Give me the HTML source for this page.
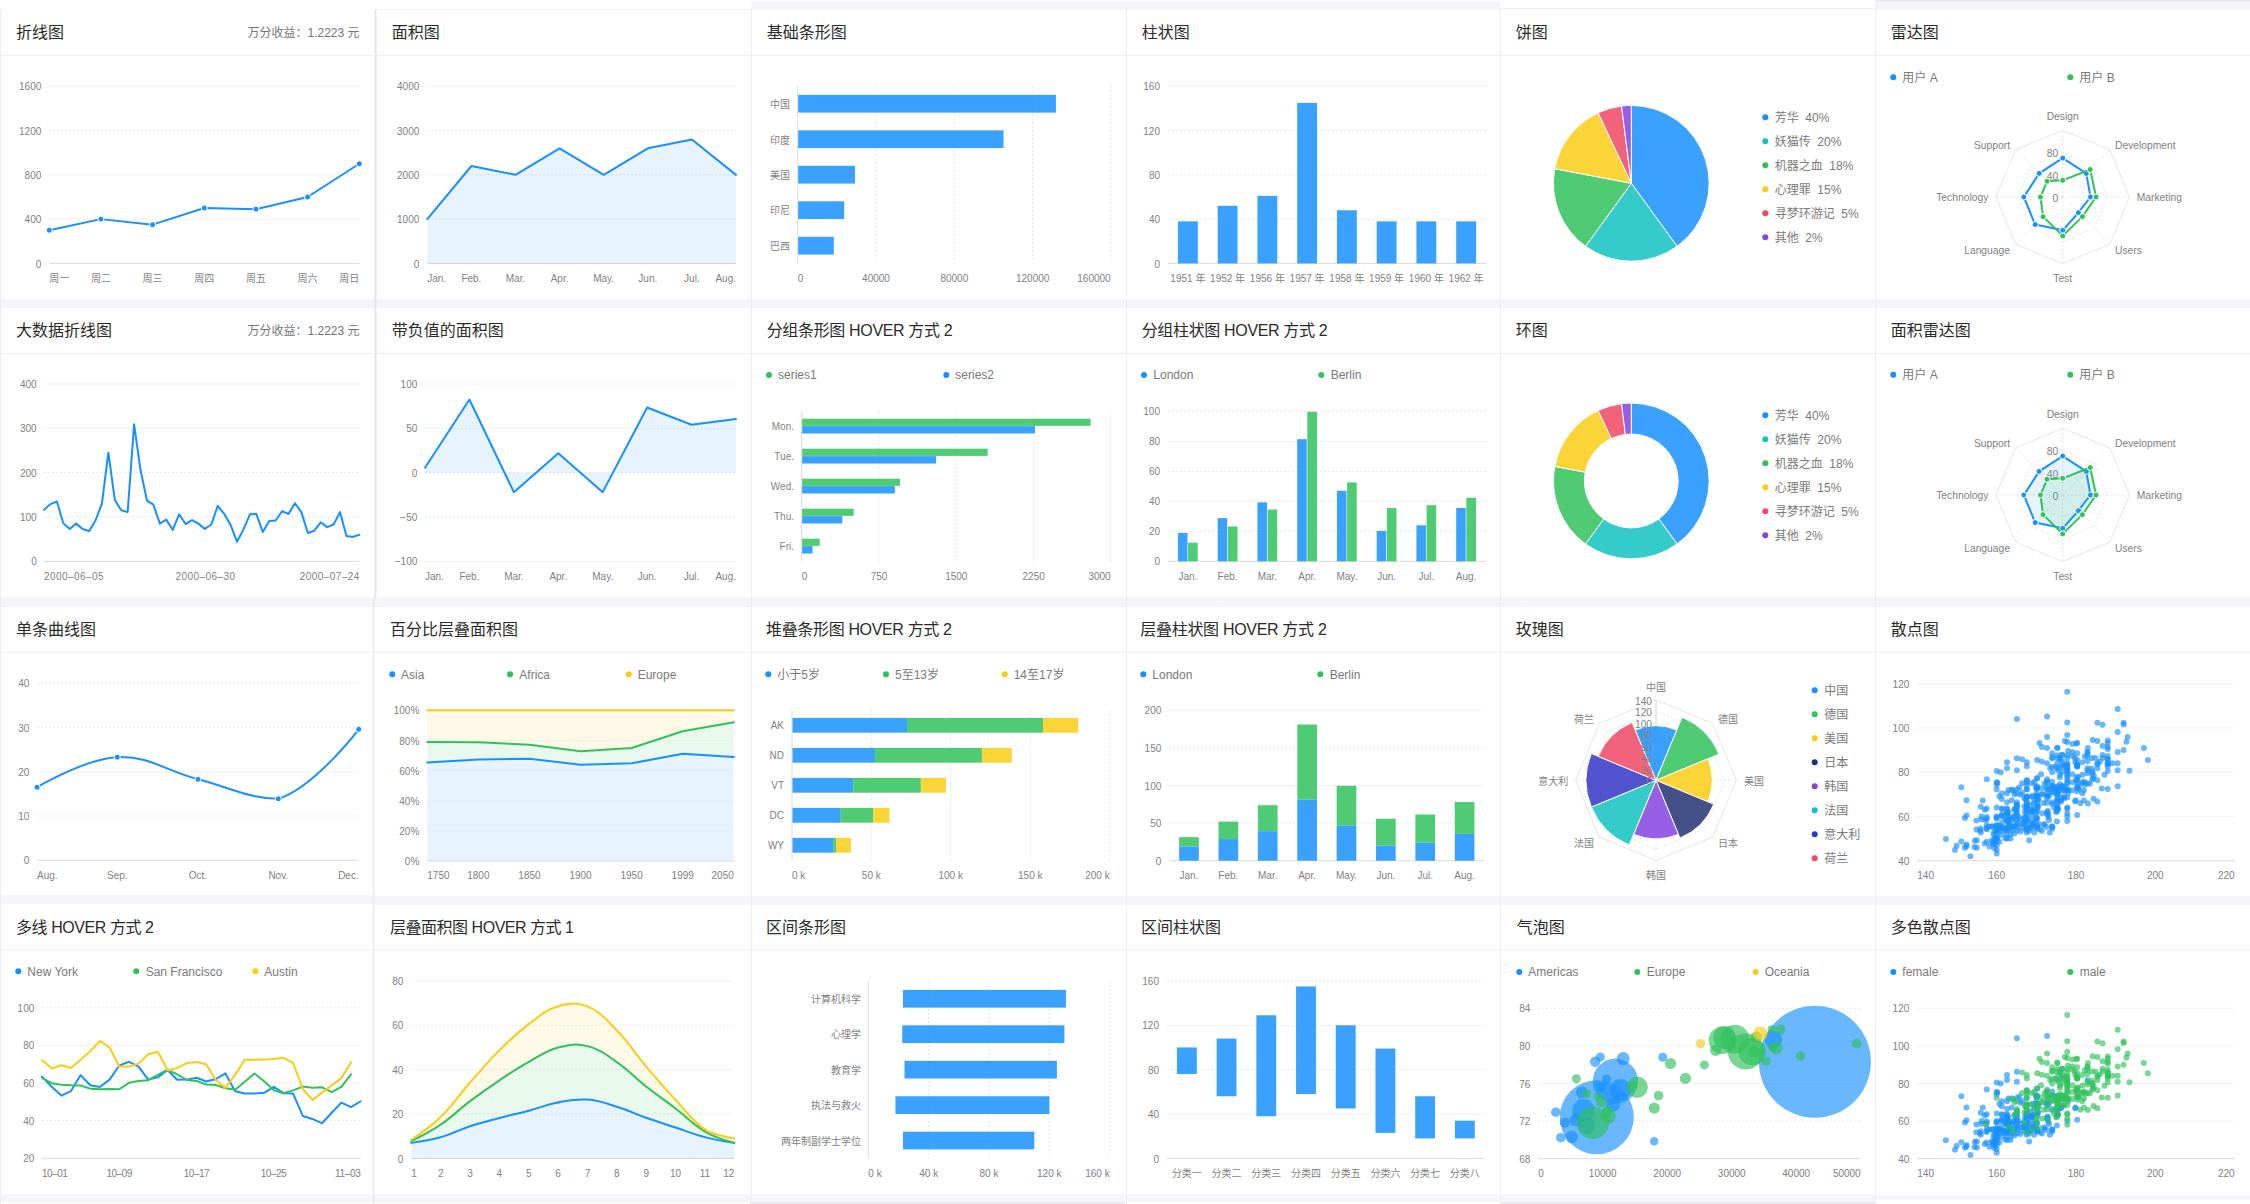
<!DOCTYPE html>
<html lang="zh"><head><meta charset="utf-8"><title>Charts</title>
<style>
html,body{margin:0;padding:0;background:#fff;}
body{width:2250px;height:1204px;overflow:hidden;}
svg{display:block;font-family:'Liberation Sans','Noto Sans CJK SC',sans-serif;}
</style></head><body>
<svg width="2250" height="1204" viewBox="0 0 2250 1204">
<rect x="0" y="0" width="2250" height="1204" fill="#fff"/>
<rect x="751" y="1" width="749" height="9" fill="#f4f4f9"/>
<rect x="1875" y="0" width="375" height="10" fill="#f4f4f9"/>
<rect x="1875" y="0" width="375" height="1.6" fill="#ebebee"/>
<rect x="0" y="299" width="2250" height="9" fill="#f4f4f9"/>
<rect x="0" y="597" width="2250" height="10" fill="#f4f4f9"/>
<rect x="0" y="895" width="374" height="9" fill="#f4f4f9"/>
<rect x="374" y="896" width="1876" height="9" fill="#f4f4f9"/>
<rect x="0" y="1194" width="750" height="8.5" fill="#f4f4f9"/>
<rect x="750" y="1194" width="750" height="8" fill="#f4f4f9"/>
<rect x="750" y="1202" width="375" height="2" fill="#e9e9ee"/>
<rect x="1500" y="1194" width="375" height="8" fill="#f4f4f9"/>
<rect x="1500" y="1202" width="375" height="2" fill="#e9e9ee"/>
<rect x="1875" y="1195.5" width="375" height="4" fill="#f4f4f9"/>
<line x1="376" y1="9.6" x2="751" y2="9.6" stroke="#f0f0f0" stroke-width="1"/>
<line x1="1500" y1="8.5" x2="1875" y2="8.5" stroke="#ededf0" stroke-width="1"/>
<rect x="374.5" y="10" width="2" height="587" fill="#e6e6e9"/>
<rect x="372.8" y="597" width="1.6" height="607" fill="#e9e9ec"/>
<line x1="751.5" y1="10" x2="751.5" y2="1204" stroke="#efeff1" stroke-width="1"/>
<line x1="1126.5" y1="10" x2="1126.5" y2="1204" stroke="#efeff1" stroke-width="1"/>
<line x1="1500.5" y1="10" x2="1500.5" y2="1204" stroke="#efeff1" stroke-width="1"/>
<line x1="1875.5" y1="10" x2="1875.5" y2="1204" stroke="#efeff1" stroke-width="1"/>
<line x1="0.5" y1="10" x2="0.5" y2="1204" stroke="#efeff1" stroke-width="1"/>
<line x1="0" y1="55.3" x2="2250" y2="55.3" stroke="#eeeef0" stroke-width="1"/>
<line x1="0" y1="353.3" x2="2250" y2="353.3" stroke="#eeeef0" stroke-width="1"/>
<line x1="0" y1="652.3" x2="2250" y2="652.3" stroke="#eeeef0" stroke-width="1"/>
<line x1="0" y1="949.8" x2="2250" y2="949.8" stroke="#eeeef0" stroke-width="1"/>
<text x="16" y="38.46" font-size="16" fill="#2b2b2b">折线图</text>
<text x="359.5" y="37.02" font-size="12" fill="#757575" text-anchor="end">万分收益：1.2223 元</text>
<line x1="49.3" y1="86.3" x2="359.3" y2="86.3" stroke="#e7e7e7" stroke-width="1" stroke-dasharray="2 2"/>
<text x="41.3" y="90.4" font-size="10" fill="#7f7f7f" text-anchor="end">1600</text>
<line x1="49.3" y1="130.57" x2="359.3" y2="130.57" stroke="#e7e7e7" stroke-width="1" stroke-dasharray="2 2"/>
<text x="41.3" y="134.67" font-size="10" fill="#7f7f7f" text-anchor="end">1200</text>
<line x1="49.3" y1="174.85" x2="359.3" y2="174.85" stroke="#e7e7e7" stroke-width="1" stroke-dasharray="2 2"/>
<text x="41.3" y="178.95" font-size="10" fill="#7f7f7f" text-anchor="end">800</text>
<line x1="49.3" y1="219.12" x2="359.3" y2="219.12" stroke="#e7e7e7" stroke-width="1" stroke-dasharray="2 2"/>
<text x="41.3" y="223.22" font-size="10" fill="#7f7f7f" text-anchor="end">400</text>
<line x1="49.3" y1="263.4" x2="359.3" y2="263.4" stroke="#dadada" stroke-width="1"/>
<text x="41.3" y="267.5" font-size="10" fill="#7f7f7f" text-anchor="end">0</text>
<text x="49.3" y="282.2" font-size="10" fill="#7f7f7f">周一</text>
<text x="100.9" y="282.2" font-size="10" fill="#7f7f7f" text-anchor="middle">周二</text>
<text x="152.6" y="282.2" font-size="10" fill="#7f7f7f" text-anchor="middle">周三</text>
<text x="204.3" y="282.2" font-size="10" fill="#7f7f7f" text-anchor="middle">周四</text>
<text x="256" y="282.2" font-size="10" fill="#7f7f7f" text-anchor="middle">周五</text>
<text x="307.6" y="282.2" font-size="10" fill="#7f7f7f" text-anchor="middle">周六</text>
<text x="359.3" y="282.2" font-size="10" fill="#7f7f7f" text-anchor="end">周日</text>
<polyline points="49.3,230.19 100.9,219.12 152.6,224.66 204.3,208.06 256,209.16 307.6,196.99 359.3,163.78" fill="none" stroke="#1890FF" stroke-width="2" stroke-linejoin="round" stroke-linecap="round"/>
<circle cx="49.3" cy="230.19" r="3" fill="#1890FF" stroke="#fff" stroke-width="1"/>
<circle cx="100.9" cy="219.12" r="3" fill="#1890FF" stroke="#fff" stroke-width="1"/>
<circle cx="152.6" cy="224.66" r="3" fill="#1890FF" stroke="#fff" stroke-width="1"/>
<circle cx="204.3" cy="208.06" r="3" fill="#1890FF" stroke="#fff" stroke-width="1"/>
<circle cx="256" cy="209.16" r="3" fill="#1890FF" stroke="#fff" stroke-width="1"/>
<circle cx="307.6" cy="196.99" r="3" fill="#1890FF" stroke="#fff" stroke-width="1"/>
<circle cx="359.3" cy="163.78" r="3" fill="#1890FF" stroke="#fff" stroke-width="1"/>
<text x="391.7" y="38.46" font-size="16" fill="#2b2b2b">面积图</text>
<line x1="427.3" y1="86.3" x2="736" y2="86.3" stroke="#e7e7e7" stroke-width="1" stroke-dasharray="2 2"/>
<text x="419.3" y="90.4" font-size="10" fill="#7f7f7f" text-anchor="end">4000</text>
<line x1="427.3" y1="130.57" x2="736" y2="130.57" stroke="#e7e7e7" stroke-width="1" stroke-dasharray="2 2"/>
<text x="419.3" y="134.67" font-size="10" fill="#7f7f7f" text-anchor="end">3000</text>
<line x1="427.3" y1="174.85" x2="736" y2="174.85" stroke="#e7e7e7" stroke-width="1" stroke-dasharray="2 2"/>
<text x="419.3" y="178.95" font-size="10" fill="#7f7f7f" text-anchor="end">2000</text>
<line x1="427.3" y1="219.12" x2="736" y2="219.12" stroke="#e7e7e7" stroke-width="1" stroke-dasharray="2 2"/>
<text x="419.3" y="223.22" font-size="10" fill="#7f7f7f" text-anchor="end">1000</text>
<line x1="427.3" y1="263.4" x2="736" y2="263.4" stroke="#dadada" stroke-width="1"/>
<text x="419.3" y="267.5" font-size="10" fill="#7f7f7f" text-anchor="end">0</text>
<text x="427.3" y="281.9" font-size="10" fill="#7f7f7f">Jan.</text>
<text x="471.4" y="281.9" font-size="10" fill="#7f7f7f" text-anchor="middle">Feb.</text>
<text x="515.5" y="281.9" font-size="10" fill="#7f7f7f" text-anchor="middle">Mar.</text>
<text x="559.6" y="281.9" font-size="10" fill="#7f7f7f" text-anchor="middle">Apr.</text>
<text x="603.7" y="281.9" font-size="10" fill="#7f7f7f" text-anchor="middle">May.</text>
<text x="647.8" y="281.9" font-size="10" fill="#7f7f7f" text-anchor="middle">Jun.</text>
<text x="691.9" y="281.9" font-size="10" fill="#7f7f7f" text-anchor="middle">Jul.</text>
<text x="736" y="281.9" font-size="10" fill="#7f7f7f" text-anchor="end">Aug.</text>
<polygon points="427.3,219.12 471.4,166 515.5,174.85 559.6,148.29 603.7,174.85 647.8,148.29 691.9,139.43 736,174.85 736,263.4 427.3,263.4" fill="#1890FF" fill-opacity="0.1"/>
<polyline points="427.3,219.12 471.4,166 515.5,174.85 559.6,148.29 603.7,174.85 647.8,148.29 691.9,139.43 736,174.85" fill="none" stroke="#1890FF" stroke-width="2" stroke-linejoin="round" stroke-linecap="round"/>
<text x="766.7" y="38.46" font-size="16" fill="#2b2b2b">基础条形图</text>
<line x1="876" y1="86" x2="876" y2="263.4" stroke="#e7e7e7" stroke-width="1" stroke-dasharray="2 2"/>
<line x1="954.3" y1="86" x2="954.3" y2="263.4" stroke="#e7e7e7" stroke-width="1" stroke-dasharray="2 2"/>
<line x1="1032.7" y1="86" x2="1032.7" y2="263.4" stroke="#e7e7e7" stroke-width="1" stroke-dasharray="2 2"/>
<line x1="1110.7" y1="86" x2="1110.7" y2="263.4" stroke="#e7e7e7" stroke-width="1" stroke-dasharray="2 2"/>
<line x1="797.7" y1="86" x2="797.7" y2="263.4" stroke="#dadada" stroke-width="1"/>
<rect x="798.2" y="94.87" width="257.72" height="17.74" fill="#1890FF" fill-opacity="0.85"/>
<text x="790" y="108.04" font-size="10" fill="#7f7f7f" text-anchor="end">中国</text>
<rect x="798.2" y="130.35" width="205.35" height="17.74" fill="#1890FF" fill-opacity="0.85"/>
<text x="790" y="143.52" font-size="10" fill="#7f7f7f" text-anchor="end">印度</text>
<rect x="798.2" y="165.83" width="56.8" height="17.74" fill="#1890FF" fill-opacity="0.85"/>
<text x="790" y="179" font-size="10" fill="#7f7f7f" text-anchor="end">美国</text>
<rect x="798.2" y="201.31" width="45.95" height="17.74" fill="#1890FF" fill-opacity="0.85"/>
<text x="790" y="214.48" font-size="10" fill="#7f7f7f" text-anchor="end">印尼</text>
<rect x="798.2" y="236.79" width="35.61" height="17.74" fill="#1890FF" fill-opacity="0.85"/>
<text x="790" y="249.96" font-size="10" fill="#7f7f7f" text-anchor="end">巴西</text>
<text x="797.7" y="281.9" font-size="10" fill="#7f7f7f">0</text>
<text x="876" y="281.9" font-size="10" fill="#7f7f7f" text-anchor="middle">40000</text>
<text x="954.3" y="281.9" font-size="10" fill="#7f7f7f" text-anchor="middle">80000</text>
<text x="1032.7" y="281.9" font-size="10" fill="#7f7f7f" text-anchor="middle">120000</text>
<text x="1110.7" y="281.9" font-size="10" fill="#7f7f7f" text-anchor="end">160000</text>
<text x="1141.7" y="38.46" font-size="16" fill="#2b2b2b">柱状图</text>
<line x1="1168" y1="86.3" x2="1486" y2="86.3" stroke="#e7e7e7" stroke-width="1" stroke-dasharray="2 2"/>
<text x="1160" y="90.4" font-size="10" fill="#7f7f7f" text-anchor="end">160</text>
<line x1="1168" y1="130.57" x2="1486" y2="130.57" stroke="#e7e7e7" stroke-width="1" stroke-dasharray="2 2"/>
<text x="1160" y="134.67" font-size="10" fill="#7f7f7f" text-anchor="end">120</text>
<line x1="1168" y1="174.85" x2="1486" y2="174.85" stroke="#e7e7e7" stroke-width="1" stroke-dasharray="2 2"/>
<text x="1160" y="178.95" font-size="10" fill="#7f7f7f" text-anchor="end">80</text>
<line x1="1168" y1="219.12" x2="1486" y2="219.12" stroke="#e7e7e7" stroke-width="1" stroke-dasharray="2 2"/>
<text x="1160" y="223.22" font-size="10" fill="#7f7f7f" text-anchor="end">40</text>
<line x1="1168" y1="263.4" x2="1486" y2="263.4" stroke="#dadada" stroke-width="1"/>
<text x="1160" y="267.5" font-size="10" fill="#7f7f7f" text-anchor="end">0</text>
<rect x="1177.94" y="221.34" width="19.88" height="42.06" fill="#1890FF" fill-opacity="0.85"/>
<text x="1187.88" y="281.9" font-size="10" fill="#7f7f7f" text-anchor="middle">1951 年</text>
<rect x="1217.69" y="205.84" width="19.88" height="57.56" fill="#1890FF" fill-opacity="0.85"/>
<text x="1227.62" y="281.9" font-size="10" fill="#7f7f7f" text-anchor="middle">1952 年</text>
<rect x="1257.44" y="195.88" width="19.88" height="67.52" fill="#1890FF" fill-opacity="0.85"/>
<text x="1267.38" y="281.9" font-size="10" fill="#7f7f7f" text-anchor="middle">1956 年</text>
<rect x="1297.19" y="102.9" width="19.88" height="160.5" fill="#1890FF" fill-opacity="0.85"/>
<text x="1307.12" y="281.9" font-size="10" fill="#7f7f7f" text-anchor="middle">1957 年</text>
<rect x="1336.94" y="210.27" width="19.88" height="53.13" fill="#1890FF" fill-opacity="0.85"/>
<text x="1346.88" y="281.9" font-size="10" fill="#7f7f7f" text-anchor="middle">1958 年</text>
<rect x="1376.69" y="221.34" width="19.88" height="42.06" fill="#1890FF" fill-opacity="0.85"/>
<text x="1386.62" y="281.9" font-size="10" fill="#7f7f7f" text-anchor="middle">1959 年</text>
<rect x="1416.44" y="221.34" width="19.88" height="42.06" fill="#1890FF" fill-opacity="0.85"/>
<text x="1426.38" y="281.9" font-size="10" fill="#7f7f7f" text-anchor="middle">1960 年</text>
<rect x="1456.19" y="221.34" width="19.88" height="42.06" fill="#1890FF" fill-opacity="0.85"/>
<text x="1466.12" y="281.9" font-size="10" fill="#7f7f7f" text-anchor="middle">1962 年</text>
<text x="1515.7" y="38.46" font-size="16" fill="#2b2b2b">饼图</text>
<path d="M1631.3,183.3 L1631.3,105.4 A77.9,77.9 0 0 1 1677.09,246.32 Z" fill="#1890FF" fill-opacity="0.85" stroke="#fff" stroke-width="1"/>
<path d="M1631.3,183.3 L1677.09,246.32 A77.9,77.9 0 0 1 1585.51,246.32 Z" fill="#13C2C2" fill-opacity="0.85" stroke="#fff" stroke-width="1"/>
<path d="M1631.3,183.3 L1585.51,246.32 A77.9,77.9 0 0 1 1554.78,168.7 Z" fill="#2FC25B" fill-opacity="0.85" stroke="#fff" stroke-width="1"/>
<path d="M1631.3,183.3 L1554.78,168.7 A77.9,77.9 0 0 1 1598.13,112.81 Z" fill="#FACC14" fill-opacity="0.85" stroke="#fff" stroke-width="1"/>
<path d="M1631.3,183.3 L1598.13,112.81 A77.9,77.9 0 0 1 1621.54,106.01 Z" fill="#F04864" fill-opacity="0.85" stroke="#fff" stroke-width="1"/>
<path d="M1631.3,183.3 L1621.54,106.01 A77.9,77.9 0 0 1 1631.3,105.4 Z" fill="#8543E0" fill-opacity="0.85" stroke="#fff" stroke-width="1"/>
<circle cx="1765.3" cy="117.3" r="3" fill="#1890FF"/>
<text x="1774.7" y="121.62" font-size="12" fill="#7a7a7a" style="white-space:pre">芳华  40%</text>
<circle cx="1765.3" cy="141.3" r="3" fill="#13C2C2"/>
<text x="1774.7" y="145.62" font-size="12" fill="#7a7a7a" style="white-space:pre">妖猫传  20%</text>
<circle cx="1765.3" cy="165.3" r="3" fill="#2FC25B"/>
<text x="1774.7" y="169.62" font-size="12" fill="#7a7a7a" style="white-space:pre">机器之血  18%</text>
<circle cx="1765.3" cy="189.3" r="3" fill="#FACC14"/>
<text x="1774.7" y="193.62" font-size="12" fill="#7a7a7a" style="white-space:pre">心理罪  15%</text>
<circle cx="1765.3" cy="213.3" r="3" fill="#F04864"/>
<text x="1774.7" y="217.62" font-size="12" fill="#7a7a7a" style="white-space:pre">寻梦环游记  5%</text>
<circle cx="1765.3" cy="237.3" r="3" fill="#8543E0"/>
<text x="1774.7" y="241.62" font-size="12" fill="#7a7a7a" style="white-space:pre">其他  2%</text>
<text x="1890.7" y="38.46" font-size="16" fill="#2b2b2b">雷达图</text>
<circle cx="1893.3" cy="77.3" r="3" fill="#1890FF"/>
<text x="1902.3" y="81.62" font-size="12" fill="#7a7a7a">用户 A</text>
<circle cx="2070.3" cy="77.3" r="3" fill="#2FC25B"/>
<text x="2079.3" y="81.62" font-size="12" fill="#7a7a7a">用户 B</text>
<polygon points="2062.7,174.77 2078.42,181.28 2084.93,197 2078.42,212.72 2062.7,219.23 2046.98,212.72 2040.47,197 2046.98,181.28" fill="none" stroke="#e7e7e7" stroke-dasharray="2 2"/>
<polygon points="2062.7,152.53 2094.14,165.56 2107.17,197 2094.14,228.44 2062.7,241.47 2031.26,228.44 2018.23,197 2031.26,165.56" fill="none" stroke="#e7e7e7" stroke-dasharray="2 2"/>
<polygon points="2062.7,130.3 2109.86,149.84 2129.4,197 2109.86,244.16 2062.7,263.7 2015.54,244.16 1996,197 2015.54,149.84" fill="none" stroke="#e6e6e6"/>
<line x1="2062.7" y1="197" x2="2062.7" y2="130.3" stroke="#e7e7e7" stroke-dasharray="2 2"/>
<line x1="2062.7" y1="197" x2="2109.86" y2="149.84" stroke="#e7e7e7" stroke-dasharray="2 2"/>
<line x1="2062.7" y1="197" x2="2129.4" y2="197" stroke="#e7e7e7" stroke-dasharray="2 2"/>
<line x1="2062.7" y1="197" x2="2109.86" y2="244.16" stroke="#e7e7e7" stroke-dasharray="2 2"/>
<line x1="2062.7" y1="197" x2="2062.7" y2="263.7" stroke="#e7e7e7" stroke-dasharray="2 2"/>
<line x1="2062.7" y1="197" x2="2015.54" y2="244.16" stroke="#e7e7e7" stroke-dasharray="2 2"/>
<line x1="2062.7" y1="197" x2="1996" y2="197" stroke="#e7e7e7" stroke-dasharray="2 2"/>
<line x1="2062.7" y1="197" x2="2015.54" y2="149.84" stroke="#e7e7e7" stroke-dasharray="2 2"/>
<text x="2062.7" y="120.41" font-size="10.3" fill="#7f7f7f" text-anchor="middle">Design</text>
<text x="2115" y="148.71" font-size="10.3" fill="#7f7f7f">Development</text>
<text x="2136.7" y="201.01" font-size="10.3" fill="#7f7f7f">Marketing</text>
<text x="2115" y="253.71" font-size="10.3" fill="#7f7f7f">Users</text>
<text x="2062.7" y="282.01" font-size="10.3" fill="#7f7f7f" text-anchor="middle">Test</text>
<text x="2010" y="253.71" font-size="10.3" fill="#7f7f7f" text-anchor="end">Language</text>
<text x="1988.3" y="201.01" font-size="10.3" fill="#7f7f7f" text-anchor="end">Technology</text>
<text x="2010" y="148.71" font-size="10.3" fill="#7f7f7f" text-anchor="end">Support</text>
<text x="2058.2" y="201.51" font-size="10.3" fill="#7f7f7f" text-anchor="end">0</text>
<text x="2058.2" y="179.67" font-size="10.3" fill="#7f7f7f" text-anchor="end">40</text>
<text x="2058.2" y="157.44" font-size="10.3" fill="#7f7f7f" text-anchor="end">80</text>
<polygon points="2062.7,158.09 2086.28,173.42 2090.49,197 2078.42,212.72 2062.7,230.35 2035.19,224.51 2023.79,197 2039.12,173.42" fill="none" stroke="#1890FF" stroke-width="2" stroke-linejoin="round"/>
<circle cx="2062.7" cy="158.09" r="3" fill="#1890FF" stroke="#fff" stroke-width="1"/>
<circle cx="2086.28" cy="173.42" r="3" fill="#1890FF" stroke="#fff" stroke-width="1"/>
<circle cx="2090.49" cy="197" r="3" fill="#1890FF" stroke="#fff" stroke-width="1"/>
<circle cx="2078.42" cy="212.72" r="3" fill="#1890FF" stroke="#fff" stroke-width="1"/>
<circle cx="2062.7" cy="230.35" r="3" fill="#1890FF" stroke="#fff" stroke-width="1"/>
<circle cx="2035.19" cy="224.51" r="3" fill="#1890FF" stroke="#fff" stroke-width="1"/>
<circle cx="2023.79" cy="197" r="3" fill="#1890FF" stroke="#fff" stroke-width="1"/>
<circle cx="2039.12" cy="173.42" r="3" fill="#1890FF" stroke="#fff" stroke-width="1"/>
<polygon points="2062.7,180.32 2090.21,169.49 2096.05,197 2082.35,216.65 2062.7,235.91 2043.05,216.65 2040.47,197 2046.98,181.28" fill="none" stroke="#2FC25B" stroke-width="2" stroke-linejoin="round"/>
<circle cx="2062.7" cy="180.32" r="3" fill="#2FC25B" stroke="#fff" stroke-width="1"/>
<circle cx="2090.21" cy="169.49" r="3" fill="#2FC25B" stroke="#fff" stroke-width="1"/>
<circle cx="2096.05" cy="197" r="3" fill="#2FC25B" stroke="#fff" stroke-width="1"/>
<circle cx="2082.35" cy="216.65" r="3" fill="#2FC25B" stroke="#fff" stroke-width="1"/>
<circle cx="2062.7" cy="235.91" r="3" fill="#2FC25B" stroke="#fff" stroke-width="1"/>
<circle cx="2043.05" cy="216.65" r="3" fill="#2FC25B" stroke="#fff" stroke-width="1"/>
<circle cx="2040.47" cy="197" r="3" fill="#2FC25B" stroke="#fff" stroke-width="1"/>
<circle cx="2046.98" cy="181.28" r="3" fill="#2FC25B" stroke="#fff" stroke-width="1"/>
<text x="16" y="336.46" font-size="16" fill="#2b2b2b">大数据折线图</text>
<text x="359.5" y="335.02" font-size="12" fill="#757575" text-anchor="end">万分收益：1.2223 元</text>
<line x1="44" y1="384" x2="359.3" y2="384" stroke="#e7e7e7" stroke-width="1" stroke-dasharray="2 2"/>
<text x="36.7" y="388.1" font-size="10" fill="#7f7f7f" text-anchor="end">400</text>
<line x1="44" y1="428.32" x2="359.3" y2="428.32" stroke="#e7e7e7" stroke-width="1" stroke-dasharray="2 2"/>
<text x="36.7" y="432.43" font-size="10" fill="#7f7f7f" text-anchor="end">300</text>
<line x1="44" y1="472.65" x2="359.3" y2="472.65" stroke="#e7e7e7" stroke-width="1" stroke-dasharray="2 2"/>
<text x="36.7" y="476.75" font-size="10" fill="#7f7f7f" text-anchor="end">200</text>
<line x1="44" y1="516.97" x2="359.3" y2="516.97" stroke="#e7e7e7" stroke-width="1" stroke-dasharray="2 2"/>
<text x="36.7" y="521.07" font-size="10" fill="#7f7f7f" text-anchor="end">100</text>
<line x1="44" y1="561.3" x2="359.3" y2="561.3" stroke="#dadada" stroke-width="1"/>
<text x="36.7" y="565.4" font-size="10" fill="#7f7f7f" text-anchor="end">0</text>
<text x="44" y="579.9" font-size="10" fill="#7f7f7f" textLength="59.5" lengthAdjust="spacing">2000–06–05</text>
<text x="205.3" y="579.9" font-size="10" fill="#7f7f7f" text-anchor="middle" textLength="59.5" lengthAdjust="spacing">2000–06–30</text>
<text x="359.3" y="579.9" font-size="10" fill="#7f7f7f" text-anchor="end" textLength="59.5" lengthAdjust="spacing">2000–07–24</text>
<polyline points="44,509.88 50.43,504.12 56.87,501.46 63.3,523.18 69.74,528.94 76.17,523.62 82.61,528.94 89.04,531.16 95.48,520.52 101.91,503.68 108.35,452.7 114.78,499.69 121.22,510.33 127.65,512.1 134.09,424.34 140.52,469.99 146.96,500.57 153.39,504.56 159.82,523.62 166.26,519.63 172.69,529.83 179.13,514.32 185.56,524.07 192,520.08 198.43,523.62 204.87,528.94 211.3,524.51 217.74,505.89 224.17,513.87 230.61,524.95 237.04,541.8 243.48,529.39 249.91,514.32 256.34,513.87 262.78,532.05 269.21,520.96 275.65,520.52 282.08,511.21 288.52,513.87 294.95,503.23 301.39,512.1 307.82,532.93 314.26,530.72 320.69,522.29 327.13,527.17 333.56,524.51 340,512.1 346.43,536.03 352.87,536.92 359.3,534.7" fill="none" stroke="#1890FF" stroke-width="2" stroke-linejoin="round" stroke-linecap="round"/>
<text x="391.7" y="336.46" font-size="16" fill="#2b2b2b">带负值的面积图</text>
<line x1="425" y1="384" x2="736" y2="384" stroke="#e7e7e7" stroke-width="1" stroke-dasharray="2 2"/>
<text x="417.3" y="388.1" font-size="10" fill="#7f7f7f" text-anchor="end">100</text>
<line x1="425" y1="428.32" x2="736" y2="428.32" stroke="#e7e7e7" stroke-width="1" stroke-dasharray="2 2"/>
<text x="417.3" y="432.43" font-size="10" fill="#7f7f7f" text-anchor="end">50</text>
<line x1="425" y1="472.65" x2="736" y2="472.65" stroke="#e7e7e7" stroke-width="1" stroke-dasharray="2 2"/>
<text x="417.3" y="476.75" font-size="10" fill="#7f7f7f" text-anchor="end">0</text>
<line x1="425" y1="516.97" x2="736" y2="516.97" stroke="#e7e7e7" stroke-width="1" stroke-dasharray="2 2"/>
<text x="417.3" y="521.07" font-size="10" fill="#7f7f7f" text-anchor="end">−50</text>
<line x1="425" y1="561.3" x2="736" y2="561.3" stroke="#e7e7e7" stroke-width="1" stroke-dasharray="2 2"/>
<text x="417.3" y="565.4" font-size="10" fill="#7f7f7f" text-anchor="end">−100</text>
<text x="425" y="579.9" font-size="10" fill="#7f7f7f">Jan.</text>
<text x="469.43" y="579.9" font-size="10" fill="#7f7f7f" text-anchor="middle">Feb.</text>
<text x="513.86" y="579.9" font-size="10" fill="#7f7f7f" text-anchor="middle">Mar.</text>
<text x="558.29" y="579.9" font-size="10" fill="#7f7f7f" text-anchor="middle">Apr.</text>
<text x="602.71" y="579.9" font-size="10" fill="#7f7f7f" text-anchor="middle">May.</text>
<text x="647.14" y="579.9" font-size="10" fill="#7f7f7f" text-anchor="middle">Jun.</text>
<text x="691.57" y="579.9" font-size="10" fill="#7f7f7f" text-anchor="middle">Jul.</text>
<text x="736" y="579.9" font-size="10" fill="#7f7f7f" text-anchor="end">Aug.</text>
<polygon points="425,467.77 469.43,399.51 513.86,492.15 558.29,453.15 602.71,492.15 647.14,407.49 691.57,424.78 736,419.02 736,472.65 425,472.65" fill="#1890FF" fill-opacity="0.1"/>
<polyline points="425,467.77 469.43,399.51 513.86,492.15 558.29,453.15 602.71,492.15 647.14,407.49 691.57,424.78 736,419.02" fill="none" stroke="#1890FF" stroke-width="2" stroke-linejoin="round" stroke-linecap="round"/>
<text x="766.7" y="336.46" font-size="16" fill="#2b2b2b" textLength="186" lengthAdjust="spacing">分组条形图 HOVER 方式 2</text>
<circle cx="769" cy="375" r="3" fill="#2FC25B"/>
<text x="778" y="379.32" font-size="12" fill="#7a7a7a">series1</text>
<circle cx="946.3" cy="375" r="3" fill="#1890FF"/>
<text x="955.3" y="379.32" font-size="12" fill="#7a7a7a">series2</text>
<line x1="879" y1="411.3" x2="879" y2="561.3" stroke="#e7e7e7" stroke-width="1" stroke-dasharray="2 2"/>
<line x1="956.3" y1="411.3" x2="956.3" y2="561.3" stroke="#e7e7e7" stroke-width="1" stroke-dasharray="2 2"/>
<line x1="1033.7" y1="411.3" x2="1033.7" y2="561.3" stroke="#e7e7e7" stroke-width="1" stroke-dasharray="2 2"/>
<line x1="1110.7" y1="411.3" x2="1110.7" y2="561.3" stroke="#e7e7e7" stroke-width="1" stroke-dasharray="2 2"/>
<line x1="801.7" y1="411.3" x2="801.7" y2="561.3" stroke="#dadada" stroke-width="1"/>
<rect x="802.2" y="418.7" width="288.4" height="7.2" fill="#2FC25B" fill-opacity="0.85"/>
<rect x="802.2" y="426.1" width="232.78" height="7.4" fill="#1890FF" fill-opacity="0.85"/>
<text x="794" y="429.9" font-size="10" fill="#7f7f7f" text-anchor="end">Mon.</text>
<rect x="802.2" y="448.7" width="185.4" height="7.2" fill="#2FC25B" fill-opacity="0.85"/>
<rect x="802.2" y="456.1" width="133.9" height="7.4" fill="#1890FF" fill-opacity="0.85"/>
<text x="794" y="459.9" font-size="10" fill="#7f7f7f" text-anchor="end">Tue.</text>
<rect x="802.2" y="478.7" width="97.85" height="7.2" fill="#2FC25B" fill-opacity="0.85"/>
<rect x="802.2" y="486.1" width="92.7" height="7.4" fill="#1890FF" fill-opacity="0.85"/>
<text x="794" y="489.9" font-size="10" fill="#7f7f7f" text-anchor="end">Wed.</text>
<rect x="802.2" y="508.7" width="51.5" height="7.2" fill="#2FC25B" fill-opacity="0.85"/>
<rect x="802.2" y="516.1" width="40.17" height="7.4" fill="#1890FF" fill-opacity="0.85"/>
<text x="794" y="519.9" font-size="10" fill="#7f7f7f" text-anchor="end">Thu.</text>
<rect x="802.2" y="538.7" width="17.51" height="7.2" fill="#2FC25B" fill-opacity="0.85"/>
<rect x="802.2" y="546.1" width="10.3" height="7.4" fill="#1890FF" fill-opacity="0.85"/>
<text x="794" y="549.9" font-size="10" fill="#7f7f7f" text-anchor="end">Fri.</text>
<text x="801.7" y="579.9" font-size="10" fill="#7f7f7f">0</text>
<text x="879" y="579.9" font-size="10" fill="#7f7f7f" text-anchor="middle">750</text>
<text x="956.3" y="579.9" font-size="10" fill="#7f7f7f" text-anchor="middle">1500</text>
<text x="1033.7" y="579.9" font-size="10" fill="#7f7f7f" text-anchor="middle">2250</text>
<text x="1110.7" y="579.9" font-size="10" fill="#7f7f7f" text-anchor="end">3000</text>
<text x="1141.7" y="336.46" font-size="16" fill="#2b2b2b" textLength="186" lengthAdjust="spacing">分组柱状图 HOVER 方式 2</text>
<circle cx="1144" cy="375" r="3" fill="#1890FF"/>
<text x="1153.3" y="379.32" font-size="12" fill="#7a7a7a">London</text>
<circle cx="1321.3" cy="375" r="3" fill="#2FC25B"/>
<text x="1330.7" y="379.32" font-size="12" fill="#7a7a7a">Berlin</text>
<line x1="1168" y1="411.3" x2="1486" y2="411.3" stroke="#e7e7e7" stroke-width="1" stroke-dasharray="2 2"/>
<text x="1160" y="415.4" font-size="10" fill="#7f7f7f" text-anchor="end">100</text>
<line x1="1168" y1="441.3" x2="1486" y2="441.3" stroke="#e7e7e7" stroke-width="1" stroke-dasharray="2 2"/>
<text x="1160" y="445.4" font-size="10" fill="#7f7f7f" text-anchor="end">80</text>
<line x1="1168" y1="471.3" x2="1486" y2="471.3" stroke="#e7e7e7" stroke-width="1" stroke-dasharray="2 2"/>
<text x="1160" y="475.4" font-size="10" fill="#7f7f7f" text-anchor="end">60</text>
<line x1="1168" y1="501.3" x2="1486" y2="501.3" stroke="#e7e7e7" stroke-width="1" stroke-dasharray="2 2"/>
<text x="1160" y="505.4" font-size="10" fill="#7f7f7f" text-anchor="end">40</text>
<line x1="1168" y1="531.3" x2="1486" y2="531.3" stroke="#e7e7e7" stroke-width="1" stroke-dasharray="2 2"/>
<text x="1160" y="535.4" font-size="10" fill="#7f7f7f" text-anchor="end">20</text>
<line x1="1168" y1="561.3" x2="1486" y2="561.3" stroke="#dadada" stroke-width="1"/>
<text x="1160" y="565.4" font-size="10" fill="#7f7f7f" text-anchor="end">0</text>
<rect x="1177.94" y="532.95" width="9.54" height="28.35" fill="#1890FF" fill-opacity="0.85"/>
<rect x="1188.08" y="542.7" width="9.64" height="18.6" fill="#2FC25B" fill-opacity="0.85"/>
<text x="1187.88" y="579.9" font-size="10" fill="#7f7f7f" text-anchor="middle">Jan.</text>
<rect x="1217.69" y="518.1" width="9.54" height="43.2" fill="#1890FF" fill-opacity="0.85"/>
<rect x="1227.83" y="526.5" width="9.64" height="34.8" fill="#2FC25B" fill-opacity="0.85"/>
<text x="1227.62" y="579.9" font-size="10" fill="#7f7f7f" text-anchor="middle">Feb.</text>
<rect x="1257.44" y="502.35" width="9.54" height="58.95" fill="#1890FF" fill-opacity="0.85"/>
<rect x="1267.58" y="509.55" width="9.64" height="51.75" fill="#2FC25B" fill-opacity="0.85"/>
<text x="1267.38" y="579.9" font-size="10" fill="#7f7f7f" text-anchor="middle">Mar.</text>
<rect x="1297.19" y="439.2" width="9.54" height="122.1" fill="#1890FF" fill-opacity="0.85"/>
<rect x="1307.33" y="411.75" width="9.64" height="149.55" fill="#2FC25B" fill-opacity="0.85"/>
<text x="1307.12" y="579.9" font-size="10" fill="#7f7f7f" text-anchor="middle">Apr.</text>
<rect x="1336.94" y="490.8" width="9.54" height="70.5" fill="#1890FF" fill-opacity="0.85"/>
<rect x="1347.08" y="482.4" width="9.64" height="78.9" fill="#2FC25B" fill-opacity="0.85"/>
<text x="1346.88" y="579.9" font-size="10" fill="#7f7f7f" text-anchor="middle">May.</text>
<rect x="1376.69" y="530.85" width="9.54" height="30.45" fill="#1890FF" fill-opacity="0.85"/>
<rect x="1386.83" y="508.05" width="9.64" height="53.25" fill="#2FC25B" fill-opacity="0.85"/>
<text x="1386.62" y="579.9" font-size="10" fill="#7f7f7f" text-anchor="middle">Jun.</text>
<rect x="1416.44" y="525.3" width="9.54" height="36" fill="#1890FF" fill-opacity="0.85"/>
<rect x="1426.58" y="505.2" width="9.64" height="56.1" fill="#2FC25B" fill-opacity="0.85"/>
<text x="1426.38" y="579.9" font-size="10" fill="#7f7f7f" text-anchor="middle">Jul.</text>
<rect x="1456.19" y="507.9" width="9.54" height="53.4" fill="#1890FF" fill-opacity="0.85"/>
<rect x="1466.33" y="497.7" width="9.64" height="63.6" fill="#2FC25B" fill-opacity="0.85"/>
<text x="1466.12" y="579.9" font-size="10" fill="#7f7f7f" text-anchor="middle">Aug.</text>
<text x="1515.7" y="336.46" font-size="16" fill="#2b2b2b">环图</text>
<path d="M1631.3,434.1 L1631.3,403.1 A77.9,77.9 0 0 1 1677.09,544.02 L1658.87,518.94 A46.9,46.9 0 0 0 1631.3,434.1 Z" fill="#1890FF" fill-opacity="0.85" stroke="#fff" stroke-width="1"/>
<path d="M1658.87,518.94 L1677.09,544.02 A77.9,77.9 0 0 1 1585.51,544.02 L1603.73,518.94 A46.9,46.9 0 0 0 1658.87,518.94 Z" fill="#13C2C2" fill-opacity="0.85" stroke="#fff" stroke-width="1"/>
<path d="M1603.73,518.94 L1585.51,544.02 A77.9,77.9 0 0 1 1554.78,466.4 L1585.23,472.21 A46.9,46.9 0 0 0 1603.73,518.94 Z" fill="#2FC25B" fill-opacity="0.85" stroke="#fff" stroke-width="1"/>
<path d="M1585.23,472.21 L1554.78,466.4 A77.9,77.9 0 0 1 1598.13,410.51 L1611.33,438.56 A46.9,46.9 0 0 0 1585.23,472.21 Z" fill="#FACC14" fill-opacity="0.85" stroke="#fff" stroke-width="1"/>
<path d="M1611.33,438.56 L1598.13,410.51 A77.9,77.9 0 0 1 1621.54,403.71 L1625.42,434.47 A46.9,46.9 0 0 0 1611.33,438.56 Z" fill="#F04864" fill-opacity="0.85" stroke="#fff" stroke-width="1"/>
<path d="M1625.42,434.47 L1621.54,403.71 A77.9,77.9 0 0 1 1631.3,403.1 L1631.3,434.1 A46.9,46.9 0 0 0 1625.42,434.47 Z" fill="#8543E0" fill-opacity="0.85" stroke="#fff" stroke-width="1"/>
<circle cx="1765.3" cy="415.3" r="3" fill="#1890FF"/>
<text x="1774.7" y="419.62" font-size="12" fill="#7a7a7a" style="white-space:pre">芳华  40%</text>
<circle cx="1765.3" cy="439.3" r="3" fill="#13C2C2"/>
<text x="1774.7" y="443.62" font-size="12" fill="#7a7a7a" style="white-space:pre">妖猫传  20%</text>
<circle cx="1765.3" cy="463.3" r="3" fill="#2FC25B"/>
<text x="1774.7" y="467.62" font-size="12" fill="#7a7a7a" style="white-space:pre">机器之血  18%</text>
<circle cx="1765.3" cy="487.3" r="3" fill="#FACC14"/>
<text x="1774.7" y="491.62" font-size="12" fill="#7a7a7a" style="white-space:pre">心理罪  15%</text>
<circle cx="1765.3" cy="511.3" r="3" fill="#F04864"/>
<text x="1774.7" y="515.62" font-size="12" fill="#7a7a7a" style="white-space:pre">寻梦环游记  5%</text>
<circle cx="1765.3" cy="535.3" r="3" fill="#8543E0"/>
<text x="1774.7" y="539.62" font-size="12" fill="#7a7a7a" style="white-space:pre">其他  2%</text>
<text x="1890.7" y="336.46" font-size="16" fill="#2b2b2b">面积雷达图</text>
<circle cx="1893.3" cy="374.8" r="3" fill="#1890FF"/>
<text x="1902.3" y="379.12" font-size="12" fill="#7a7a7a">用户 A</text>
<circle cx="2070.3" cy="374.8" r="3" fill="#2FC25B"/>
<text x="2079.3" y="379.12" font-size="12" fill="#7a7a7a">用户 B</text>
<polygon points="2062.7,472.77 2078.42,479.28 2084.93,495 2078.42,510.72 2062.7,517.23 2046.98,510.72 2040.47,495 2046.98,479.28" fill="none" stroke="#e7e7e7" stroke-dasharray="2 2"/>
<polygon points="2062.7,450.53 2094.14,463.56 2107.17,495 2094.14,526.44 2062.7,539.47 2031.26,526.44 2018.23,495 2031.26,463.56" fill="none" stroke="#e7e7e7" stroke-dasharray="2 2"/>
<polygon points="2062.7,428.3 2109.86,447.84 2129.4,495 2109.86,542.16 2062.7,561.7 2015.54,542.16 1996,495 2015.54,447.84" fill="none" stroke="#e6e6e6"/>
<line x1="2062.7" y1="495" x2="2062.7" y2="428.3" stroke="#e7e7e7" stroke-dasharray="2 2"/>
<line x1="2062.7" y1="495" x2="2109.86" y2="447.84" stroke="#e7e7e7" stroke-dasharray="2 2"/>
<line x1="2062.7" y1="495" x2="2129.4" y2="495" stroke="#e7e7e7" stroke-dasharray="2 2"/>
<line x1="2062.7" y1="495" x2="2109.86" y2="542.16" stroke="#e7e7e7" stroke-dasharray="2 2"/>
<line x1="2062.7" y1="495" x2="2062.7" y2="561.7" stroke="#e7e7e7" stroke-dasharray="2 2"/>
<line x1="2062.7" y1="495" x2="2015.54" y2="542.16" stroke="#e7e7e7" stroke-dasharray="2 2"/>
<line x1="2062.7" y1="495" x2="1996" y2="495" stroke="#e7e7e7" stroke-dasharray="2 2"/>
<line x1="2062.7" y1="495" x2="2015.54" y2="447.84" stroke="#e7e7e7" stroke-dasharray="2 2"/>
<text x="2062.7" y="418.41" font-size="10.3" fill="#7f7f7f" text-anchor="middle">Design</text>
<text x="2115" y="446.71" font-size="10.3" fill="#7f7f7f">Development</text>
<text x="2136.7" y="499.01" font-size="10.3" fill="#7f7f7f">Marketing</text>
<text x="2115" y="551.71" font-size="10.3" fill="#7f7f7f">Users</text>
<text x="2062.7" y="580.01" font-size="10.3" fill="#7f7f7f" text-anchor="middle">Test</text>
<text x="2010" y="551.71" font-size="10.3" fill="#7f7f7f" text-anchor="end">Language</text>
<text x="1988.3" y="499.01" font-size="10.3" fill="#7f7f7f" text-anchor="end">Technology</text>
<text x="2010" y="446.71" font-size="10.3" fill="#7f7f7f" text-anchor="end">Support</text>
<text x="2058.2" y="499.51" font-size="10.3" fill="#7f7f7f" text-anchor="end">0</text>
<text x="2058.2" y="477.67" font-size="10.3" fill="#7f7f7f" text-anchor="end">40</text>
<text x="2058.2" y="455.44" font-size="10.3" fill="#7f7f7f" text-anchor="end">80</text>
<polygon points="2062.7,456.09 2086.28,471.42 2090.49,495 2078.42,510.72 2062.7,528.35 2035.19,522.51 2023.79,495 2039.12,471.42" fill="#1890FF" fill-opacity="0.1"/>
<polygon points="2062.7,456.09 2086.28,471.42 2090.49,495 2078.42,510.72 2062.7,528.35 2035.19,522.51 2023.79,495 2039.12,471.42" fill="none" stroke="#1890FF" stroke-width="2" stroke-linejoin="round"/>
<circle cx="2062.7" cy="456.09" r="3" fill="#1890FF" stroke="#fff" stroke-width="1"/>
<circle cx="2086.28" cy="471.42" r="3" fill="#1890FF" stroke="#fff" stroke-width="1"/>
<circle cx="2090.49" cy="495" r="3" fill="#1890FF" stroke="#fff" stroke-width="1"/>
<circle cx="2078.42" cy="510.72" r="3" fill="#1890FF" stroke="#fff" stroke-width="1"/>
<circle cx="2062.7" cy="528.35" r="3" fill="#1890FF" stroke="#fff" stroke-width="1"/>
<circle cx="2035.19" cy="522.51" r="3" fill="#1890FF" stroke="#fff" stroke-width="1"/>
<circle cx="2023.79" cy="495" r="3" fill="#1890FF" stroke="#fff" stroke-width="1"/>
<circle cx="2039.12" cy="471.42" r="3" fill="#1890FF" stroke="#fff" stroke-width="1"/>
<polygon points="2062.7,478.32 2090.21,467.49 2096.05,495 2082.35,514.65 2062.7,533.91 2043.05,514.65 2040.47,495 2046.98,479.28" fill="#2FC25B" fill-opacity="0.12"/>
<polygon points="2062.7,478.32 2090.21,467.49 2096.05,495 2082.35,514.65 2062.7,533.91 2043.05,514.65 2040.47,495 2046.98,479.28" fill="none" stroke="#2FC25B" stroke-width="2" stroke-linejoin="round"/>
<circle cx="2062.7" cy="478.32" r="3" fill="#2FC25B" stroke="#fff" stroke-width="1"/>
<circle cx="2090.21" cy="467.49" r="3" fill="#2FC25B" stroke="#fff" stroke-width="1"/>
<circle cx="2096.05" cy="495" r="3" fill="#2FC25B" stroke="#fff" stroke-width="1"/>
<circle cx="2082.35" cy="514.65" r="3" fill="#2FC25B" stroke="#fff" stroke-width="1"/>
<circle cx="2062.7" cy="533.91" r="3" fill="#2FC25B" stroke="#fff" stroke-width="1"/>
<circle cx="2043.05" cy="514.65" r="3" fill="#2FC25B" stroke="#fff" stroke-width="1"/>
<circle cx="2040.47" cy="495" r="3" fill="#2FC25B" stroke="#fff" stroke-width="1"/>
<circle cx="2046.98" cy="479.28" r="3" fill="#2FC25B" stroke="#fff" stroke-width="1"/>
<text x="16" y="635.46" font-size="16" fill="#2b2b2b">单条曲线图</text>
<line x1="37" y1="683.3" x2="358.7" y2="683.3" stroke="#e7e7e7" stroke-width="1" stroke-dasharray="2 2"/>
<text x="29.3" y="687.4" font-size="10" fill="#7f7f7f" text-anchor="end">40</text>
<line x1="37" y1="727.55" x2="358.7" y2="727.55" stroke="#e7e7e7" stroke-width="1" stroke-dasharray="2 2"/>
<text x="29.3" y="731.65" font-size="10" fill="#7f7f7f" text-anchor="end">30</text>
<line x1="37" y1="771.8" x2="358.7" y2="771.8" stroke="#e7e7e7" stroke-width="1" stroke-dasharray="2 2"/>
<text x="29.3" y="775.9" font-size="10" fill="#7f7f7f" text-anchor="end">20</text>
<line x1="37" y1="816.05" x2="358.7" y2="816.05" stroke="#e7e7e7" stroke-width="1" stroke-dasharray="2 2"/>
<text x="29.3" y="820.15" font-size="10" fill="#7f7f7f" text-anchor="end">10</text>
<line x1="37" y1="860.3" x2="358.7" y2="860.3" stroke="#dadada" stroke-width="1"/>
<text x="29.3" y="864.4" font-size="10" fill="#7f7f7f" text-anchor="end">0</text>
<text x="37" y="878.6" font-size="10" fill="#7f7f7f">Aug.</text>
<text x="117.3" y="878.6" font-size="10" fill="#7f7f7f" text-anchor="middle">Sep.</text>
<text x="198" y="878.6" font-size="10" fill="#7f7f7f" text-anchor="middle">Oct.</text>
<text x="278.3" y="878.6" font-size="10" fill="#7f7f7f" text-anchor="middle">Nov.</text>
<text x="358.7" y="878.6" font-size="10" fill="#7f7f7f" text-anchor="end">Dec.</text>
<path d="M37,787.29C37,787.29 84.71,758.81 117.3,757.2C149.11,755.62 165.6,770.95 198,779.32C230,787.59 250.18,798.79 278.3,798.79C314.46,787.54 358.7,729.32 358.7,729.32" fill="none" stroke="#1890FF" stroke-width="2" stroke-linecap="round"/>
<circle cx="37" cy="787.29" r="3" fill="#1890FF" stroke="#fff" stroke-width="1"/>
<circle cx="117.3" cy="757.2" r="3" fill="#1890FF" stroke="#fff" stroke-width="1"/>
<circle cx="198" cy="779.32" r="3" fill="#1890FF" stroke="#fff" stroke-width="1"/>
<circle cx="278.3" cy="798.79" r="3" fill="#1890FF" stroke="#fff" stroke-width="1"/>
<circle cx="358.7" cy="729.32" r="3" fill="#1890FF" stroke="#fff" stroke-width="1"/>
<text x="390" y="635.46" font-size="16" fill="#2b2b2b">百分比层叠面积图</text>
<circle cx="392.3" cy="674.3" r="3" fill="#1890FF"/>
<text x="401" y="678.62" font-size="12" fill="#7a7a7a">Asia</text>
<circle cx="510" cy="674.3" r="3" fill="#2FC25B"/>
<text x="519.3" y="678.62" font-size="12" fill="#7a7a7a">Africa</text>
<circle cx="628.7" cy="674.3" r="3" fill="#FACC14"/>
<text x="637.7" y="678.62" font-size="12" fill="#7a7a7a">Europe</text>
<polygon points="427.3,762.59 478.38,759.58 529.47,758.67 580.55,764.7 631.63,763.35 682.72,753.7 733.8,757.02 733.8,861 427.3,861" fill="#1890FF" fill-opacity="0.1"/>
<polygon points="427.3,741.95 478.38,742.25 529.47,744.66 580.55,751.29 631.63,747.97 682.72,731.25 733.8,722.36 733.8,757.02 682.72,753.7 631.63,763.35 580.55,764.7 529.47,758.67 478.38,759.58 427.3,762.59" fill="#2FC25B" fill-opacity="0.1"/>
<polygon points="427.3,710.3 478.38,710.3 529.47,710.3 580.55,710.3 631.63,710.3 682.72,710.3 733.8,710.3 733.8,722.36 682.72,731.25 631.63,747.97 580.55,751.29 529.47,744.66 478.38,742.25 427.3,741.95" fill="#FACC14" fill-opacity="0.1"/>
<line x1="427.3" y1="710.3" x2="733.8" y2="710.3" stroke="#e7e7e7" stroke-width="1" stroke-dasharray="2 2"/>
<text x="419.3" y="714.4" font-size="10" fill="#7f7f7f" text-anchor="end">100%</text>
<line x1="427.3" y1="740.44" x2="733.8" y2="740.44" stroke="#e7e7e7" stroke-width="1" stroke-dasharray="2 2"/>
<text x="419.3" y="744.54" font-size="10" fill="#7f7f7f" text-anchor="end">80%</text>
<line x1="427.3" y1="770.58" x2="733.8" y2="770.58" stroke="#e7e7e7" stroke-width="1" stroke-dasharray="2 2"/>
<text x="419.3" y="774.68" font-size="10" fill="#7f7f7f" text-anchor="end">60%</text>
<line x1="427.3" y1="800.72" x2="733.8" y2="800.72" stroke="#e7e7e7" stroke-width="1" stroke-dasharray="2 2"/>
<text x="419.3" y="804.82" font-size="10" fill="#7f7f7f" text-anchor="end">40%</text>
<line x1="427.3" y1="830.86" x2="733.8" y2="830.86" stroke="#e7e7e7" stroke-width="1" stroke-dasharray="2 2"/>
<text x="419.3" y="834.96" font-size="10" fill="#7f7f7f" text-anchor="end">20%</text>
<line x1="427.3" y1="861" x2="733.8" y2="861" stroke="#dadada" stroke-width="1"/>
<text x="419.3" y="865.1" font-size="10" fill="#7f7f7f" text-anchor="end">0%</text>
<polyline points="427.3,762.59 478.38,759.58 529.47,758.67 580.55,764.7 631.63,763.35 682.72,753.7 733.8,757.02" fill="none" stroke="#1890FF" stroke-width="2" stroke-linejoin="round" stroke-linecap="round"/>
<polyline points="427.3,741.95 478.38,742.25 529.47,744.66 580.55,751.29 631.63,747.97 682.72,731.25 733.8,722.36" fill="none" stroke="#2FC25B" stroke-width="2" stroke-linejoin="round" stroke-linecap="round"/>
<polyline points="427.3,710.3 478.38,710.3 529.47,710.3 580.55,710.3 631.63,710.3 682.72,710.3 733.8,710.3" fill="none" stroke="#FACC14" stroke-width="2" stroke-linejoin="round" stroke-linecap="round"/>
<text x="427.3" y="878.9" font-size="10" fill="#7f7f7f">1750</text>
<text x="478.38" y="878.9" font-size="10" fill="#7f7f7f" text-anchor="middle">1800</text>
<text x="529.47" y="878.9" font-size="10" fill="#7f7f7f" text-anchor="middle">1850</text>
<text x="580.55" y="878.9" font-size="10" fill="#7f7f7f" text-anchor="middle">1900</text>
<text x="631.63" y="878.9" font-size="10" fill="#7f7f7f" text-anchor="middle">1950</text>
<text x="682.72" y="878.9" font-size="10" fill="#7f7f7f" text-anchor="middle">1999</text>
<text x="733.8" y="878.9" font-size="10" fill="#7f7f7f" text-anchor="end">2050</text>
<text x="766" y="635.46" font-size="16" fill="#2b2b2b" textLength="186" lengthAdjust="spacing">堆叠条形图 HOVER 方式 2</text>
<circle cx="768.3" cy="674.3" r="3" fill="#1890FF"/>
<text x="777.3" y="678.62" font-size="12" fill="#7a7a7a">小于5岁</text>
<circle cx="886" cy="674.3" r="3" fill="#2FC25B"/>
<text x="895" y="678.62" font-size="12" fill="#7a7a7a">5至13岁</text>
<circle cx="1004.7" cy="674.3" r="3" fill="#FACC14"/>
<text x="1013.7" y="678.62" font-size="12" fill="#7a7a7a">14至17岁</text>
<line x1="871.3" y1="710.3" x2="871.3" y2="860.3" stroke="#e7e7e7" stroke-width="1" stroke-dasharray="2 2"/>
<line x1="950.7" y1="710.3" x2="950.7" y2="860.3" stroke="#e7e7e7" stroke-width="1" stroke-dasharray="2 2"/>
<line x1="1030.3" y1="710.3" x2="1030.3" y2="860.3" stroke="#e7e7e7" stroke-width="1" stroke-dasharray="2 2"/>
<line x1="1109.7" y1="710.3" x2="1109.7" y2="860.3" stroke="#e7e7e7" stroke-width="1" stroke-dasharray="2 2"/>
<line x1="792" y1="710.3" x2="792" y2="860.3" stroke="#dadada" stroke-width="1"/>
<rect x="792.5" y="717.9" width="114.5" height="14.8" fill="#1890FF" fill-opacity="0.85"/>
<rect x="907" y="717.9" width="136.04" height="14.8" fill="#2FC25B" fill-opacity="0.85"/>
<rect x="1043.04" y="717.9" width="35.19" height="14.8" fill="#FACC14" fill-opacity="0.85"/>
<text x="784" y="728.9" font-size="10" fill="#7f7f7f" text-anchor="end">AK</text>
<rect x="792.5" y="747.9" width="82.44" height="14.8" fill="#1890FF" fill-opacity="0.85"/>
<rect x="874.94" y="747.9" width="107" height="14.8" fill="#2FC25B" fill-opacity="0.85"/>
<rect x="981.93" y="747.9" width="29.85" height="14.8" fill="#FACC14" fill-opacity="0.85"/>
<text x="784" y="758.9" font-size="10" fill="#7f7f7f" text-anchor="end">ND</text>
<rect x="792.5" y="777.9" width="60.76" height="14.8" fill="#1890FF" fill-opacity="0.85"/>
<rect x="853.26" y="777.9" width="67.57" height="14.8" fill="#2FC25B" fill-opacity="0.85"/>
<rect x="920.84" y="777.9" width="25.03" height="14.8" fill="#FACC14" fill-opacity="0.85"/>
<text x="784" y="788.9" font-size="10" fill="#7f7f7f" text-anchor="end">VT</text>
<rect x="792.5" y="807.9" width="48.21" height="14.8" fill="#1890FF" fill-opacity="0.85"/>
<rect x="840.71" y="807.9" width="32.47" height="14.8" fill="#2FC25B" fill-opacity="0.85"/>
<rect x="873.18" y="807.9" width="16.24" height="14.8" fill="#FACC14" fill-opacity="0.85"/>
<text x="784" y="818.9" font-size="10" fill="#7f7f7f" text-anchor="end">DC</text>
<rect x="792.5" y="837.9" width="40.72" height="14.8" fill="#1890FF" fill-opacity="0.85"/>
<rect x="833.22" y="837.9" width="3" height="14.8" fill="#2FC25B" fill-opacity="0.85"/>
<rect x="836.22" y="837.9" width="14.8" height="14.8" fill="#FACC14" fill-opacity="0.85"/>
<text x="784" y="848.9" font-size="10" fill="#7f7f7f" text-anchor="end">WY</text>
<text x="792" y="878.6" font-size="10" fill="#7f7f7f">0 k</text>
<text x="871.3" y="878.6" font-size="10" fill="#7f7f7f" text-anchor="middle">50 k</text>
<text x="950.7" y="878.6" font-size="10" fill="#7f7f7f" text-anchor="middle">100 k</text>
<text x="1030.3" y="878.6" font-size="10" fill="#7f7f7f" text-anchor="middle">150 k</text>
<text x="1109.7" y="878.6" font-size="10" fill="#7f7f7f" text-anchor="end">200 k</text>
<text x="1140.3" y="635.46" font-size="16" fill="#2b2b2b" textLength="186.5" lengthAdjust="spacing">层叠柱状图 HOVER 方式 2</text>
<circle cx="1143.3" cy="674.3" r="3" fill="#1890FF"/>
<text x="1152.3" y="678.62" font-size="12" fill="#7a7a7a">London</text>
<circle cx="1320.3" cy="674.3" r="3" fill="#2FC25B"/>
<text x="1329.7" y="678.62" font-size="12" fill="#7a7a7a">Berlin</text>
<line x1="1169.3" y1="710.3" x2="1484.3" y2="710.3" stroke="#e7e7e7" stroke-width="1" stroke-dasharray="2 2"/>
<text x="1161.3" y="714.4" font-size="10" fill="#7f7f7f" text-anchor="end">200</text>
<line x1="1169.3" y1="747.9" x2="1484.3" y2="747.9" stroke="#e7e7e7" stroke-width="1" stroke-dasharray="2 2"/>
<text x="1161.3" y="752" font-size="10" fill="#7f7f7f" text-anchor="end">150</text>
<line x1="1169.3" y1="785.5" x2="1484.3" y2="785.5" stroke="#e7e7e7" stroke-width="1" stroke-dasharray="2 2"/>
<text x="1161.3" y="789.6" font-size="10" fill="#7f7f7f" text-anchor="end">100</text>
<line x1="1169.3" y1="823.1" x2="1484.3" y2="823.1" stroke="#e7e7e7" stroke-width="1" stroke-dasharray="2 2"/>
<text x="1161.3" y="827.2" font-size="10" fill="#7f7f7f" text-anchor="end">50</text>
<line x1="1169.3" y1="860.7" x2="1484.3" y2="860.7" stroke="#dadada" stroke-width="1"/>
<text x="1161.3" y="864.8" font-size="10" fill="#7f7f7f" text-anchor="end">0</text>
<rect x="1179.14" y="846.49" width="19.69" height="14.21" fill="#1890FF" fill-opacity="0.85"/>
<rect x="1179.14" y="837.16" width="19.69" height="9.32" fill="#2FC25B" fill-opacity="0.85"/>
<text x="1188.99" y="878.9" font-size="10" fill="#7f7f7f" text-anchor="middle">Jan.</text>
<rect x="1218.52" y="839.04" width="19.69" height="21.66" fill="#1890FF" fill-opacity="0.85"/>
<rect x="1218.52" y="821.6" width="19.69" height="17.45" fill="#2FC25B" fill-opacity="0.85"/>
<text x="1228.36" y="878.9" font-size="10" fill="#7f7f7f" text-anchor="middle">Feb.</text>
<rect x="1257.89" y="831.15" width="19.69" height="29.55" fill="#1890FF" fill-opacity="0.85"/>
<rect x="1257.89" y="805.2" width="19.69" height="25.94" fill="#2FC25B" fill-opacity="0.85"/>
<text x="1267.74" y="878.9" font-size="10" fill="#7f7f7f" text-anchor="middle">Mar.</text>
<rect x="1297.27" y="799.49" width="19.69" height="61.21" fill="#1890FF" fill-opacity="0.85"/>
<rect x="1297.27" y="724.51" width="19.69" height="74.97" fill="#2FC25B" fill-opacity="0.85"/>
<text x="1307.11" y="878.9" font-size="10" fill="#7f7f7f" text-anchor="middle">Apr.</text>
<rect x="1336.64" y="825.36" width="19.69" height="35.34" fill="#1890FF" fill-opacity="0.85"/>
<rect x="1336.64" y="785.8" width="19.69" height="39.56" fill="#2FC25B" fill-opacity="0.85"/>
<text x="1346.49" y="878.9" font-size="10" fill="#7f7f7f" text-anchor="middle">May.</text>
<rect x="1376.02" y="845.43" width="19.69" height="15.27" fill="#1890FF" fill-opacity="0.85"/>
<rect x="1376.02" y="818.74" width="19.69" height="26.7" fill="#2FC25B" fill-opacity="0.85"/>
<text x="1385.86" y="878.9" font-size="10" fill="#7f7f7f" text-anchor="middle">Jun.</text>
<rect x="1415.39" y="842.65" width="19.69" height="18.05" fill="#1890FF" fill-opacity="0.85"/>
<rect x="1415.39" y="814.53" width="19.69" height="28.12" fill="#2FC25B" fill-opacity="0.85"/>
<text x="1425.24" y="878.9" font-size="10" fill="#7f7f7f" text-anchor="middle">Jul.</text>
<rect x="1454.77" y="833.93" width="19.69" height="26.77" fill="#1890FF" fill-opacity="0.85"/>
<rect x="1454.77" y="802.04" width="19.69" height="31.88" fill="#2FC25B" fill-opacity="0.85"/>
<text x="1464.61" y="878.9" font-size="10" fill="#7f7f7f" text-anchor="middle">Aug.</text>
<text x="1515.7" y="635.46" font-size="16" fill="#2b2b2b">玫瑰图</text>
<polygon points="1656,768.83 1664.11,772.19 1667.47,780.3 1664.11,788.41 1656,791.77 1647.89,788.41 1644.53,780.3 1647.89,772.19" fill="none" stroke="#e7e7e7" stroke-dasharray="2 2"/>
<polygon points="1656,757.36 1672.22,764.08 1678.94,780.3 1672.22,796.52 1656,803.24 1639.78,796.52 1633.06,780.3 1639.78,764.08" fill="none" stroke="#e7e7e7" stroke-dasharray="2 2"/>
<polygon points="1656,745.89 1680.33,755.97 1690.41,780.3 1680.33,804.63 1656,814.71 1631.67,804.63 1621.59,780.3 1631.67,755.97" fill="none" stroke="#e7e7e7" stroke-dasharray="2 2"/>
<polygon points="1656,734.41 1688.45,747.85 1701.89,780.3 1688.45,812.75 1656,826.19 1623.55,812.75 1610.11,780.3 1623.55,747.85" fill="none" stroke="#e7e7e7" stroke-dasharray="2 2"/>
<polygon points="1656,722.94 1696.56,739.74 1713.36,780.3 1696.56,820.86 1656,837.66 1615.44,820.86 1598.64,780.3 1615.44,739.74" fill="none" stroke="#e7e7e7" stroke-dasharray="2 2"/>
<polygon points="1656,711.47 1704.67,731.63 1724.83,780.3 1704.67,828.97 1656,849.13 1607.33,828.97 1587.17,780.3 1607.33,731.63" fill="none" stroke="#e7e7e7" stroke-dasharray="2 2"/>
<polygon points="1656,700 1712.78,723.52 1736.3,780.3 1712.78,837.08 1656,860.6 1599.22,837.08 1575.7,780.3 1599.22,723.52" fill="none" stroke="#e6e6e6"/>
<line x1="1656" y1="780.3" x2="1656" y2="700" stroke="#e7e7e7" stroke-dasharray="2 2"/>
<line x1="1656" y1="780.3" x2="1712.78" y2="723.52" stroke="#e7e7e7" stroke-dasharray="2 2"/>
<line x1="1656" y1="780.3" x2="1736.3" y2="780.3" stroke="#e7e7e7" stroke-dasharray="2 2"/>
<line x1="1656" y1="780.3" x2="1712.78" y2="837.08" stroke="#e7e7e7" stroke-dasharray="2 2"/>
<line x1="1656" y1="780.3" x2="1656" y2="860.6" stroke="#e7e7e7" stroke-dasharray="2 2"/>
<line x1="1656" y1="780.3" x2="1599.22" y2="837.08" stroke="#e7e7e7" stroke-dasharray="2 2"/>
<line x1="1656" y1="780.3" x2="1575.7" y2="780.3" stroke="#e7e7e7" stroke-dasharray="2 2"/>
<line x1="1656" y1="780.3" x2="1599.22" y2="723.52" stroke="#e7e7e7" stroke-dasharray="2 2"/>
<line x1="1656" y1="700" x2="1656" y2="780.3" stroke="#d9d9d9" stroke-width="1"/>
<path d="M1656,780.3 L1635.15,729.96 A54.49,54.49 0 0 1 1676.85,729.96 Z" fill="#1890FF" fill-opacity="0.85" stroke="#fff" stroke-width="1"/>
<path d="M1656,780.3 L1682.12,717.24 A68.25,68.25 0 0 1 1719.06,754.18 Z" fill="#2FC25B" fill-opacity="0.85" stroke="#fff" stroke-width="1"/>
<path d="M1656,780.3 L1707.93,758.79 A56.21,56.21 0 0 1 1707.93,801.81 Z" fill="#FACC14" fill-opacity="0.85" stroke="#fff" stroke-width="1"/>
<path d="M1656,780.3 L1713.76,804.23 A62.52,62.52 0 0 1 1679.93,838.06 Z" fill="#223273" fill-opacity="0.85" stroke="#fff" stroke-width="1"/>
<path d="M1656,780.3 L1678.39,834.35 A58.5,58.5 0 0 1 1633.61,834.35 Z" fill="#8543E0" fill-opacity="0.85" stroke="#fff" stroke-width="1"/>
<path d="M1656,780.3 L1629.22,844.95 A69.98,69.98 0 0 1 1591.35,807.08 Z" fill="#13C2C2" fill-opacity="0.85" stroke="#fff" stroke-width="1"/>
<path d="M1656,780.3 L1591.35,807.08 A69.98,69.98 0 0 1 1591.35,753.52 Z" fill="#3436C7" fill-opacity="0.85" stroke="#fff" stroke-width="1"/>
<path d="M1656,780.3 L1598.24,756.37 A62.52,62.52 0 0 1 1632.07,722.54 Z" fill="#F04864" fill-opacity="0.85" stroke="#fff" stroke-width="1"/>
<text x="1652" y="704.77" font-size="10.2" fill="#7f7f7f" text-anchor="end">140</text>
<text x="1652" y="716.24" font-size="10.2" fill="#7f7f7f" text-anchor="end">120</text>
<text x="1652" y="727.71" font-size="10.2" fill="#7f7f7f" text-anchor="end">100</text>
<text x="1652" y="739.19" font-size="10.2" fill="#7f7f7f" text-anchor="end">80</text>
<text x="1652" y="750.66" font-size="10.2" fill="#7f7f7f" text-anchor="end">60</text>
<text x="1652" y="762.13" font-size="10.2" fill="#7f7f7f" text-anchor="end">40</text>
<text x="1652" y="773.6" font-size="10.2" fill="#7f7f7f" text-anchor="end">20</text>
<text x="1652" y="785.07" font-size="10.2" fill="#7f7f7f" text-anchor="end">0</text>
<text x="1656" y="690.7" font-size="10" fill="#7f7f7f" text-anchor="middle">中国</text>
<text x="1718" y="722.9" font-size="10" fill="#7f7f7f">德国</text>
<text x="1744" y="785" font-size="10" fill="#7f7f7f">美国</text>
<text x="1718" y="846.6" font-size="10" fill="#7f7f7f">日本</text>
<text x="1656" y="879.2" font-size="10" fill="#7f7f7f" text-anchor="middle">韩国</text>
<text x="1594" y="846.6" font-size="10" fill="#7f7f7f" text-anchor="end">法国</text>
<text x="1568.3" y="785" font-size="10" fill="#7f7f7f" text-anchor="end">意大利</text>
<text x="1594" y="722.9" font-size="10" fill="#7f7f7f" text-anchor="end">荷兰</text>
<circle cx="1814.7" cy="690.3" r="3" fill="#1890FF"/>
<text x="1824.3" y="694.62" font-size="12" fill="#7a7a7a">中国</text>
<circle cx="1814.7" cy="714.3" r="3" fill="#2FC25B"/>
<text x="1824.3" y="718.62" font-size="12" fill="#7a7a7a">德国</text>
<circle cx="1814.7" cy="738.3" r="3" fill="#FACC14"/>
<text x="1824.3" y="742.62" font-size="12" fill="#7a7a7a">美国</text>
<circle cx="1814.7" cy="762.3" r="3" fill="#223273"/>
<text x="1824.3" y="766.62" font-size="12" fill="#7a7a7a">日本</text>
<circle cx="1814.7" cy="786.3" r="3" fill="#8543E0"/>
<text x="1824.3" y="790.62" font-size="12" fill="#7a7a7a">韩国</text>
<circle cx="1814.7" cy="810.3" r="3" fill="#13C2C2"/>
<text x="1824.3" y="814.62" font-size="12" fill="#7a7a7a">法国</text>
<circle cx="1814.7" cy="834.3" r="3" fill="#3436C7"/>
<text x="1824.3" y="838.62" font-size="12" fill="#7a7a7a">意大利</text>
<circle cx="1814.7" cy="858.3" r="3" fill="#F04864"/>
<text x="1824.3" y="862.62" font-size="12" fill="#7a7a7a">荷兰</text>
<text x="1890.7" y="635.46" font-size="16" fill="#2b2b2b">散点图</text>
<line x1="1917.3" y1="683.7" x2="2234.7" y2="683.7" stroke="#e7e7e7" stroke-width="1" stroke-dasharray="2 2"/>
<text x="1909.3" y="687.8" font-size="10" fill="#7f7f7f" text-anchor="end">120</text>
<line x1="1917.3" y1="727.95" x2="2234.7" y2="727.95" stroke="#e7e7e7" stroke-width="1" stroke-dasharray="2 2"/>
<text x="1909.3" y="732.05" font-size="10" fill="#7f7f7f" text-anchor="end">100</text>
<line x1="1917.3" y1="772.2" x2="2234.7" y2="772.2" stroke="#e7e7e7" stroke-width="1" stroke-dasharray="2 2"/>
<text x="1909.3" y="776.3" font-size="10" fill="#7f7f7f" text-anchor="end">80</text>
<line x1="1917.3" y1="816.45" x2="2234.7" y2="816.45" stroke="#e7e7e7" stroke-width="1" stroke-dasharray="2 2"/>
<text x="1909.3" y="820.55" font-size="10" fill="#7f7f7f" text-anchor="end">60</text>
<line x1="1917.3" y1="860.7" x2="2234.7" y2="860.7" stroke="#dadada" stroke-width="1"/>
<text x="1909.3" y="864.8" font-size="10" fill="#7f7f7f" text-anchor="end">40</text>
<text x="1917.3" y="878.9" font-size="10" fill="#7f7f7f">140</text>
<text x="1996.65" y="878.9" font-size="10" fill="#7f7f7f" text-anchor="middle">160</text>
<text x="2076" y="878.9" font-size="10" fill="#7f7f7f" text-anchor="middle">180</text>
<text x="2155.35" y="878.9" font-size="10" fill="#7f7f7f" text-anchor="middle">200</text>
<text x="2234.7" y="878.9" font-size="10" fill="#7f7f7f" text-anchor="end">220</text>
<circle cx="2001.41" cy="835.04" r="3" fill="#1890FF" fill-opacity="0.65"/>
<circle cx="2026.41" cy="818.66" r="3" fill="#1890FF" fill-opacity="0.65"/>
<circle cx="1994.67" cy="840.35" r="3" fill="#1890FF" fill-opacity="0.65"/>
<circle cx="1984.75" cy="809.81" r="3" fill="#1890FF" fill-opacity="0.65"/>
<circle cx="1979.99" cy="830.61" r="3" fill="#1890FF" fill-opacity="0.65"/>
<circle cx="2036.32" cy="818.66" r="3" fill="#1890FF" fill-opacity="0.65"/>
<circle cx="1993.08" cy="843.88" r="3" fill="#1890FF" fill-opacity="0.65"/>
<circle cx="2020.45" cy="794.77" r="3" fill="#1890FF" fill-opacity="0.65"/>
<circle cx="2060.92" cy="801.41" r="3" fill="#1890FF" fill-opacity="0.65"/>
<circle cx="1997.44" cy="782.82" r="3" fill="#1890FF" fill-opacity="0.65"/>
<circle cx="2046.24" cy="827.07" r="3" fill="#1890FF" fill-opacity="0.65"/>
<circle cx="2039.9" cy="829.28" r="3" fill="#1890FF" fill-opacity="0.65"/>
<circle cx="2047.83" cy="810.92" r="3" fill="#1890FF" fill-opacity="0.65"/>
<circle cx="1970.46" cy="856.28" r="3" fill="#1890FF" fill-opacity="0.65"/>
<circle cx="1996.65" cy="838.58" r="3" fill="#1890FF" fill-opacity="0.65"/>
<circle cx="1945.87" cy="839.02" r="3" fill="#1890FF" fill-opacity="0.65"/>
<circle cx="2029.18" cy="840.35" r="3" fill="#1890FF" fill-opacity="0.65"/>
<circle cx="2056.16" cy="787.25" r="3" fill="#1890FF" fill-opacity="0.65"/>
<circle cx="1984.75" cy="843.44" r="3" fill="#1890FF" fill-opacity="0.65"/>
<circle cx="2026.8" cy="796.98" r="3" fill="#1890FF" fill-opacity="0.65"/>
<circle cx="1994.67" cy="837.25" r="3" fill="#1890FF" fill-opacity="0.65"/>
<circle cx="2056.16" cy="766.67" r="3" fill="#1890FF" fill-opacity="0.65"/>
<circle cx="2023.63" cy="822.64" r="3" fill="#1890FF" fill-opacity="0.65"/>
<circle cx="2062.11" cy="754.94" r="3" fill="#1890FF" fill-opacity="0.65"/>
<circle cx="2037.12" cy="788.13" r="3" fill="#1890FF" fill-opacity="0.65"/>
<circle cx="2052.19" cy="828.62" r="3" fill="#1890FF" fill-opacity="0.65"/>
<circle cx="2048.23" cy="816.89" r="3" fill="#1890FF" fill-opacity="0.65"/>
<circle cx="2075.6" cy="800.3" r="3" fill="#1890FF" fill-opacity="0.65"/>
<circle cx="2038.31" cy="799.19" r="3" fill="#1890FF" fill-opacity="0.65"/>
<circle cx="1996.65" cy="845.21" r="3" fill="#1890FF" fill-opacity="0.65"/>
<circle cx="1974.43" cy="846.98" r="3" fill="#1890FF" fill-opacity="0.65"/>
<circle cx="2004.59" cy="827.51" r="3" fill="#1890FF" fill-opacity="0.65"/>
<circle cx="2062.11" cy="765.56" r="3" fill="#1890FF" fill-opacity="0.65"/>
<circle cx="1996.65" cy="828.84" r="3" fill="#1890FF" fill-opacity="0.65"/>
<circle cx="1964.91" cy="847.87" r="3" fill="#1890FF" fill-opacity="0.65"/>
<circle cx="2004.98" cy="830.61" r="3" fill="#1890FF" fill-opacity="0.65"/>
<circle cx="2036.32" cy="787.25" r="3" fill="#1890FF" fill-opacity="0.65"/>
<circle cx="1997.44" cy="833.93" r="3" fill="#1890FF" fill-opacity="0.65"/>
<circle cx="2001.81" cy="798.97" r="3" fill="#1890FF" fill-opacity="0.65"/>
<circle cx="2022.04" cy="823.97" r="3" fill="#1890FF" fill-opacity="0.65"/>
<circle cx="2031.96" cy="811.36" r="3" fill="#1890FF" fill-opacity="0.65"/>
<circle cx="2011.73" cy="819.77" r="3" fill="#1890FF" fill-opacity="0.65"/>
<circle cx="2026.8" cy="828.62" r="3" fill="#1890FF" fill-opacity="0.65"/>
<circle cx="1996.65" cy="838.13" r="3" fill="#1890FF" fill-opacity="0.65"/>
<circle cx="2001.81" cy="815.79" r="3" fill="#1890FF" fill-opacity="0.65"/>
<circle cx="2026.8" cy="820.21" r="3" fill="#1890FF" fill-opacity="0.65"/>
<circle cx="2016.88" cy="824.86" r="3" fill="#1890FF" fill-opacity="0.65"/>
<circle cx="1996.65" cy="838.13" r="3" fill="#1890FF" fill-opacity="0.65"/>
<circle cx="2036.32" cy="787.91" r="3" fill="#1890FF" fill-opacity="0.65"/>
<circle cx="1986.73" cy="816.89" r="3" fill="#1890FF" fill-opacity="0.65"/>
<circle cx="2026.8" cy="814.24" r="3" fill="#1890FF" fill-opacity="0.65"/>
<circle cx="1999.43" cy="796.32" r="3" fill="#1890FF" fill-opacity="0.65"/>
<circle cx="2009.35" cy="825.52" r="3" fill="#1890FF" fill-opacity="0.65"/>
<circle cx="1966.5" cy="846.32" r="3" fill="#1890FF" fill-opacity="0.65"/>
<circle cx="1986.73" cy="829.06" r="3" fill="#1890FF" fill-opacity="0.65"/>
<circle cx="2029.58" cy="827.96" r="3" fill="#1890FF" fill-opacity="0.65"/>
<circle cx="2077.19" cy="814.9" r="3" fill="#1890FF" fill-opacity="0.65"/>
<circle cx="2018.47" cy="816.45" r="3" fill="#1890FF" fill-opacity="0.65"/>
<circle cx="2016.49" cy="812.03" r="3" fill="#1890FF" fill-opacity="0.65"/>
<circle cx="2014.5" cy="815.79" r="3" fill="#1890FF" fill-opacity="0.65"/>
<circle cx="1980.78" cy="832.6" r="3" fill="#1890FF" fill-opacity="0.65"/>
<circle cx="1996.65" cy="784.81" r="3" fill="#1890FF" fill-opacity="0.65"/>
<circle cx="2008.55" cy="812.03" r="3" fill="#1890FF" fill-opacity="0.65"/>
<circle cx="2019.26" cy="787.47" r="3" fill="#1890FF" fill-opacity="0.65"/>
<circle cx="2000.62" cy="772.2" r="3" fill="#1890FF" fill-opacity="0.65"/>
<circle cx="2004.59" cy="828.18" r="3" fill="#1890FF" fill-opacity="0.65"/>
<circle cx="2020.45" cy="831.5" r="3" fill="#1890FF" fill-opacity="0.65"/>
<circle cx="2052.19" cy="781.71" r="3" fill="#1890FF" fill-opacity="0.65"/>
<circle cx="2047.04" cy="814.02" r="3" fill="#1890FF" fill-opacity="0.65"/>
<circle cx="2026.8" cy="825.96" r="3" fill="#1890FF" fill-opacity="0.65"/>
<circle cx="1961.34" cy="841.45" r="3" fill="#1890FF" fill-opacity="0.65"/>
<circle cx="2014.5" cy="833.49" r="3" fill="#1890FF" fill-opacity="0.65"/>
<circle cx="2010.54" cy="838.58" r="3" fill="#1890FF" fill-opacity="0.65"/>
<circle cx="1964.91" cy="818" r="3" fill="#1890FF" fill-opacity="0.65"/>
<circle cx="2032.36" cy="810.92" r="3" fill="#1890FF" fill-opacity="0.65"/>
<circle cx="2012.52" cy="825.96" r="3" fill="#1890FF" fill-opacity="0.65"/>
<circle cx="2001.41" cy="827.96" r="3" fill="#1890FF" fill-opacity="0.65"/>
<circle cx="1976.81" cy="847.65" r="3" fill="#1890FF" fill-opacity="0.65"/>
<circle cx="2036.32" cy="793" r="3" fill="#1890FF" fill-opacity="0.65"/>
<circle cx="2060.92" cy="800.52" r="3" fill="#1890FF" fill-opacity="0.65"/>
<circle cx="2036.32" cy="795.65" r="3" fill="#1890FF" fill-opacity="0.65"/>
<circle cx="2006.57" cy="820.43" r="3" fill="#1890FF" fill-opacity="0.65"/>
<circle cx="2037.52" cy="805.83" r="3" fill="#1890FF" fill-opacity="0.65"/>
<circle cx="2012.92" cy="790.79" r="3" fill="#1890FF" fill-opacity="0.65"/>
<circle cx="2034.34" cy="832.38" r="3" fill="#1890FF" fill-opacity="0.65"/>
<circle cx="2009.35" cy="816.89" r="3" fill="#1890FF" fill-opacity="0.65"/>
<circle cx="1974.83" cy="840.79" r="3" fill="#1890FF" fill-opacity="0.65"/>
<circle cx="1995.86" cy="838.58" r="3" fill="#1890FF" fill-opacity="0.65"/>
<circle cx="2049.02" cy="796.1" r="3" fill="#1890FF" fill-opacity="0.65"/>
<circle cx="2036.32" cy="825.52" r="3" fill="#1890FF" fill-opacity="0.65"/>
<circle cx="2002.2" cy="808.93" r="3" fill="#1890FF" fill-opacity="0.65"/>
<circle cx="2032.36" cy="820.43" r="3" fill="#1890FF" fill-opacity="0.65"/>
<circle cx="2021.25" cy="819.55" r="3" fill="#1890FF" fill-opacity="0.65"/>
<circle cx="1994.27" cy="848.09" r="3" fill="#1890FF" fill-opacity="0.65"/>
<circle cx="2006.57" cy="833.71" r="3" fill="#1890FF" fill-opacity="0.65"/>
<circle cx="1992.68" cy="841.67" r="3" fill="#1890FF" fill-opacity="0.65"/>
<circle cx="2007.76" cy="821.32" r="3" fill="#1890FF" fill-opacity="0.65"/>
<circle cx="1992.68" cy="826.19" r="3" fill="#1890FF" fill-opacity="0.65"/>
<circle cx="2075.21" cy="801.41" r="3" fill="#1890FF" fill-opacity="0.65"/>
<circle cx="2008.16" cy="817.78" r="3" fill="#1890FF" fill-opacity="0.65"/>
<circle cx="2000.62" cy="830.61" r="3" fill="#1890FF" fill-opacity="0.65"/>
<circle cx="1961.34" cy="787.25" r="3" fill="#1890FF" fill-opacity="0.65"/>
<circle cx="2029.18" cy="831.05" r="3" fill="#1890FF" fill-opacity="0.65"/>
<circle cx="2031.96" cy="796.54" r="3" fill="#1890FF" fill-opacity="0.65"/>
<circle cx="2049.02" cy="819.99" r="3" fill="#1890FF" fill-opacity="0.65"/>
<circle cx="2043.47" cy="824.86" r="3" fill="#1890FF" fill-opacity="0.65"/>
<circle cx="2068.07" cy="793" r="3" fill="#1890FF" fill-opacity="0.65"/>
<circle cx="2013.71" cy="816.89" r="3" fill="#1890FF" fill-opacity="0.65"/>
<circle cx="2008.55" cy="789.9" r="3" fill="#1890FF" fill-opacity="0.65"/>
<circle cx="2030.37" cy="804.95" r="3" fill="#1890FF" fill-opacity="0.65"/>
<circle cx="2023.63" cy="823.97" r="3" fill="#1890FF" fill-opacity="0.65"/>
<circle cx="2047.04" cy="716.45" r="3" fill="#1890FF" fill-opacity="0.65"/>
<circle cx="2010.54" cy="834.59" r="3" fill="#1890FF" fill-opacity="0.65"/>
<circle cx="2033.94" cy="808.93" r="3" fill="#1890FF" fill-opacity="0.65"/>
<circle cx="2027.6" cy="818.66" r="3" fill="#1890FF" fill-opacity="0.65"/>
<circle cx="1994.67" cy="843.88" r="3" fill="#1890FF" fill-opacity="0.65"/>
<circle cx="2026.8" cy="809.81" r="3" fill="#1890FF" fill-opacity="0.65"/>
<circle cx="2001.41" cy="827.07" r="3" fill="#1890FF" fill-opacity="0.65"/>
<circle cx="1996.65" cy="849.64" r="3" fill="#1890FF" fill-opacity="0.65"/>
<circle cx="2009.35" cy="829.73" r="3" fill="#1890FF" fill-opacity="0.65"/>
<circle cx="2005.38" cy="838.13" r="3" fill="#1890FF" fill-opacity="0.65"/>
<circle cx="2001.81" cy="816.01" r="3" fill="#1890FF" fill-opacity="0.65"/>
<circle cx="1954.99" cy="850.08" r="3" fill="#1890FF" fill-opacity="0.65"/>
<circle cx="1986.73" cy="819.11" r="3" fill="#1890FF" fill-opacity="0.65"/>
<circle cx="2009.35" cy="824.42" r="3" fill="#1890FF" fill-opacity="0.65"/>
<circle cx="2047.04" cy="812.03" r="3" fill="#1890FF" fill-opacity="0.65"/>
<circle cx="1976.81" cy="840.35" r="3" fill="#1890FF" fill-opacity="0.65"/>
<circle cx="1982.76" cy="800.52" r="3" fill="#1890FF" fill-opacity="0.65"/>
<circle cx="2012.52" cy="830.17" r="3" fill="#1890FF" fill-opacity="0.65"/>
<circle cx="2000.22" cy="828.84" r="3" fill="#1890FF" fill-opacity="0.65"/>
<circle cx="2007.76" cy="820.88" r="3" fill="#1890FF" fill-opacity="0.65"/>
<circle cx="2024.42" cy="816.89" r="3" fill="#1890FF" fill-opacity="0.65"/>
<circle cx="1996.65" cy="827.96" r="3" fill="#1890FF" fill-opacity="0.65"/>
<circle cx="1996.65" cy="853.62" r="3" fill="#1890FF" fill-opacity="0.65"/>
<circle cx="2031.96" cy="815.34" r="3" fill="#1890FF" fill-opacity="0.65"/>
<circle cx="1989.51" cy="846.54" r="3" fill="#1890FF" fill-opacity="0.65"/>
<circle cx="1980.78" cy="806.72" r="3" fill="#1890FF" fill-opacity="0.65"/>
<circle cx="1996.65" cy="841.23" r="3" fill="#1890FF" fill-opacity="0.65"/>
<circle cx="2024.82" cy="811.58" r="3" fill="#1890FF" fill-opacity="0.65"/>
<circle cx="1988.71" cy="826.41" r="3" fill="#1890FF" fill-opacity="0.65"/>
<circle cx="2026.8" cy="821.32" r="3" fill="#1890FF" fill-opacity="0.65"/>
<circle cx="1980.78" cy="828.4" r="3" fill="#1890FF" fill-opacity="0.65"/>
<circle cx="2004.98" cy="818.22" r="3" fill="#1890FF" fill-opacity="0.65"/>
<circle cx="2049.81" cy="832.6" r="3" fill="#1890FF" fill-opacity="0.65"/>
<circle cx="1995.86" cy="831.5" r="3" fill="#1890FF" fill-opacity="0.65"/>
<circle cx="2038.31" cy="806.49" r="3" fill="#1890FF" fill-opacity="0.65"/>
<circle cx="1993.48" cy="834.59" r="3" fill="#1890FF" fill-opacity="0.65"/>
<circle cx="1986.73" cy="825.3" r="3" fill="#1890FF" fill-opacity="0.65"/>
<circle cx="2001.81" cy="808.49" r="3" fill="#1890FF" fill-opacity="0.65"/>
<circle cx="2006.97" cy="809.37" r="3" fill="#1890FF" fill-opacity="0.65"/>
<circle cx="1996.65" cy="817.56" r="3" fill="#1890FF" fill-opacity="0.65"/>
<circle cx="2031.96" cy="823.53" r="3" fill="#1890FF" fill-opacity="0.65"/>
<circle cx="2016.88" cy="807.38" r="3" fill="#1890FF" fill-opacity="0.65"/>
<circle cx="2006.97" cy="838.58" r="3" fill="#1890FF" fill-opacity="0.65"/>
<circle cx="2016.88" cy="789.24" r="3" fill="#1890FF" fill-opacity="0.65"/>
<circle cx="2022.04" cy="827.51" r="3" fill="#1890FF" fill-opacity="0.65"/>
<circle cx="1996.65" cy="825.52" r="3" fill="#1890FF" fill-opacity="0.65"/>
<circle cx="1966.5" cy="815.57" r="3" fill="#1890FF" fill-opacity="0.65"/>
<circle cx="2037.12" cy="796.32" r="3" fill="#1890FF" fill-opacity="0.65"/>
<circle cx="2006.97" cy="762.24" r="3" fill="#1890FF" fill-opacity="0.65"/>
<circle cx="2037.12" cy="825.52" r="3" fill="#1890FF" fill-opacity="0.65"/>
<circle cx="1991.89" cy="826.41" r="3" fill="#1890FF" fill-opacity="0.65"/>
<circle cx="2047.04" cy="795.43" r="3" fill="#1890FF" fill-opacity="0.65"/>
<circle cx="2026.8" cy="780.17" r="3" fill="#1890FF" fill-opacity="0.65"/>
<circle cx="2006.97" cy="813.35" r="3" fill="#1890FF" fill-opacity="0.65"/>
<circle cx="2026.8" cy="803.4" r="3" fill="#1890FF" fill-opacity="0.65"/>
<circle cx="1981.57" cy="819.55" r="3" fill="#1890FF" fill-opacity="0.65"/>
<circle cx="2056.96" cy="801.41" r="3" fill="#1890FF" fill-opacity="0.65"/>
<circle cx="2044.66" cy="823.97" r="3" fill="#1890FF" fill-opacity="0.65"/>
<circle cx="2006.97" cy="819.55" r="3" fill="#1890FF" fill-opacity="0.65"/>
<circle cx="1996.65" cy="825.52" r="3" fill="#1890FF" fill-opacity="0.65"/>
<circle cx="2016.88" cy="818.44" r="3" fill="#1890FF" fill-opacity="0.65"/>
<circle cx="2087.51" cy="768.22" r="3" fill="#1890FF" fill-opacity="0.65"/>
<circle cx="2022.04" cy="792.78" r="3" fill="#1890FF" fill-opacity="0.65"/>
<circle cx="2016.88" cy="823.53" r="3" fill="#1890FF" fill-opacity="0.65"/>
<circle cx="2067.27" cy="816.45" r="3" fill="#1890FF" fill-opacity="0.65"/>
<circle cx="2016.88" cy="820.43" r="3" fill="#1890FF" fill-opacity="0.65"/>
<circle cx="2057.35" cy="788.35" r="3" fill="#1890FF" fill-opacity="0.65"/>
<circle cx="1976.42" cy="829.5" r="3" fill="#1890FF" fill-opacity="0.65"/>
<circle cx="1991.89" cy="840.57" r="3" fill="#1890FF" fill-opacity="0.65"/>
<circle cx="2047.04" cy="781.27" r="3" fill="#1890FF" fill-opacity="0.65"/>
<circle cx="2031.96" cy="827.51" r="3" fill="#1890FF" fill-opacity="0.65"/>
<circle cx="2001.81" cy="822.42" r="3" fill="#1890FF" fill-opacity="0.65"/>
<circle cx="2026.8" cy="827.51" r="3" fill="#1890FF" fill-opacity="0.65"/>
<circle cx="2016.88" cy="804.28" r="3" fill="#1890FF" fill-opacity="0.65"/>
<circle cx="2057.35" cy="804.28" r="3" fill="#1890FF" fill-opacity="0.65"/>
<circle cx="1986.73" cy="841.67" r="3" fill="#1890FF" fill-opacity="0.65"/>
<circle cx="2011.73" cy="819.55" r="3" fill="#1890FF" fill-opacity="0.65"/>
<circle cx="2026.8" cy="808.49" r="3" fill="#1890FF" fill-opacity="0.65"/>
<circle cx="2016.88" cy="827.07" r="3" fill="#1890FF" fill-opacity="0.65"/>
<circle cx="2016.88" cy="810.48" r="3" fill="#1890FF" fill-opacity="0.65"/>
<circle cx="2031.96" cy="823.97" r="3" fill="#1890FF" fill-opacity="0.65"/>
<circle cx="2006.97" cy="829.95" r="3" fill="#1890FF" fill-opacity="0.65"/>
<circle cx="2014.5" cy="809.37" r="3" fill="#1890FF" fill-opacity="0.65"/>
<circle cx="2062.11" cy="786.36" r="3" fill="#1890FF" fill-opacity="0.65"/>
<circle cx="2031.96" cy="812.03" r="3" fill="#1890FF" fill-opacity="0.65"/>
<circle cx="2057.35" cy="808.49" r="3" fill="#1890FF" fill-opacity="0.65"/>
<circle cx="1994.27" cy="831.5" r="3" fill="#1890FF" fill-opacity="0.65"/>
<circle cx="1996.65" cy="831.05" r="3" fill="#1890FF" fill-opacity="0.65"/>
<circle cx="2037.12" cy="827.51" r="3" fill="#1890FF" fill-opacity="0.65"/>
<circle cx="2006.97" cy="793.22" r="3" fill="#1890FF" fill-opacity="0.65"/>
<circle cx="2026.8" cy="828.62" r="3" fill="#1890FF" fill-opacity="0.65"/>
<circle cx="2006.97" cy="828.62" r="3" fill="#1890FF" fill-opacity="0.65"/>
<circle cx="1999.43" cy="825.52" r="3" fill="#1890FF" fill-opacity="0.65"/>
<circle cx="1996.65" cy="818.66" r="3" fill="#1890FF" fill-opacity="0.65"/>
<circle cx="1986.73" cy="808.49" r="3" fill="#1890FF" fill-opacity="0.65"/>
<circle cx="2006.97" cy="828.62" r="3" fill="#1890FF" fill-opacity="0.65"/>
<circle cx="1966.5" cy="844.55" r="3" fill="#1890FF" fill-opacity="0.65"/>
<circle cx="2037.12" cy="799.41" r="3" fill="#1890FF" fill-opacity="0.65"/>
<circle cx="2016.88" cy="770.21" r="3" fill="#1890FF" fill-opacity="0.65"/>
<circle cx="2047.04" cy="793.22" r="3" fill="#1890FF" fill-opacity="0.65"/>
<circle cx="2016.88" cy="814.46" r="3" fill="#1890FF" fill-opacity="0.65"/>
<circle cx="2037.12" cy="808.49" r="3" fill="#1890FF" fill-opacity="0.65"/>
<circle cx="2037.12" cy="828.62" r="3" fill="#1890FF" fill-opacity="0.65"/>
<circle cx="2037.12" cy="818.44" r="3" fill="#1890FF" fill-opacity="0.65"/>
<circle cx="2001.81" cy="793.22" r="3" fill="#1890FF" fill-opacity="0.65"/>
<circle cx="2026.8" cy="832.6" r="3" fill="#1890FF" fill-opacity="0.65"/>
<circle cx="2026.8" cy="810.48" r="3" fill="#1890FF" fill-opacity="0.65"/>
<circle cx="2016.88" cy="758.26" r="3" fill="#1890FF" fill-opacity="0.65"/>
<circle cx="2006.97" cy="802.29" r="3" fill="#1890FF" fill-opacity="0.65"/>
<circle cx="1966.5" cy="800.3" r="3" fill="#1890FF" fill-opacity="0.65"/>
<circle cx="2031.96" cy="809.81" r="3" fill="#1890FF" fill-opacity="0.65"/>
<circle cx="2037.12" cy="786.36" r="3" fill="#1890FF" fill-opacity="0.65"/>
<circle cx="2056.96" cy="811.36" r="3" fill="#1890FF" fill-opacity="0.65"/>
<circle cx="2056.96" cy="821.54" r="3" fill="#1890FF" fill-opacity="0.65"/>
<circle cx="1996.65" cy="826.63" r="3" fill="#1890FF" fill-opacity="0.65"/>
<circle cx="2016.88" cy="718.88" r="3" fill="#1890FF" fill-opacity="0.65"/>
<circle cx="2052.19" cy="826.41" r="3" fill="#1890FF" fill-opacity="0.65"/>
<circle cx="2037.12" cy="778.17" r="3" fill="#1890FF" fill-opacity="0.65"/>
<circle cx="1996.65" cy="771.09" r="3" fill="#1890FF" fill-opacity="0.65"/>
<circle cx="2026.8" cy="806.49" r="3" fill="#1890FF" fill-opacity="0.65"/>
<circle cx="2026.8" cy="789.24" r="3" fill="#1890FF" fill-opacity="0.65"/>
<circle cx="2026.8" cy="813.35" r="3" fill="#1890FF" fill-opacity="0.65"/>
<circle cx="1976.42" cy="820.43" r="3" fill="#1890FF" fill-opacity="0.65"/>
<circle cx="2006.97" cy="768.22" r="3" fill="#1890FF" fill-opacity="0.65"/>
<circle cx="2057.35" cy="808.49" r="3" fill="#1890FF" fill-opacity="0.65"/>
<circle cx="2041.88" cy="831.05" r="3" fill="#1890FF" fill-opacity="0.65"/>
<circle cx="1986.73" cy="828.62" r="3" fill="#1890FF" fill-opacity="0.65"/>
<circle cx="2016.88" cy="830.61" r="3" fill="#1890FF" fill-opacity="0.65"/>
<circle cx="1996.65" cy="816.45" r="3" fill="#1890FF" fill-opacity="0.65"/>
<circle cx="2052.19" cy="786.36" r="3" fill="#1890FF" fill-opacity="0.65"/>
<circle cx="2006.97" cy="813.35" r="3" fill="#1890FF" fill-opacity="0.65"/>
<circle cx="2052.19" cy="826.41" r="3" fill="#1890FF" fill-opacity="0.65"/>
<circle cx="2006.97" cy="808.49" r="3" fill="#1890FF" fill-opacity="0.65"/>
<circle cx="2001.81" cy="814.46" r="3" fill="#1890FF" fill-opacity="0.65"/>
<circle cx="1981.57" cy="816.45" r="3" fill="#1890FF" fill-opacity="0.65"/>
<circle cx="1956.58" cy="845.66" r="3" fill="#1890FF" fill-opacity="0.65"/>
<circle cx="2034.34" cy="822.42" r="3" fill="#1890FF" fill-opacity="0.65"/>
<circle cx="1996.65" cy="807.38" r="3" fill="#1890FF" fill-opacity="0.65"/>
<circle cx="2057.35" cy="808.49" r="3" fill="#1890FF" fill-opacity="0.65"/>
<circle cx="2034.34" cy="800.3" r="3" fill="#1890FF" fill-opacity="0.65"/>
<circle cx="1996.65" cy="782.16" r="3" fill="#1890FF" fill-opacity="0.65"/>
<circle cx="2047.04" cy="798.31" r="3" fill="#1890FF" fill-opacity="0.65"/>
<circle cx="2006.97" cy="813.35" r="3" fill="#1890FF" fill-opacity="0.65"/>
<circle cx="1986.73" cy="779.28" r="3" fill="#1890FF" fill-opacity="0.65"/>
<circle cx="2062.11" cy="790.34" r="3" fill="#1890FF" fill-opacity="0.65"/>
<circle cx="2014.11" cy="826.41" r="3" fill="#1890FF" fill-opacity="0.65"/>
<circle cx="1999.43" cy="841.67" r="3" fill="#1890FF" fill-opacity="0.65"/>
<circle cx="2052.19" cy="802.29" r="3" fill="#1890FF" fill-opacity="0.65"/>
<circle cx="2011.73" cy="800.3" r="3" fill="#1890FF" fill-opacity="0.65"/>
<circle cx="2052.19" cy="804.06" r="3" fill="#1890FF" fill-opacity="0.65"/>
<circle cx="2057.35" cy="790.34" r="3" fill="#1890FF" fill-opacity="0.65"/>
<circle cx="2129.56" cy="770.65" r="3" fill="#1890FF" fill-opacity="0.65"/>
<circle cx="2101.79" cy="788.57" r="3" fill="#1890FF" fill-opacity="0.65"/>
<circle cx="2104.57" cy="774.86" r="3" fill="#1890FF" fill-opacity="0.65"/>
<circle cx="2081.95" cy="783.71" r="3" fill="#1890FF" fill-opacity="0.65"/>
<circle cx="2091.87" cy="758.04" r="3" fill="#1890FF" fill-opacity="0.65"/>
<circle cx="2093.85" cy="775.74" r="3" fill="#1890FF" fill-opacity="0.65"/>
<circle cx="2056.16" cy="812.03" r="3" fill="#1890FF" fill-opacity="0.65"/>
<circle cx="2091.87" cy="768.66" r="3" fill="#1890FF" fill-opacity="0.65"/>
<circle cx="2076" cy="779.72" r="3" fill="#1890FF" fill-opacity="0.65"/>
<circle cx="2067.27" cy="764.24" r="3" fill="#1890FF" fill-opacity="0.65"/>
<circle cx="2123.61" cy="750.08" r="3" fill="#1890FF" fill-opacity="0.65"/>
<circle cx="2060.13" cy="784.15" r="3" fill="#1890FF" fill-opacity="0.65"/>
<circle cx="2052.19" cy="792.11" r="3" fill="#1890FF" fill-opacity="0.65"/>
<circle cx="2091.87" cy="773.09" r="3" fill="#1890FF" fill-opacity="0.65"/>
<circle cx="2126.39" cy="741.67" r="3" fill="#1890FF" fill-opacity="0.65"/>
<circle cx="2042.28" cy="794.33" r="3" fill="#1890FF" fill-opacity="0.65"/>
<circle cx="2048.23" cy="789.01" r="3" fill="#1890FF" fill-opacity="0.65"/>
<circle cx="2060.13" cy="759.15" r="3" fill="#1890FF" fill-opacity="0.65"/>
<circle cx="2060.13" cy="774.86" r="3" fill="#1890FF" fill-opacity="0.65"/>
<circle cx="2077.98" cy="777.07" r="3" fill="#1890FF" fill-opacity="0.65"/>
<circle cx="2047.04" cy="802.73" r="3" fill="#1890FF" fill-opacity="0.65"/>
<circle cx="2060.13" cy="758.04" r="3" fill="#1890FF" fill-opacity="0.65"/>
<circle cx="2050.21" cy="768.22" r="3" fill="#1890FF" fill-opacity="0.65"/>
<circle cx="2068.07" cy="750.96" r="3" fill="#1890FF" fill-opacity="0.65"/>
<circle cx="2077.19" cy="766.01" r="3" fill="#1890FF" fill-opacity="0.65"/>
<circle cx="2077.19" cy="780.17" r="3" fill="#1890FF" fill-opacity="0.65"/>
<circle cx="2014.5" cy="809.37" r="3" fill="#1890FF" fill-opacity="0.65"/>
<circle cx="2048.23" cy="814.46" r="3" fill="#1890FF" fill-opacity="0.65"/>
<circle cx="2089.89" cy="783.71" r="3" fill="#1890FF" fill-opacity="0.65"/>
<circle cx="2058.15" cy="794.33" r="3" fill="#1890FF" fill-opacity="0.65"/>
<circle cx="2107.74" cy="789.01" r="3" fill="#1890FF" fill-opacity="0.65"/>
<circle cx="2112.5" cy="763.13" r="3" fill="#1890FF" fill-opacity="0.65"/>
<circle cx="2047.43" cy="796.32" r="3" fill="#1890FF" fill-opacity="0.65"/>
<circle cx="2036.32" cy="817.56" r="3" fill="#1890FF" fill-opacity="0.65"/>
<circle cx="2083.93" cy="800.52" r="3" fill="#1890FF" fill-opacity="0.65"/>
<circle cx="2036.32" cy="813.57" r="3" fill="#1890FF" fill-opacity="0.65"/>
<circle cx="2067.27" cy="797.42" r="3" fill="#1890FF" fill-opacity="0.65"/>
<circle cx="2092.66" cy="771.98" r="3" fill="#1890FF" fill-opacity="0.65"/>
<circle cx="2102.58" cy="754.94" r="3" fill="#1890FF" fill-opacity="0.65"/>
<circle cx="2041.88" cy="761.8" r="3" fill="#1890FF" fill-opacity="0.65"/>
<circle cx="2047.04" cy="786.8" r="3" fill="#1890FF" fill-opacity="0.65"/>
<circle cx="2057.35" cy="789.68" r="3" fill="#1890FF" fill-opacity="0.65"/>
<circle cx="2077.19" cy="766.45" r="3" fill="#1890FF" fill-opacity="0.65"/>
<circle cx="2087.51" cy="752.95" r="3" fill="#1890FF" fill-opacity="0.65"/>
<circle cx="2107.74" cy="763.13" r="3" fill="#1890FF" fill-opacity="0.65"/>
<circle cx="2064.89" cy="741" r="3" fill="#1890FF" fill-opacity="0.65"/>
<circle cx="2044.66" cy="783.48" r="3" fill="#1890FF" fill-opacity="0.65"/>
<circle cx="2024.42" cy="818.44" r="3" fill="#1890FF" fill-opacity="0.65"/>
<circle cx="2034.34" cy="781.94" r="3" fill="#1890FF" fill-opacity="0.65"/>
<circle cx="2052.19" cy="758.48" r="3" fill="#1890FF" fill-opacity="0.65"/>
<circle cx="2047.04" cy="782.6" r="3" fill="#1890FF" fill-opacity="0.65"/>
<circle cx="2084.73" cy="756.49" r="3" fill="#1890FF" fill-opacity="0.65"/>
<circle cx="2012.92" cy="827.07" r="3" fill="#1890FF" fill-opacity="0.65"/>
<circle cx="2008.55" cy="823.09" r="3" fill="#1890FF" fill-opacity="0.65"/>
<circle cx="2042.28" cy="813.35" r="3" fill="#1890FF" fill-opacity="0.65"/>
<circle cx="2092.66" cy="779.28" r="3" fill="#1890FF" fill-opacity="0.65"/>
<circle cx="2052.19" cy="757.16" r="3" fill="#1890FF" fill-opacity="0.65"/>
<circle cx="2052.19" cy="789.46" r="3" fill="#1890FF" fill-opacity="0.65"/>
<circle cx="2064.1" cy="790.79" r="3" fill="#1890FF" fill-opacity="0.65"/>
<circle cx="2099.8" cy="761.58" r="3" fill="#1890FF" fill-opacity="0.65"/>
<circle cx="2024.42" cy="798.31" r="3" fill="#1890FF" fill-opacity="0.65"/>
<circle cx="2043.47" cy="802.95" r="3" fill="#1890FF" fill-opacity="0.65"/>
<circle cx="2083.93" cy="789.9" r="3" fill="#1890FF" fill-opacity="0.65"/>
<circle cx="2024.42" cy="806.27" r="3" fill="#1890FF" fill-opacity="0.65"/>
<circle cx="2067.27" cy="783.71" r="3" fill="#1890FF" fill-opacity="0.65"/>
<circle cx="2014.5" cy="794.33" r="3" fill="#1890FF" fill-opacity="0.65"/>
<circle cx="2123.61" cy="724.41" r="3" fill="#1890FF" fill-opacity="0.65"/>
<circle cx="2058.15" cy="809.37" r="3" fill="#1890FF" fill-opacity="0.65"/>
<circle cx="2041.09" cy="774.19" r="3" fill="#1890FF" fill-opacity="0.65"/>
<circle cx="2082.35" cy="774.63" r="3" fill="#1890FF" fill-opacity="0.65"/>
<circle cx="2026.01" cy="799.41" r="3" fill="#1890FF" fill-opacity="0.65"/>
<circle cx="2080.36" cy="803.18" r="3" fill="#1890FF" fill-opacity="0.65"/>
<circle cx="2064.1" cy="798.31" r="3" fill="#1890FF" fill-opacity="0.65"/>
<circle cx="2054.18" cy="807.82" r="3" fill="#1890FF" fill-opacity="0.65"/>
<circle cx="2066.08" cy="789.9" r="3" fill="#1890FF" fill-opacity="0.65"/>
<circle cx="2038.31" cy="823.53" r="3" fill="#1890FF" fill-opacity="0.65"/>
<circle cx="2085.52" cy="784.37" r="3" fill="#1890FF" fill-opacity="0.65"/>
<circle cx="2143.84" cy="748.08" r="3" fill="#1890FF" fill-opacity="0.65"/>
<circle cx="2076.4" cy="743.44" r="3" fill="#1890FF" fill-opacity="0.65"/>
<circle cx="2058.15" cy="770.21" r="3" fill="#1890FF" fill-opacity="0.65"/>
<circle cx="2078.38" cy="788.35" r="3" fill="#1890FF" fill-opacity="0.65"/>
<circle cx="2093.46" cy="798.75" r="3" fill="#1890FF" fill-opacity="0.65"/>
<circle cx="2058.15" cy="792.33" r="3" fill="#1890FF" fill-opacity="0.65"/>
<circle cx="2078.38" cy="788.79" r="3" fill="#1890FF" fill-opacity="0.65"/>
<circle cx="2064.1" cy="788.79" r="3" fill="#1890FF" fill-opacity="0.65"/>
<circle cx="2064.49" cy="764.68" r="3" fill="#1890FF" fill-opacity="0.65"/>
<circle cx="2082.35" cy="782.16" r="3" fill="#1890FF" fill-opacity="0.65"/>
<circle cx="2062.11" cy="787.69" r="3" fill="#1890FF" fill-opacity="0.65"/>
<circle cx="2056.16" cy="793.88" r="3" fill="#1890FF" fill-opacity="0.65"/>
<circle cx="2052.19" cy="786.8" r="3" fill="#1890FF" fill-opacity="0.65"/>
<circle cx="2016.88" cy="793.22" r="3" fill="#1890FF" fill-opacity="0.65"/>
<circle cx="2064.1" cy="796.76" r="3" fill="#1890FF" fill-opacity="0.65"/>
<circle cx="2123.61" cy="722.86" r="3" fill="#1890FF" fill-opacity="0.65"/>
<circle cx="2062.11" cy="797.87" r="3" fill="#1890FF" fill-opacity="0.65"/>
<circle cx="2033.94" cy="803.4" r="3" fill="#1890FF" fill-opacity="0.65"/>
<circle cx="2084.33" cy="781.71" r="3" fill="#1890FF" fill-opacity="0.65"/>
<circle cx="2075.21" cy="762.24" r="3" fill="#1890FF" fill-opacity="0.65"/>
<circle cx="2057.35" cy="755.16" r="3" fill="#1890FF" fill-opacity="0.65"/>
<circle cx="2095.44" cy="758.04" r="3" fill="#1890FF" fill-opacity="0.65"/>
<circle cx="2065.29" cy="787.25" r="3" fill="#1890FF" fill-opacity="0.65"/>
<circle cx="2026.01" cy="829.95" r="3" fill="#1890FF" fill-opacity="0.65"/>
<circle cx="2068.46" cy="789.9" r="3" fill="#1890FF" fill-opacity="0.65"/>
<circle cx="2031.96" cy="826.41" r="3" fill="#1890FF" fill-opacity="0.65"/>
<circle cx="1985.54" cy="819.99" r="3" fill="#1890FF" fill-opacity="0.65"/>
<circle cx="2077.19" cy="765.12" r="3" fill="#1890FF" fill-opacity="0.65"/>
<circle cx="2037.12" cy="788.35" r="3" fill="#1890FF" fill-opacity="0.65"/>
<circle cx="2067.27" cy="807.38" r="3" fill="#1890FF" fill-opacity="0.65"/>
<circle cx="2047.04" cy="789.24" r="3" fill="#1890FF" fill-opacity="0.65"/>
<circle cx="2016.88" cy="805.39" r="3" fill="#1890FF" fill-opacity="0.65"/>
<circle cx="2102.58" cy="758.04" r="3" fill="#1890FF" fill-opacity="0.65"/>
<circle cx="2016.88" cy="805.39" r="3" fill="#1890FF" fill-opacity="0.65"/>
<circle cx="2052.19" cy="753.17" r="3" fill="#1890FF" fill-opacity="0.65"/>
<circle cx="2057.35" cy="763.13" r="3" fill="#1890FF" fill-opacity="0.65"/>
<circle cx="2097.42" cy="801.41" r="3" fill="#1890FF" fill-opacity="0.65"/>
<circle cx="2067.27" cy="782.16" r="3" fill="#1890FF" fill-opacity="0.65"/>
<circle cx="2077.19" cy="743" r="3" fill="#1890FF" fill-opacity="0.65"/>
<circle cx="2077.19" cy="766.23" r="3" fill="#1890FF" fill-opacity="0.65"/>
<circle cx="2067.27" cy="820.88" r="3" fill="#1890FF" fill-opacity="0.65"/>
<circle cx="2067.27" cy="773.31" r="3" fill="#1890FF" fill-opacity="0.65"/>
<circle cx="2067.27" cy="775.3" r="3" fill="#1890FF" fill-opacity="0.65"/>
<circle cx="2067.27" cy="790.34" r="3" fill="#1890FF" fill-opacity="0.65"/>
<circle cx="2067.27" cy="691.66" r="3" fill="#1890FF" fill-opacity="0.65"/>
<circle cx="2011.73" cy="789.46" r="3" fill="#1890FF" fill-opacity="0.65"/>
<circle cx="2107.74" cy="764.24" r="3" fill="#1890FF" fill-opacity="0.65"/>
<circle cx="2147.81" cy="760.03" r="3" fill="#1890FF" fill-opacity="0.65"/>
<circle cx="2057.35" cy="748.08" r="3" fill="#1890FF" fill-opacity="0.65"/>
<circle cx="2022.04" cy="759.15" r="3" fill="#1890FF" fill-opacity="0.65"/>
<circle cx="2117.66" cy="752.07" r="3" fill="#1890FF" fill-opacity="0.65"/>
<circle cx="2022.04" cy="783.26" r="3" fill="#1890FF" fill-opacity="0.65"/>
<circle cx="2067.27" cy="777.29" r="3" fill="#1890FF" fill-opacity="0.65"/>
<circle cx="2074.81" cy="758.04" r="3" fill="#1890FF" fill-opacity="0.65"/>
<circle cx="2047.04" cy="748.08" r="3" fill="#1890FF" fill-opacity="0.65"/>
<circle cx="2117.66" cy="786.36" r="3" fill="#1890FF" fill-opacity="0.65"/>
<circle cx="2097.42" cy="780.17" r="3" fill="#1890FF" fill-opacity="0.65"/>
<circle cx="2031.96" cy="796.32" r="3" fill="#1890FF" fill-opacity="0.65"/>
<circle cx="2026.8" cy="762.24" r="3" fill="#1890FF" fill-opacity="0.65"/>
<circle cx="2057.35" cy="806.49" r="3" fill="#1890FF" fill-opacity="0.65"/>
<circle cx="2037.12" cy="796.32" r="3" fill="#1890FF" fill-opacity="0.65"/>
<circle cx="2117.66" cy="708.92" r="3" fill="#1890FF" fill-opacity="0.65"/>
<circle cx="2067.27" cy="758.04" r="3" fill="#1890FF" fill-opacity="0.65"/>
<circle cx="2117.66" cy="770.21" r="3" fill="#1890FF" fill-opacity="0.65"/>
<circle cx="2067.27" cy="755.16" r="3" fill="#1890FF" fill-opacity="0.65"/>
<circle cx="2092.66" cy="740.12" r="3" fill="#1890FF" fill-opacity="0.65"/>
<circle cx="2062.11" cy="771.76" r="3" fill="#1890FF" fill-opacity="0.65"/>
<circle cx="2067.27" cy="789.9" r="3" fill="#1890FF" fill-opacity="0.65"/>
<circle cx="2077.19" cy="791.23" r="3" fill="#1890FF" fill-opacity="0.65"/>
<circle cx="2041.88" cy="788.35" r="3" fill="#1890FF" fill-opacity="0.65"/>
<circle cx="2047.04" cy="763.13" r="3" fill="#1890FF" fill-opacity="0.65"/>
<circle cx="2047.04" cy="779.28" r="3" fill="#1890FF" fill-opacity="0.65"/>
<circle cx="2067.27" cy="808.49" r="3" fill="#1890FF" fill-opacity="0.65"/>
<circle cx="2067.27" cy="770.21" r="3" fill="#1890FF" fill-opacity="0.65"/>
<circle cx="2087.51" cy="770.21" r="3" fill="#1890FF" fill-opacity="0.65"/>
<circle cx="2037.12" cy="760.03" r="3" fill="#1890FF" fill-opacity="0.65"/>
<circle cx="2026.8" cy="797.42" r="3" fill="#1890FF" fill-opacity="0.65"/>
<circle cx="2057.35" cy="799.41" r="3" fill="#1890FF" fill-opacity="0.65"/>
<circle cx="2016.88" cy="802.29" r="3" fill="#1890FF" fill-opacity="0.65"/>
<circle cx="2097.42" cy="722.86" r="3" fill="#1890FF" fill-opacity="0.65"/>
<circle cx="2082.35" cy="793.22" r="3" fill="#1890FF" fill-opacity="0.65"/>
<circle cx="2047.04" cy="737.02" r="3" fill="#1890FF" fill-opacity="0.65"/>
<circle cx="2117.66" cy="763.13" r="3" fill="#1890FF" fill-opacity="0.65"/>
<circle cx="2072.43" cy="756.05" r="3" fill="#1890FF" fill-opacity="0.65"/>
<circle cx="2057.35" cy="790.34" r="3" fill="#1890FF" fill-opacity="0.65"/>
<circle cx="2037.12" cy="803.4" r="3" fill="#1890FF" fill-opacity="0.65"/>
<circle cx="2127.58" cy="737.02" r="3" fill="#1890FF" fill-opacity="0.65"/>
<circle cx="2041.88" cy="746.98" r="3" fill="#1890FF" fill-opacity="0.65"/>
<circle cx="2067.27" cy="768.22" r="3" fill="#1890FF" fill-opacity="0.65"/>
<circle cx="2067.27" cy="735.03" r="3" fill="#1890FF" fill-opacity="0.65"/>
<circle cx="2026.8" cy="796.32" r="3" fill="#1890FF" fill-opacity="0.65"/>
<circle cx="2026.8" cy="766.23" r="3" fill="#1890FF" fill-opacity="0.65"/>
<circle cx="2077.19" cy="782.16" r="3" fill="#1890FF" fill-opacity="0.65"/>
<circle cx="2087.51" cy="773.31" r="3" fill="#1890FF" fill-opacity="0.65"/>
<circle cx="2062.11" cy="786.36" r="3" fill="#1890FF" fill-opacity="0.65"/>
<circle cx="2102.58" cy="746.09" r="3" fill="#1890FF" fill-opacity="0.65"/>
<circle cx="2107.74" cy="763.13" r="3" fill="#1890FF" fill-opacity="0.65"/>
<circle cx="2107.74" cy="759.15" r="3" fill="#1890FF" fill-opacity="0.65"/>
<circle cx="2067.27" cy="768.22" r="3" fill="#1890FF" fill-opacity="0.65"/>
<circle cx="2052.19" cy="766.67" r="3" fill="#1890FF" fill-opacity="0.65"/>
<circle cx="2067.27" cy="771.09" r="3" fill="#1890FF" fill-opacity="0.65"/>
<circle cx="2041.88" cy="794.33" r="3" fill="#1890FF" fill-opacity="0.65"/>
<circle cx="2097.42" cy="768.22" r="3" fill="#1890FF" fill-opacity="0.65"/>
<circle cx="2097.42" cy="763.13" r="3" fill="#1890FF" fill-opacity="0.65"/>
<circle cx="2107.74" cy="748.97" r="3" fill="#1890FF" fill-opacity="0.65"/>
<circle cx="2107.74" cy="746.98" r="3" fill="#1890FF" fill-opacity="0.65"/>
<circle cx="2087.51" cy="752.07" r="3" fill="#1890FF" fill-opacity="0.65"/>
<circle cx="2062.11" cy="761.14" r="3" fill="#1890FF" fill-opacity="0.65"/>
<circle cx="2057.35" cy="796.32" r="3" fill="#1890FF" fill-opacity="0.65"/>
<circle cx="2057.35" cy="786.36" r="3" fill="#1890FF" fill-opacity="0.65"/>
<circle cx="2107.74" cy="771.09" r="3" fill="#1890FF" fill-opacity="0.65"/>
<circle cx="2107.74" cy="766.23" r="3" fill="#1890FF" fill-opacity="0.65"/>
<circle cx="2057.35" cy="758.04" r="3" fill="#1890FF" fill-opacity="0.65"/>
<circle cx="2038.31" cy="799.41" r="3" fill="#1890FF" fill-opacity="0.65"/>
<circle cx="2072.43" cy="744.1" r="3" fill="#1890FF" fill-opacity="0.65"/>
<circle cx="2067.27" cy="742.11" r="3" fill="#1890FF" fill-opacity="0.65"/>
<circle cx="2057.35" cy="792.33" r="3" fill="#1890FF" fill-opacity="0.65"/>
<circle cx="2087.51" cy="783.26" r="3" fill="#1890FF" fill-opacity="0.65"/>
<circle cx="2039.5" cy="743" r="3" fill="#1890FF" fill-opacity="0.65"/>
<circle cx="2107.74" cy="743" r="3" fill="#1890FF" fill-opacity="0.65"/>
<circle cx="2077.19" cy="777.29" r="3" fill="#1890FF" fill-opacity="0.65"/>
<circle cx="2067.27" cy="813.35" r="3" fill="#1890FF" fill-opacity="0.65"/>
<circle cx="2097.42" cy="741" r="3" fill="#1890FF" fill-opacity="0.65"/>
<circle cx="2031.96" cy="783.26" r="3" fill="#1890FF" fill-opacity="0.65"/>
<circle cx="2097.42" cy="764.24" r="3" fill="#1890FF" fill-opacity="0.65"/>
<circle cx="2077.19" cy="760.03" r="3" fill="#1890FF" fill-opacity="0.65"/>
<circle cx="2052.19" cy="785.7" r="3" fill="#1890FF" fill-opacity="0.65"/>
<circle cx="2026.8" cy="801.41" r="3" fill="#1890FF" fill-opacity="0.65"/>
<circle cx="2087.51" cy="756.05" r="3" fill="#1890FF" fill-opacity="0.65"/>
<circle cx="1996.65" cy="789.24" r="3" fill="#1890FF" fill-opacity="0.65"/>
<circle cx="2077.19" cy="753.17" r="3" fill="#1890FF" fill-opacity="0.65"/>
<circle cx="2026.8" cy="782.16" r="3" fill="#1890FF" fill-opacity="0.65"/>
<circle cx="2102.58" cy="724.85" r="3" fill="#1890FF" fill-opacity="0.65"/>
<circle cx="2057.35" cy="747.64" r="3" fill="#1890FF" fill-opacity="0.65"/>
<circle cx="2057.35" cy="800.3" r="3" fill="#1890FF" fill-opacity="0.65"/>
<circle cx="2059.73" cy="777.29" r="3" fill="#1890FF" fill-opacity="0.65"/>
<circle cx="2057.35" cy="768.22" r="3" fill="#1890FF" fill-opacity="0.65"/>
<circle cx="2072.43" cy="782.16" r="3" fill="#1890FF" fill-opacity="0.65"/>
<circle cx="2082.35" cy="762.24" r="3" fill="#1890FF" fill-opacity="0.65"/>
<circle cx="2067.27" cy="779.72" r="3" fill="#1890FF" fill-opacity="0.65"/>
<circle cx="2087.51" cy="761.14" r="3" fill="#1890FF" fill-opacity="0.65"/>
<circle cx="2067.27" cy="722.42" r="3" fill="#1890FF" fill-opacity="0.65"/>
<circle cx="2092.66" cy="778.17" r="3" fill="#1890FF" fill-opacity="0.65"/>
<circle cx="2072.43" cy="790.34" r="3" fill="#1890FF" fill-opacity="0.65"/>
<circle cx="2062.11" cy="754.72" r="3" fill="#1890FF" fill-opacity="0.65"/>
<circle cx="2107.74" cy="740.56" r="3" fill="#1890FF" fill-opacity="0.65"/>
<circle cx="2052.19" cy="792.33" r="3" fill="#1890FF" fill-opacity="0.65"/>
<circle cx="2026.8" cy="806.49" r="3" fill="#1890FF" fill-opacity="0.65"/>
<circle cx="2037.12" cy="778.17" r="3" fill="#1890FF" fill-opacity="0.65"/>
<circle cx="2026.8" cy="789.24" r="3" fill="#1890FF" fill-opacity="0.65"/>
<circle cx="2107.74" cy="756.05" r="3" fill="#1890FF" fill-opacity="0.65"/>
<circle cx="2052.19" cy="772.2" r="3" fill="#1890FF" fill-opacity="0.65"/>
<circle cx="2062.11" cy="767.11" r="3" fill="#1890FF" fill-opacity="0.65"/>
<circle cx="2077.19" cy="786.36" r="3" fill="#1890FF" fill-opacity="0.65"/>
<circle cx="2026.8" cy="785.25" r="3" fill="#1890FF" fill-opacity="0.65"/>
<circle cx="2107.74" cy="759.15" r="3" fill="#1890FF" fill-opacity="0.65"/>
<circle cx="2077.19" cy="787.25" r="3" fill="#1890FF" fill-opacity="0.65"/>
<circle cx="2026.8" cy="780.39" r="3" fill="#1890FF" fill-opacity="0.65"/>
<circle cx="2087.9" cy="803.4" r="3" fill="#1890FF" fill-opacity="0.65"/>
<circle cx="2087.9" cy="748.08" r="3" fill="#1890FF" fill-opacity="0.65"/>
<circle cx="2072.43" cy="752.07" r="3" fill="#1890FF" fill-opacity="0.65"/>
<circle cx="2037.12" cy="811.36" r="3" fill="#1890FF" fill-opacity="0.65"/>
<circle cx="2067.27" cy="766.23" r="3" fill="#1890FF" fill-opacity="0.65"/>
<circle cx="2072.43" cy="774.19" r="3" fill="#1890FF" fill-opacity="0.65"/>
<circle cx="2117.66" cy="731.93" r="3" fill="#1890FF" fill-opacity="0.65"/>
<circle cx="2067.27" cy="763.13" r="3" fill="#1890FF" fill-opacity="0.65"/>
<circle cx="2077.19" cy="765.12" r="3" fill="#1890FF" fill-opacity="0.65"/>
<circle cx="2077.19" cy="765.12" r="3" fill="#1890FF" fill-opacity="0.65"/>
<text x="16" y="932.76" font-size="16" fill="#2b2b2b" textLength="138" lengthAdjust="spacing">多线 HOVER 方式 2</text>
<circle cx="18.3" cy="971.3" r="3" fill="#1890FF"/>
<text x="27.3" y="975.62" font-size="12" fill="#7a7a7a">New York</text>
<circle cx="136.3" cy="971.3" r="3" fill="#2FC25B"/>
<text x="145.7" y="975.62" font-size="12" fill="#7a7a7a">San Francisco</text>
<circle cx="255.3" cy="971.3" r="3" fill="#FACC14"/>
<text x="264.3" y="975.62" font-size="12" fill="#7a7a7a">Austin</text>
<line x1="42" y1="1007.7" x2="360.7" y2="1007.7" stroke="#e7e7e7" stroke-width="1" stroke-dasharray="2 2"/>
<text x="34.3" y="1011.8" font-size="10" fill="#7f7f7f" text-anchor="end">100</text>
<line x1="42" y1="1045.35" x2="360.7" y2="1045.35" stroke="#e7e7e7" stroke-width="1" stroke-dasharray="2 2"/>
<text x="34.3" y="1049.45" font-size="10" fill="#7f7f7f" text-anchor="end">80</text>
<line x1="42" y1="1083" x2="360.7" y2="1083" stroke="#e7e7e7" stroke-width="1" stroke-dasharray="2 2"/>
<text x="34.3" y="1087.1" font-size="10" fill="#7f7f7f" text-anchor="end">60</text>
<line x1="42" y1="1120.65" x2="360.7" y2="1120.65" stroke="#e7e7e7" stroke-width="1" stroke-dasharray="2 2"/>
<text x="34.3" y="1124.75" font-size="10" fill="#7f7f7f" text-anchor="end">40</text>
<line x1="42" y1="1158.3" x2="360.7" y2="1158.3" stroke="#dadada" stroke-width="1"/>
<text x="34.3" y="1162.4" font-size="10" fill="#7f7f7f" text-anchor="end">20</text>
<text x="42" y="1176.6" font-size="10" fill="#7f7f7f" textLength="25.8" lengthAdjust="spacing">10–01</text>
<text x="119.3" y="1176.6" font-size="10" fill="#7f7f7f" text-anchor="middle" textLength="25.8" lengthAdjust="spacing">10–09</text>
<text x="196.7" y="1176.6" font-size="10" fill="#7f7f7f" text-anchor="middle" textLength="25.8" lengthAdjust="spacing">10–17</text>
<text x="273.7" y="1176.6" font-size="10" fill="#7f7f7f" text-anchor="middle" textLength="25.8" lengthAdjust="spacing">10–25</text>
<text x="360.7" y="1176.6" font-size="10" fill="#7f7f7f" text-anchor="end" textLength="25.8" lengthAdjust="spacing">11–03</text>
<polyline points="42,1076.6 51.66,1086.77 61.32,1095.61 70.97,1091.09 80.63,1075.09 90.29,1085.26 99.95,1086.95 109.6,1079.61 119.26,1065.49 128.92,1061.92 138.58,1066.62 148.23,1079.61 157.89,1077.35 167.55,1070.01 177.21,1079.8 186.86,1079.61 196.52,1077.73 206.18,1081.49 215.84,1079.05 225.49,1073.4 235.15,1091.28 244.81,1093.54 254.47,1093.54 264.12,1092.79 273.78,1086.95 283.44,1093.17 293.1,1093.54 302.75,1115.94 312.41,1118.96 322.07,1123.29 331.73,1112.74 341.38,1102.58 351.04,1107.1 360.7,1101.26" fill="none" stroke="#1890FF" stroke-width="2" stroke-linejoin="round" stroke-linecap="round"/>
<polyline points="42,1077.92 51.66,1083.19 61.32,1084.69 70.97,1085.26 80.63,1085.45 90.29,1088.65 99.95,1089.21 109.6,1089.02 119.26,1089.21 128.92,1082.81 138.58,1080.93 148.23,1080.18 157.89,1074.91 167.55,1069.63 177.21,1074.34 186.86,1079.99 196.52,1080.93 206.18,1084.51 215.84,1085.07 225.49,1088.27 235.15,1089.78 244.81,1081.68 254.47,1073.4 264.12,1081.31 273.78,1090.34 283.44,1093.17 293.1,1090.34 302.75,1086.58 312.41,1087.71 322.07,1087.33 331.73,1092.22 341.38,1086.95 351.04,1074.34" fill="none" stroke="#2FC25B" stroke-width="2" stroke-linejoin="round" stroke-linecap="round"/>
<polyline points="42,1060.03 51.66,1068.5 61.32,1065.3 70.97,1067.94 80.63,1059.66 90.29,1051 99.95,1041.02 109.6,1047.42 119.26,1066.43 128.92,1066.62 138.58,1063.61 148.23,1054.2 157.89,1051.75 167.55,1070.58 177.21,1067.94 186.86,1063.05 196.52,1062.1 206.18,1064.17 215.84,1079.99 225.49,1087.89 235.15,1074.91 244.81,1059.66 254.47,1059.66 264.12,1059.47 273.78,1059.09 283.44,1057.77 293.1,1062.86 302.75,1089.02 312.41,1099.94 322.07,1092.6 331.73,1085.26 341.38,1078.11 351.04,1062.29" fill="none" stroke="#FACC14" stroke-width="2" stroke-linejoin="round" stroke-linecap="round"/>
<text x="390" y="933.06" font-size="16" fill="#2b2b2b" textLength="184" lengthAdjust="spacing">层叠面积图 HOVER 方式 1</text>
<line x1="411.3" y1="980.9" x2="734.3" y2="980.9" stroke="#e7e7e7" stroke-width="1" stroke-dasharray="2 2"/>
<text x="403.3" y="985" font-size="10" fill="#7f7f7f" text-anchor="end">80</text>
<line x1="411.3" y1="1025.28" x2="734.3" y2="1025.28" stroke="#e7e7e7" stroke-width="1" stroke-dasharray="2 2"/>
<text x="403.3" y="1029.38" font-size="10" fill="#7f7f7f" text-anchor="end">60</text>
<line x1="411.3" y1="1069.65" x2="734.3" y2="1069.65" stroke="#e7e7e7" stroke-width="1" stroke-dasharray="2 2"/>
<text x="403.3" y="1073.75" font-size="10" fill="#7f7f7f" text-anchor="end">40</text>
<line x1="411.3" y1="1114.03" x2="734.3" y2="1114.03" stroke="#e7e7e7" stroke-width="1" stroke-dasharray="2 2"/>
<text x="403.3" y="1118.12" font-size="10" fill="#7f7f7f" text-anchor="end">20</text>
<line x1="411.3" y1="1158.4" x2="734.3" y2="1158.4" stroke="#dadada" stroke-width="1"/>
<text x="403.3" y="1162.5" font-size="10" fill="#7f7f7f" text-anchor="end">0</text>
<text x="411.3" y="1176.9" font-size="10" fill="#7f7f7f">1</text>
<text x="440.66" y="1176.9" font-size="10" fill="#7f7f7f" text-anchor="middle">2</text>
<text x="470.03" y="1176.9" font-size="10" fill="#7f7f7f" text-anchor="middle">3</text>
<text x="499.39" y="1176.9" font-size="10" fill="#7f7f7f" text-anchor="middle">4</text>
<text x="528.75" y="1176.9" font-size="10" fill="#7f7f7f" text-anchor="middle">5</text>
<text x="558.12" y="1176.9" font-size="10" fill="#7f7f7f" text-anchor="middle">6</text>
<text x="587.48" y="1176.9" font-size="10" fill="#7f7f7f" text-anchor="middle">7</text>
<text x="616.85" y="1176.9" font-size="10" fill="#7f7f7f" text-anchor="middle">8</text>
<text x="646.21" y="1176.9" font-size="10" fill="#7f7f7f" text-anchor="middle">9</text>
<text x="675.57" y="1176.9" font-size="10" fill="#7f7f7f" text-anchor="middle">10</text>
<text x="704.94" y="1176.9" font-size="10" fill="#7f7f7f" text-anchor="middle">11</text>
<text x="734.3" y="1176.9" font-size="10" fill="#7f7f7f" text-anchor="end">12</text>
<path d="M411.3,1142.87C411.3,1142.87 429.21,1140.57 440.66,1137.32C452.7,1133.91 458.11,1130.14 470.03,1126.23C481.6,1122.42 487.6,1121.14 499.39,1118.02C511.09,1114.92 517.05,1113.79 528.75,1110.7C540.54,1107.58 546.18,1104.74 558.12,1102.49C569.67,1100.31 575.88,1098.77 587.48,1099.6C599.37,1100.46 605.32,1103.13 616.85,1106.7C628.82,1110.41 634.38,1113.6 646.21,1117.8C657.87,1121.94 663.81,1123.69 675.57,1127.56C687.31,1131.42 693.01,1133.99 704.94,1137.1C716.5,1140.11 734.3,1142.87 734.3,1142.87 L734.3,1158.4 L411.3,1158.4 Z" fill="#1890FF" fill-opacity="0.1"/>
<path d="M411.3,1141.09C411.3,1141.09 429.57,1132.22 440.66,1124.68C453.06,1116.24 458.03,1110.22 470.03,1101.16C481.52,1092.47 487.42,1088.31 499.39,1080.3C510.91,1072.6 516.67,1068.64 528.75,1061.88C540.16,1055.51 545.74,1050.78 558.12,1047.46C569.24,1044.48 576.49,1043.39 587.48,1046.13C599.98,1049.25 605.88,1054.57 616.85,1062.11C629.37,1070.72 634.23,1077.05 646.21,1086.51C657.72,1095.6 663.93,1099.55 675.57,1108.48C687.43,1117.57 692.19,1124.09 704.94,1131.55C715.68,1137.84 734.3,1142.87 734.3,1142.87 L734.3,1142.87C734.3,1142.87 716.5,1140.11 704.94,1137.1C693.01,1133.99 687.31,1131.42 675.57,1127.56C663.81,1123.69 657.87,1121.94 646.21,1117.8C634.38,1113.6 628.82,1110.41 616.85,1106.7C605.32,1103.13 599.37,1100.46 587.48,1099.6C575.88,1098.77 569.67,1100.31 558.12,1102.49C546.18,1104.74 540.54,1107.58 528.75,1110.7C517.05,1113.79 511.09,1114.92 499.39,1118.02C487.6,1121.14 481.6,1122.42 470.03,1126.23C458.11,1130.14 452.7,1133.91 440.66,1137.32C429.21,1140.57 411.3,1142.87 411.3,1142.87 Z" fill="#2FC25B" fill-opacity="0.1"/>
<path d="M411.3,1139.76C411.3,1139.76 430.06,1127.25 440.66,1116.91C453.55,1104.35 458.06,1096.08 470.03,1082.52C481.55,1069.46 487.05,1062.61 499.39,1050.35C510.54,1039.27 516.23,1033.58 528.75,1024.17C539.72,1015.92 545.44,1010.03 558.12,1006.19C568.93,1002.93 577.23,1002.19 587.48,1006.42C600.72,1011.87 606.31,1019.59 616.85,1030.38C629.8,1043.64 634.18,1052.32 646.21,1066.54C657.67,1080.1 663.45,1086.86 675.57,1099.83C686.94,1111.98 691.42,1120.45 704.94,1129.33C714.91,1135.89 734.3,1138.43 734.3,1138.43 L734.3,1142.87C734.3,1142.87 715.68,1137.84 704.94,1131.55C692.19,1124.09 687.43,1117.57 675.57,1108.48C663.93,1099.55 657.72,1095.6 646.21,1086.51C634.23,1077.05 629.37,1070.72 616.85,1062.11C605.88,1054.57 599.98,1049.25 587.48,1046.13C576.49,1043.39 569.24,1044.48 558.12,1047.46C545.74,1050.78 540.16,1055.51 528.75,1061.88C516.67,1068.64 510.91,1072.6 499.39,1080.3C487.42,1088.31 481.52,1092.47 470.03,1101.16C458.03,1110.22 453.06,1116.24 440.66,1124.68C429.57,1132.22 411.3,1141.09 411.3,1141.09 Z" fill="#FACC14" fill-opacity="0.1"/>
<path d="M411.3,1142.87C411.3,1142.87 429.21,1140.57 440.66,1137.32C452.7,1133.91 458.11,1130.14 470.03,1126.23C481.6,1122.42 487.6,1121.14 499.39,1118.02C511.09,1114.92 517.05,1113.79 528.75,1110.7C540.54,1107.58 546.18,1104.74 558.12,1102.49C569.67,1100.31 575.88,1098.77 587.48,1099.6C599.37,1100.46 605.32,1103.13 616.85,1106.7C628.82,1110.41 634.38,1113.6 646.21,1117.8C657.87,1121.94 663.81,1123.69 675.57,1127.56C687.31,1131.42 693.01,1133.99 704.94,1137.1C716.5,1140.11 734.3,1142.87 734.3,1142.87" fill="none" stroke="#1890FF" stroke-width="2" stroke-linecap="round"/>
<path d="M411.3,1141.09C411.3,1141.09 429.57,1132.22 440.66,1124.68C453.06,1116.24 458.03,1110.22 470.03,1101.16C481.52,1092.47 487.42,1088.31 499.39,1080.3C510.91,1072.6 516.67,1068.64 528.75,1061.88C540.16,1055.51 545.74,1050.78 558.12,1047.46C569.24,1044.48 576.49,1043.39 587.48,1046.13C599.98,1049.25 605.88,1054.57 616.85,1062.11C629.37,1070.72 634.23,1077.05 646.21,1086.51C657.72,1095.6 663.93,1099.55 675.57,1108.48C687.43,1117.57 692.19,1124.09 704.94,1131.55C715.68,1137.84 734.3,1142.87 734.3,1142.87" fill="none" stroke="#2FC25B" stroke-width="2" stroke-linecap="round"/>
<path d="M411.3,1139.76C411.3,1139.76 430.06,1127.25 440.66,1116.91C453.55,1104.35 458.06,1096.08 470.03,1082.52C481.55,1069.46 487.05,1062.61 499.39,1050.35C510.54,1039.27 516.23,1033.58 528.75,1024.17C539.72,1015.92 545.44,1010.03 558.12,1006.19C568.93,1002.93 577.23,1002.19 587.48,1006.42C600.72,1011.87 606.31,1019.59 616.85,1030.38C629.8,1043.64 634.18,1052.32 646.21,1066.54C657.67,1080.1 663.45,1086.86 675.57,1099.83C686.94,1111.98 691.42,1120.45 704.94,1129.33C714.91,1135.89 734.3,1138.43 734.3,1138.43" fill="none" stroke="#FACC14" stroke-width="2" stroke-linecap="round"/>
<text x="766" y="933.06" font-size="16" fill="#2b2b2b">区间条形图</text>
<line x1="928.7" y1="981" x2="928.7" y2="1158.3" stroke="#e7e7e7" stroke-width="1" stroke-dasharray="2 2"/>
<line x1="989" y1="981" x2="989" y2="1158.3" stroke="#e7e7e7" stroke-width="1" stroke-dasharray="2 2"/>
<line x1="1049.3" y1="981" x2="1049.3" y2="1158.3" stroke="#e7e7e7" stroke-width="1" stroke-dasharray="2 2"/>
<line x1="1109.7" y1="981" x2="1109.7" y2="1158.3" stroke="#e7e7e7" stroke-width="1" stroke-dasharray="2 2"/>
<line x1="868.3" y1="981" x2="868.3" y2="1158.3" stroke="#dadada" stroke-width="1"/>
<rect x="903" y="989.87" width="162.95" height="17.73" fill="#1890FF" fill-opacity="0.85"/>
<text x="861" y="1003.03" font-size="10" fill="#7f7f7f" text-anchor="end">计算机科学</text>
<rect x="902.25" y="1025.33" width="162.19" height="17.73" fill="#1890FF" fill-opacity="0.85"/>
<text x="861" y="1038.49" font-size="10" fill="#7f7f7f" text-anchor="end">心理学</text>
<rect x="904.51" y="1060.79" width="152.38" height="17.73" fill="#1890FF" fill-opacity="0.85"/>
<text x="861" y="1073.95" font-size="10" fill="#7f7f7f" text-anchor="end">教育学</text>
<rect x="895.46" y="1096.24" width="153.89" height="17.73" fill="#1890FF" fill-opacity="0.85"/>
<text x="861" y="1109.41" font-size="10" fill="#7f7f7f" text-anchor="end">执法与救火</text>
<rect x="903" y="1131.7" width="131.26" height="17.73" fill="#1890FF" fill-opacity="0.85"/>
<text x="861" y="1144.87" font-size="10" fill="#7f7f7f" text-anchor="end">两年制副学士学位</text>
<text x="868.3" y="1176.9" font-size="10" fill="#7f7f7f">0 k</text>
<text x="928.7" y="1176.9" font-size="10" fill="#7f7f7f" text-anchor="middle">40 k</text>
<text x="989" y="1176.9" font-size="10" fill="#7f7f7f" text-anchor="middle">80 k</text>
<text x="1049.3" y="1176.9" font-size="10" fill="#7f7f7f" text-anchor="middle">120 k</text>
<text x="1109.7" y="1176.9" font-size="10" fill="#7f7f7f" text-anchor="end">160 k</text>
<text x="1141" y="933.06" font-size="16" fill="#2b2b2b">区间柱状图</text>
<line x1="1167" y1="980.9" x2="1484.7" y2="980.9" stroke="#e7e7e7" stroke-width="1" stroke-dasharray="2 2"/>
<text x="1159" y="985" font-size="10" fill="#7f7f7f" text-anchor="end">160</text>
<line x1="1167" y1="1025.28" x2="1484.7" y2="1025.28" stroke="#e7e7e7" stroke-width="1" stroke-dasharray="2 2"/>
<text x="1159" y="1029.38" font-size="10" fill="#7f7f7f" text-anchor="end">120</text>
<line x1="1167" y1="1069.65" x2="1484.7" y2="1069.65" stroke="#e7e7e7" stroke-width="1" stroke-dasharray="2 2"/>
<text x="1159" y="1073.75" font-size="10" fill="#7f7f7f" text-anchor="end">80</text>
<line x1="1167" y1="1114.03" x2="1484.7" y2="1114.03" stroke="#e7e7e7" stroke-width="1" stroke-dasharray="2 2"/>
<text x="1159" y="1118.12" font-size="10" fill="#7f7f7f" text-anchor="end">40</text>
<line x1="1167" y1="1158.4" x2="1484.7" y2="1158.4" stroke="#dadada" stroke-width="1"/>
<text x="1159" y="1162.5" font-size="10" fill="#7f7f7f" text-anchor="end">0</text>
<rect x="1176.93" y="1047.46" width="19.86" height="26.63" fill="#1890FF" fill-opacity="0.85"/>
<text x="1186.86" y="1177.2" font-size="10" fill="#7f7f7f" text-anchor="middle">分类一</text>
<rect x="1216.64" y="1038.59" width="19.86" height="57.69" fill="#1890FF" fill-opacity="0.85"/>
<text x="1226.57" y="1177.2" font-size="10" fill="#7f7f7f" text-anchor="middle">分类二</text>
<rect x="1256.35" y="1015.29" width="19.86" height="100.95" fill="#1890FF" fill-opacity="0.85"/>
<text x="1266.28" y="1177.2" font-size="10" fill="#7f7f7f" text-anchor="middle">分类三</text>
<rect x="1296.07" y="986.45" width="19.86" height="107.61" fill="#1890FF" fill-opacity="0.85"/>
<text x="1305.99" y="1177.2" font-size="10" fill="#7f7f7f" text-anchor="middle">分类四</text>
<rect x="1335.78" y="1025.28" width="19.86" height="83.2" fill="#1890FF" fill-opacity="0.85"/>
<text x="1345.71" y="1177.2" font-size="10" fill="#7f7f7f" text-anchor="middle">分类五</text>
<rect x="1375.49" y="1048.57" width="19.86" height="84.31" fill="#1890FF" fill-opacity="0.85"/>
<text x="1385.42" y="1177.2" font-size="10" fill="#7f7f7f" text-anchor="middle">分类六</text>
<rect x="1415.2" y="1096.28" width="19.86" height="42.16" fill="#1890FF" fill-opacity="0.85"/>
<text x="1425.13" y="1177.2" font-size="10" fill="#7f7f7f" text-anchor="middle">分类七</text>
<rect x="1454.92" y="1120.68" width="19.86" height="17.75" fill="#1890FF" fill-opacity="0.85"/>
<text x="1464.84" y="1177.2" font-size="10" fill="#7f7f7f" text-anchor="middle">分类八</text>
<text x="1516.7" y="933.06" font-size="16" fill="#2b2b2b">气泡图</text>
<circle cx="1519.3" cy="972" r="3" fill="#1890FF"/>
<text x="1528.3" y="976.32" font-size="12" fill="#7a7a7a">Americas</text>
<circle cx="1637.3" cy="972" r="3" fill="#2FC25B"/>
<text x="1646.7" y="976.32" font-size="12" fill="#7a7a7a">Europe</text>
<circle cx="1755.7" cy="972" r="3" fill="#FACC14"/>
<text x="1764.7" y="976.32" font-size="12" fill="#7a7a7a">Oceania</text>
<line x1="1538.3" y1="1008.3" x2="1860.7" y2="1008.3" stroke="#e7e7e7" stroke-width="1" stroke-dasharray="2 2"/>
<text x="1530.3" y="1012.4" font-size="10" fill="#7f7f7f" text-anchor="end">84</text>
<line x1="1538.3" y1="1045.9" x2="1860.7" y2="1045.9" stroke="#e7e7e7" stroke-width="1" stroke-dasharray="2 2"/>
<text x="1530.3" y="1050" font-size="10" fill="#7f7f7f" text-anchor="end">80</text>
<line x1="1538.3" y1="1083.5" x2="1860.7" y2="1083.5" stroke="#e7e7e7" stroke-width="1" stroke-dasharray="2 2"/>
<text x="1530.3" y="1087.6" font-size="10" fill="#7f7f7f" text-anchor="end">76</text>
<line x1="1538.3" y1="1121.1" x2="1860.7" y2="1121.1" stroke="#e7e7e7" stroke-width="1" stroke-dasharray="2 2"/>
<text x="1530.3" y="1125.2" font-size="10" fill="#7f7f7f" text-anchor="end">72</text>
<line x1="1538.3" y1="1158.7" x2="1860.7" y2="1158.7" stroke="#dadada" stroke-width="1"/>
<text x="1530.3" y="1162.8" font-size="10" fill="#7f7f7f" text-anchor="end">68</text>
<text x="1538.3" y="1176.9" font-size="10" fill="#7f7f7f">0</text>
<text x="1602.78" y="1176.9" font-size="10" fill="#7f7f7f" text-anchor="middle">10000</text>
<text x="1667.26" y="1176.9" font-size="10" fill="#7f7f7f" text-anchor="middle">20000</text>
<text x="1731.74" y="1176.9" font-size="10" fill="#7f7f7f" text-anchor="middle">30000</text>
<text x="1796.22" y="1176.9" font-size="10" fill="#7f7f7f" text-anchor="middle">40000</text>
<text x="1860.7" y="1176.9" font-size="10" fill="#7f7f7f" text-anchor="end">50000</text>
<circle cx="1814.9" cy="1061.8" r="56" fill="#1890FF" fill-opacity="0.65"/>
<circle cx="1596.8" cy="1117.2" r="37" fill="#1890FF" fill-opacity="0.65"/>
<circle cx="1615.4" cy="1081.2" r="22.6" fill="#1890FF" fill-opacity="0.65"/>
<circle cx="1620.4" cy="1089.7" r="10.6" fill="#1890FF" fill-opacity="0.65"/>
<circle cx="1583.4" cy="1110.4" r="11.3" fill="#1890FF" fill-opacity="0.65"/>
<circle cx="1613.3" cy="1104.5" r="7" fill="#1890FF" fill-opacity="0.65"/>
<circle cx="1623.2" cy="1058.6" r="6.5" fill="#1890FF" fill-opacity="0.65"/>
<circle cx="1595.2" cy="1061.7" r="5.2" fill="#1890FF" fill-opacity="0.65"/>
<circle cx="1600.3" cy="1056.9" r="4.5" fill="#1890FF" fill-opacity="0.65"/>
<circle cx="1606.5" cy="1079" r="4.5" fill="#1890FF" fill-opacity="0.65"/>
<circle cx="1601.3" cy="1087.3" r="4.5" fill="#1890FF" fill-opacity="0.65"/>
<circle cx="1582" cy="1092.5" r="6" fill="#1890FF" fill-opacity="0.65"/>
<circle cx="1555.8" cy="1112.2" r="4.8" fill="#1890FF" fill-opacity="0.65"/>
<circle cx="1564.9" cy="1122.8" r="5" fill="#1890FF" fill-opacity="0.65"/>
<circle cx="1575.9" cy="1120" r="6.4" fill="#1890FF" fill-opacity="0.65"/>
<circle cx="1560.8" cy="1137.7" r="4.8" fill="#1890FF" fill-opacity="0.65"/>
<circle cx="1571.6" cy="1137" r="6.2" fill="#1890FF" fill-opacity="0.65"/>
<circle cx="1586.5" cy="1125.7" r="8.5" fill="#1890FF" fill-opacity="0.65"/>
<circle cx="1662.7" cy="1057.2" r="4.5" fill="#1890FF" fill-opacity="0.65"/>
<circle cx="1654.2" cy="1141.2" r="4.2" fill="#1890FF" fill-opacity="0.65"/>
<circle cx="1773.3" cy="1039.2" r="8.8" fill="#1890FF" fill-opacity="0.65"/>
<circle cx="1592.8" cy="1122.8" r="16.2" fill="#2FC25B" fill-opacity="0.65"/>
<circle cx="1637.3" cy="1087.3" r="10.6" fill="#2FC25B" fill-opacity="0.65"/>
<circle cx="1608.1" cy="1116.1" r="7.8" fill="#2FC25B" fill-opacity="0.65"/>
<circle cx="1576.4" cy="1078.8" r="4.5" fill="#2FC25B" fill-opacity="0.65"/>
<circle cx="1586.2" cy="1093.6" r="4.7" fill="#2FC25B" fill-opacity="0.65"/>
<circle cx="1598" cy="1096.7" r="4.2" fill="#2FC25B" fill-opacity="0.65"/>
<circle cx="1601.3" cy="1101.9" r="5.6" fill="#2FC25B" fill-opacity="0.65"/>
<circle cx="1607.2" cy="1111.5" r="5.4" fill="#2FC25B" fill-opacity="0.65"/>
<circle cx="1654.2" cy="1108.1" r="5.6" fill="#2FC25B" fill-opacity="0.65"/>
<circle cx="1658.6" cy="1095.7" r="4.8" fill="#2FC25B" fill-opacity="0.65"/>
<circle cx="1670.5" cy="1063.5" r="5.6" fill="#2FC25B" fill-opacity="0.65"/>
<circle cx="1685.4" cy="1078.4" r="5.6" fill="#2FC25B" fill-opacity="0.65"/>
<circle cx="1704.4" cy="1064.9" r="4.5" fill="#2FC25B" fill-opacity="0.65"/>
<circle cx="1632.4" cy="1085.4" r="4.5" fill="#2FC25B" fill-opacity="0.65"/>
<circle cx="1722.5" cy="1040.2" r="13.8" fill="#2FC25B" fill-opacity="0.65"/>
<circle cx="1724.6" cy="1037.4" r="11.3" fill="#2FC25B" fill-opacity="0.65"/>
<circle cx="1734.9" cy="1039.2" r="14.5" fill="#2FC25B" fill-opacity="0.65"/>
<circle cx="1745.8" cy="1051.5" r="18" fill="#2FC25B" fill-opacity="0.65"/>
<circle cx="1752.1" cy="1051.5" r="13.8" fill="#2FC25B" fill-opacity="0.65"/>
<circle cx="1715.7" cy="1050.4" r="5.6" fill="#2FC25B" fill-opacity="0.65"/>
<circle cx="1754.2" cy="1051.5" r="6" fill="#2FC25B" fill-opacity="0.65"/>
<circle cx="1756.4" cy="1037" r="5.6" fill="#2FC25B" fill-opacity="0.65"/>
<circle cx="1766" cy="1061.1" r="4.7" fill="#2FC25B" fill-opacity="0.65"/>
<circle cx="1771.6" cy="1029.2" r="4" fill="#2FC25B" fill-opacity="0.65"/>
<circle cx="1780.4" cy="1029.6" r="5" fill="#2FC25B" fill-opacity="0.65"/>
<circle cx="1772.6" cy="1047.3" r="4.5" fill="#2FC25B" fill-opacity="0.65"/>
<circle cx="1776.4" cy="1048" r="6.4" fill="#2FC25B" fill-opacity="0.65"/>
<circle cx="1800.5" cy="1056" r="4.7" fill="#2FC25B" fill-opacity="0.65"/>
<circle cx="1856.6" cy="1043.6" r="4.8" fill="#2FC25B" fill-opacity="0.65"/>
<circle cx="1700.6" cy="1043.6" r="4.7" fill="#FACC14" fill-opacity="0.65"/>
<circle cx="1760.3" cy="1033.9" r="7.3" fill="#FACC14" fill-opacity="0.65"/>
<text x="1890.7" y="933.06" font-size="16" fill="#2b2b2b">多色散点图</text>
<circle cx="1893.3" cy="972" r="3" fill="#1890FF"/>
<text x="1902.3" y="976.32" font-size="12" fill="#7a7a7a">female</text>
<circle cx="2070.3" cy="972" r="3" fill="#2FC25B"/>
<text x="2079.7" y="976.32" font-size="12" fill="#7a7a7a">male</text>
<line x1="1917.3" y1="1008.3" x2="2234.7" y2="1008.3" stroke="#e7e7e7" stroke-width="1" stroke-dasharray="2 2"/>
<text x="1909.3" y="1012.4" font-size="10" fill="#7f7f7f" text-anchor="end">120</text>
<line x1="1917.3" y1="1045.9" x2="2234.7" y2="1045.9" stroke="#e7e7e7" stroke-width="1" stroke-dasharray="2 2"/>
<text x="1909.3" y="1050" font-size="10" fill="#7f7f7f" text-anchor="end">100</text>
<line x1="1917.3" y1="1083.5" x2="2234.7" y2="1083.5" stroke="#e7e7e7" stroke-width="1" stroke-dasharray="2 2"/>
<text x="1909.3" y="1087.6" font-size="10" fill="#7f7f7f" text-anchor="end">80</text>
<line x1="1917.3" y1="1121.1" x2="2234.7" y2="1121.1" stroke="#e7e7e7" stroke-width="1" stroke-dasharray="2 2"/>
<text x="1909.3" y="1125.2" font-size="10" fill="#7f7f7f" text-anchor="end">60</text>
<line x1="1917.3" y1="1158.7" x2="2234.7" y2="1158.7" stroke="#dadada" stroke-width="1"/>
<text x="1909.3" y="1162.8" font-size="10" fill="#7f7f7f" text-anchor="end">40</text>
<text x="1917.3" y="1176.9" font-size="10" fill="#7f7f7f">140</text>
<text x="1996.65" y="1176.9" font-size="10" fill="#7f7f7f" text-anchor="middle">160</text>
<text x="2076" y="1176.9" font-size="10" fill="#7f7f7f" text-anchor="middle">180</text>
<text x="2155.35" y="1176.9" font-size="10" fill="#7f7f7f" text-anchor="middle">200</text>
<text x="2234.7" y="1176.9" font-size="10" fill="#7f7f7f" text-anchor="end">220</text>
<circle cx="2001.41" cy="1136.89" r="3" fill="#1890FF" fill-opacity="0.65"/>
<circle cx="2026.41" cy="1122.98" r="3" fill="#1890FF" fill-opacity="0.65"/>
<circle cx="1994.67" cy="1141.4" r="3" fill="#1890FF" fill-opacity="0.65"/>
<circle cx="1984.75" cy="1115.46" r="3" fill="#1890FF" fill-opacity="0.65"/>
<circle cx="1979.99" cy="1133.13" r="3" fill="#1890FF" fill-opacity="0.65"/>
<circle cx="2036.32" cy="1122.98" r="3" fill="#1890FF" fill-opacity="0.65"/>
<circle cx="1993.08" cy="1144.41" r="3" fill="#1890FF" fill-opacity="0.65"/>
<circle cx="2020.45" cy="1102.68" r="3" fill="#1890FF" fill-opacity="0.65"/>
<circle cx="2060.92" cy="1108.32" r="3" fill="#1890FF" fill-opacity="0.65"/>
<circle cx="1997.44" cy="1092.52" r="3" fill="#1890FF" fill-opacity="0.65"/>
<circle cx="2046.24" cy="1130.12" r="3" fill="#1890FF" fill-opacity="0.65"/>
<circle cx="2039.9" cy="1132" r="3" fill="#1890FF" fill-opacity="0.65"/>
<circle cx="2047.83" cy="1116.4" r="3" fill="#1890FF" fill-opacity="0.65"/>
<circle cx="1970.46" cy="1154.94" r="3" fill="#1890FF" fill-opacity="0.65"/>
<circle cx="1996.65" cy="1139.9" r="3" fill="#1890FF" fill-opacity="0.65"/>
<circle cx="1945.87" cy="1140.28" r="3" fill="#1890FF" fill-opacity="0.65"/>
<circle cx="2029.18" cy="1141.4" r="3" fill="#1890FF" fill-opacity="0.65"/>
<circle cx="2056.16" cy="1096.28" r="3" fill="#1890FF" fill-opacity="0.65"/>
<circle cx="1984.75" cy="1144.04" r="3" fill="#1890FF" fill-opacity="0.65"/>
<circle cx="2026.8" cy="1104.56" r="3" fill="#1890FF" fill-opacity="0.65"/>
<circle cx="1994.67" cy="1138.77" r="3" fill="#1890FF" fill-opacity="0.65"/>
<circle cx="2056.16" cy="1078.8" r="3" fill="#1890FF" fill-opacity="0.65"/>
<circle cx="2023.63" cy="1126.36" r="3" fill="#1890FF" fill-opacity="0.65"/>
<circle cx="2062.11" cy="1068.84" r="3" fill="#1890FF" fill-opacity="0.65"/>
<circle cx="2037.12" cy="1097.04" r="3" fill="#1890FF" fill-opacity="0.65"/>
<circle cx="2052.19" cy="1131.44" r="3" fill="#1890FF" fill-opacity="0.65"/>
<circle cx="2048.23" cy="1121.48" r="3" fill="#1890FF" fill-opacity="0.65"/>
<circle cx="2075.6" cy="1107.38" r="3" fill="#1890FF" fill-opacity="0.65"/>
<circle cx="2038.31" cy="1106.44" r="3" fill="#1890FF" fill-opacity="0.65"/>
<circle cx="1996.65" cy="1145.54" r="3" fill="#1890FF" fill-opacity="0.65"/>
<circle cx="1974.43" cy="1147.04" r="3" fill="#1890FF" fill-opacity="0.65"/>
<circle cx="2004.59" cy="1130.5" r="3" fill="#1890FF" fill-opacity="0.65"/>
<circle cx="2062.11" cy="1077.86" r="3" fill="#1890FF" fill-opacity="0.65"/>
<circle cx="1996.65" cy="1131.63" r="3" fill="#1890FF" fill-opacity="0.65"/>
<circle cx="1964.91" cy="1147.8" r="3" fill="#1890FF" fill-opacity="0.65"/>
<circle cx="2004.98" cy="1133.13" r="3" fill="#1890FF" fill-opacity="0.65"/>
<circle cx="2036.32" cy="1096.28" r="3" fill="#1890FF" fill-opacity="0.65"/>
<circle cx="1997.44" cy="1135.95" r="3" fill="#1890FF" fill-opacity="0.65"/>
<circle cx="2001.81" cy="1106.25" r="3" fill="#1890FF" fill-opacity="0.65"/>
<circle cx="2022.04" cy="1127.49" r="3" fill="#1890FF" fill-opacity="0.65"/>
<circle cx="2031.96" cy="1116.78" r="3" fill="#1890FF" fill-opacity="0.65"/>
<circle cx="2011.73" cy="1123.92" r="3" fill="#1890FF" fill-opacity="0.65"/>
<circle cx="2026.8" cy="1131.44" r="3" fill="#1890FF" fill-opacity="0.65"/>
<circle cx="1996.65" cy="1139.52" r="3" fill="#1890FF" fill-opacity="0.65"/>
<circle cx="2001.81" cy="1120.54" r="3" fill="#1890FF" fill-opacity="0.65"/>
<circle cx="2026.8" cy="1124.3" r="3" fill="#1890FF" fill-opacity="0.65"/>
<circle cx="2016.88" cy="1128.24" r="3" fill="#1890FF" fill-opacity="0.65"/>
<circle cx="1996.65" cy="1139.52" r="3" fill="#1890FF" fill-opacity="0.65"/>
<circle cx="2036.32" cy="1096.85" r="3" fill="#1890FF" fill-opacity="0.65"/>
<circle cx="1986.73" cy="1121.48" r="3" fill="#1890FF" fill-opacity="0.65"/>
<circle cx="2026.8" cy="1119.22" r="3" fill="#1890FF" fill-opacity="0.65"/>
<circle cx="1999.43" cy="1103.99" r="3" fill="#1890FF" fill-opacity="0.65"/>
<circle cx="2009.35" cy="1128.81" r="3" fill="#1890FF" fill-opacity="0.65"/>
<circle cx="1966.5" cy="1146.48" r="3" fill="#1890FF" fill-opacity="0.65"/>
<circle cx="1986.73" cy="1131.82" r="3" fill="#1890FF" fill-opacity="0.65"/>
<circle cx="2029.58" cy="1130.88" r="3" fill="#1890FF" fill-opacity="0.65"/>
<circle cx="2077.19" cy="1119.78" r="3" fill="#1890FF" fill-opacity="0.65"/>
<circle cx="2018.47" cy="1121.1" r="3" fill="#1890FF" fill-opacity="0.65"/>
<circle cx="2016.49" cy="1117.34" r="3" fill="#1890FF" fill-opacity="0.65"/>
<circle cx="2014.5" cy="1120.54" r="3" fill="#1890FF" fill-opacity="0.65"/>
<circle cx="1980.78" cy="1134.82" r="3" fill="#1890FF" fill-opacity="0.65"/>
<circle cx="1996.65" cy="1094.22" r="3" fill="#1890FF" fill-opacity="0.65"/>
<circle cx="2008.55" cy="1117.34" r="3" fill="#1890FF" fill-opacity="0.65"/>
<circle cx="2019.26" cy="1096.47" r="3" fill="#1890FF" fill-opacity="0.65"/>
<circle cx="2000.62" cy="1083.5" r="3" fill="#1890FF" fill-opacity="0.65"/>
<circle cx="2004.59" cy="1131.06" r="3" fill="#1890FF" fill-opacity="0.65"/>
<circle cx="2020.45" cy="1133.88" r="3" fill="#1890FF" fill-opacity="0.65"/>
<circle cx="2052.19" cy="1091.58" r="3" fill="#1890FF" fill-opacity="0.65"/>
<circle cx="2047.04" cy="1119.03" r="3" fill="#1890FF" fill-opacity="0.65"/>
<circle cx="2026.8" cy="1129.18" r="3" fill="#1890FF" fill-opacity="0.65"/>
<circle cx="1961.34" cy="1142.34" r="3" fill="#1890FF" fill-opacity="0.65"/>
<circle cx="2014.5" cy="1135.58" r="3" fill="#1890FF" fill-opacity="0.65"/>
<circle cx="2010.54" cy="1139.9" r="3" fill="#1890FF" fill-opacity="0.65"/>
<circle cx="1964.91" cy="1122.42" r="3" fill="#1890FF" fill-opacity="0.65"/>
<circle cx="2032.36" cy="1116.4" r="3" fill="#1890FF" fill-opacity="0.65"/>
<circle cx="2012.52" cy="1129.18" r="3" fill="#1890FF" fill-opacity="0.65"/>
<circle cx="2001.41" cy="1130.88" r="3" fill="#1890FF" fill-opacity="0.65"/>
<circle cx="1976.81" cy="1147.61" r="3" fill="#1890FF" fill-opacity="0.65"/>
<circle cx="2036.32" cy="1101.17" r="3" fill="#1890FF" fill-opacity="0.65"/>
<circle cx="2060.92" cy="1107.56" r="3" fill="#1890FF" fill-opacity="0.65"/>
<circle cx="2036.32" cy="1103.43" r="3" fill="#1890FF" fill-opacity="0.65"/>
<circle cx="2006.57" cy="1124.48" r="3" fill="#1890FF" fill-opacity="0.65"/>
<circle cx="2037.52" cy="1112.08" r="3" fill="#1890FF" fill-opacity="0.65"/>
<circle cx="2012.92" cy="1099.29" r="3" fill="#1890FF" fill-opacity="0.65"/>
<circle cx="2034.34" cy="1134.64" r="3" fill="#1890FF" fill-opacity="0.65"/>
<circle cx="2009.35" cy="1121.48" r="3" fill="#1890FF" fill-opacity="0.65"/>
<circle cx="1974.83" cy="1141.78" r="3" fill="#1890FF" fill-opacity="0.65"/>
<circle cx="1995.86" cy="1139.9" r="3" fill="#1890FF" fill-opacity="0.65"/>
<circle cx="2049.02" cy="1103.8" r="3" fill="#1890FF" fill-opacity="0.65"/>
<circle cx="2036.32" cy="1128.81" r="3" fill="#1890FF" fill-opacity="0.65"/>
<circle cx="2002.2" cy="1114.71" r="3" fill="#1890FF" fill-opacity="0.65"/>
<circle cx="2032.36" cy="1124.48" r="3" fill="#1890FF" fill-opacity="0.65"/>
<circle cx="2021.25" cy="1123.73" r="3" fill="#1890FF" fill-opacity="0.65"/>
<circle cx="1994.27" cy="1147.98" r="3" fill="#1890FF" fill-opacity="0.65"/>
<circle cx="2006.57" cy="1135.76" r="3" fill="#1890FF" fill-opacity="0.65"/>
<circle cx="1992.68" cy="1142.53" r="3" fill="#1890FF" fill-opacity="0.65"/>
<circle cx="2007.76" cy="1125.24" r="3" fill="#1890FF" fill-opacity="0.65"/>
<circle cx="1992.68" cy="1129.37" r="3" fill="#1890FF" fill-opacity="0.65"/>
<circle cx="2075.21" cy="1108.32" r="3" fill="#1890FF" fill-opacity="0.65"/>
<circle cx="2008.16" cy="1122.23" r="3" fill="#1890FF" fill-opacity="0.65"/>
<circle cx="2000.62" cy="1133.13" r="3" fill="#1890FF" fill-opacity="0.65"/>
<circle cx="1961.34" cy="1096.28" r="3" fill="#1890FF" fill-opacity="0.65"/>
<circle cx="2029.18" cy="1133.51" r="3" fill="#1890FF" fill-opacity="0.65"/>
<circle cx="2031.96" cy="1104.18" r="3" fill="#1890FF" fill-opacity="0.65"/>
<circle cx="2049.02" cy="1124.11" r="3" fill="#1890FF" fill-opacity="0.65"/>
<circle cx="2043.47" cy="1128.24" r="3" fill="#1890FF" fill-opacity="0.65"/>
<circle cx="2068.07" cy="1101.17" r="3" fill="#1890FF" fill-opacity="0.65"/>
<circle cx="2013.71" cy="1121.48" r="3" fill="#1890FF" fill-opacity="0.65"/>
<circle cx="2008.55" cy="1098.54" r="3" fill="#1890FF" fill-opacity="0.65"/>
<circle cx="2030.37" cy="1111.32" r="3" fill="#1890FF" fill-opacity="0.65"/>
<circle cx="2023.63" cy="1127.49" r="3" fill="#1890FF" fill-opacity="0.65"/>
<circle cx="2047.04" cy="1036.12" r="3" fill="#1890FF" fill-opacity="0.65"/>
<circle cx="2010.54" cy="1136.52" r="3" fill="#1890FF" fill-opacity="0.65"/>
<circle cx="2033.94" cy="1114.71" r="3" fill="#1890FF" fill-opacity="0.65"/>
<circle cx="2027.6" cy="1122.98" r="3" fill="#1890FF" fill-opacity="0.65"/>
<circle cx="1994.67" cy="1144.41" r="3" fill="#1890FF" fill-opacity="0.65"/>
<circle cx="2026.8" cy="1115.46" r="3" fill="#1890FF" fill-opacity="0.65"/>
<circle cx="2001.41" cy="1130.12" r="3" fill="#1890FF" fill-opacity="0.65"/>
<circle cx="1996.65" cy="1149.3" r="3" fill="#1890FF" fill-opacity="0.65"/>
<circle cx="2009.35" cy="1132.38" r="3" fill="#1890FF" fill-opacity="0.65"/>
<circle cx="2005.38" cy="1139.52" r="3" fill="#1890FF" fill-opacity="0.65"/>
<circle cx="2001.81" cy="1120.72" r="3" fill="#1890FF" fill-opacity="0.65"/>
<circle cx="1954.99" cy="1149.68" r="3" fill="#1890FF" fill-opacity="0.65"/>
<circle cx="1986.73" cy="1123.36" r="3" fill="#1890FF" fill-opacity="0.65"/>
<circle cx="2009.35" cy="1127.87" r="3" fill="#1890FF" fill-opacity="0.65"/>
<circle cx="2047.04" cy="1117.34" r="3" fill="#1890FF" fill-opacity="0.65"/>
<circle cx="1976.81" cy="1141.4" r="3" fill="#1890FF" fill-opacity="0.65"/>
<circle cx="1982.76" cy="1107.56" r="3" fill="#1890FF" fill-opacity="0.65"/>
<circle cx="2012.52" cy="1132.76" r="3" fill="#1890FF" fill-opacity="0.65"/>
<circle cx="2000.22" cy="1131.63" r="3" fill="#1890FF" fill-opacity="0.65"/>
<circle cx="2007.76" cy="1124.86" r="3" fill="#1890FF" fill-opacity="0.65"/>
<circle cx="2024.42" cy="1121.48" r="3" fill="#1890FF" fill-opacity="0.65"/>
<circle cx="1996.65" cy="1130.88" r="3" fill="#1890FF" fill-opacity="0.65"/>
<circle cx="1996.65" cy="1152.68" r="3" fill="#1890FF" fill-opacity="0.65"/>
<circle cx="2031.96" cy="1120.16" r="3" fill="#1890FF" fill-opacity="0.65"/>
<circle cx="1989.51" cy="1146.67" r="3" fill="#1890FF" fill-opacity="0.65"/>
<circle cx="1980.78" cy="1112.83" r="3" fill="#1890FF" fill-opacity="0.65"/>
<circle cx="1996.65" cy="1142.16" r="3" fill="#1890FF" fill-opacity="0.65"/>
<circle cx="2024.82" cy="1116.96" r="3" fill="#1890FF" fill-opacity="0.65"/>
<circle cx="1988.71" cy="1129.56" r="3" fill="#1890FF" fill-opacity="0.65"/>
<circle cx="2026.8" cy="1125.24" r="3" fill="#1890FF" fill-opacity="0.65"/>
<circle cx="1980.78" cy="1131.25" r="3" fill="#1890FF" fill-opacity="0.65"/>
<circle cx="2004.98" cy="1122.6" r="3" fill="#1890FF" fill-opacity="0.65"/>
<circle cx="2049.81" cy="1134.82" r="3" fill="#1890FF" fill-opacity="0.65"/>
<circle cx="1995.86" cy="1133.88" r="3" fill="#1890FF" fill-opacity="0.65"/>
<circle cx="2038.31" cy="1112.64" r="3" fill="#1890FF" fill-opacity="0.65"/>
<circle cx="1993.48" cy="1136.52" r="3" fill="#1890FF" fill-opacity="0.65"/>
<circle cx="1986.73" cy="1128.62" r="3" fill="#1890FF" fill-opacity="0.65"/>
<circle cx="2001.81" cy="1114.33" r="3" fill="#1890FF" fill-opacity="0.65"/>
<circle cx="2006.97" cy="1115.08" r="3" fill="#1890FF" fill-opacity="0.65"/>
<circle cx="1996.65" cy="1122.04" r="3" fill="#1890FF" fill-opacity="0.65"/>
<circle cx="2031.96" cy="1127.12" r="3" fill="#1890FF" fill-opacity="0.65"/>
<circle cx="2016.88" cy="1113.39" r="3" fill="#1890FF" fill-opacity="0.65"/>
<circle cx="2006.97" cy="1139.9" r="3" fill="#1890FF" fill-opacity="0.65"/>
<circle cx="2016.88" cy="1097.98" r="3" fill="#1890FF" fill-opacity="0.65"/>
<circle cx="2022.04" cy="1130.5" r="3" fill="#1890FF" fill-opacity="0.65"/>
<circle cx="1996.65" cy="1128.81" r="3" fill="#1890FF" fill-opacity="0.65"/>
<circle cx="1966.5" cy="1120.35" r="3" fill="#1890FF" fill-opacity="0.65"/>
<circle cx="2037.12" cy="1103.99" r="3" fill="#1890FF" fill-opacity="0.65"/>
<circle cx="2006.97" cy="1075.04" r="3" fill="#1890FF" fill-opacity="0.65"/>
<circle cx="2037.12" cy="1128.81" r="3" fill="#1890FF" fill-opacity="0.65"/>
<circle cx="1991.89" cy="1129.56" r="3" fill="#1890FF" fill-opacity="0.65"/>
<circle cx="2047.04" cy="1103.24" r="3" fill="#1890FF" fill-opacity="0.65"/>
<circle cx="2026.8" cy="1090.27" r="3" fill="#1890FF" fill-opacity="0.65"/>
<circle cx="2006.97" cy="1118.47" r="3" fill="#1890FF" fill-opacity="0.65"/>
<circle cx="2026.8" cy="1110.01" r="3" fill="#1890FF" fill-opacity="0.65"/>
<circle cx="1981.57" cy="1123.73" r="3" fill="#1890FF" fill-opacity="0.65"/>
<circle cx="2056.96" cy="1108.32" r="3" fill="#1890FF" fill-opacity="0.65"/>
<circle cx="2044.66" cy="1127.49" r="3" fill="#1890FF" fill-opacity="0.65"/>
<circle cx="2006.97" cy="1123.73" r="3" fill="#1890FF" fill-opacity="0.65"/>
<circle cx="1996.65" cy="1128.81" r="3" fill="#1890FF" fill-opacity="0.65"/>
<circle cx="2016.88" cy="1122.79" r="3" fill="#1890FF" fill-opacity="0.65"/>
<circle cx="2087.51" cy="1080.12" r="3" fill="#1890FF" fill-opacity="0.65"/>
<circle cx="2022.04" cy="1100.98" r="3" fill="#1890FF" fill-opacity="0.65"/>
<circle cx="2016.88" cy="1127.12" r="3" fill="#1890FF" fill-opacity="0.65"/>
<circle cx="2067.27" cy="1121.1" r="3" fill="#1890FF" fill-opacity="0.65"/>
<circle cx="2016.88" cy="1124.48" r="3" fill="#1890FF" fill-opacity="0.65"/>
<circle cx="2057.35" cy="1097.22" r="3" fill="#1890FF" fill-opacity="0.65"/>
<circle cx="1976.42" cy="1132.19" r="3" fill="#1890FF" fill-opacity="0.65"/>
<circle cx="1991.89" cy="1141.59" r="3" fill="#1890FF" fill-opacity="0.65"/>
<circle cx="2047.04" cy="1091.21" r="3" fill="#1890FF" fill-opacity="0.65"/>
<circle cx="2031.96" cy="1130.5" r="3" fill="#1890FF" fill-opacity="0.65"/>
<circle cx="2001.81" cy="1126.18" r="3" fill="#1890FF" fill-opacity="0.65"/>
<circle cx="2026.8" cy="1130.5" r="3" fill="#1890FF" fill-opacity="0.65"/>
<circle cx="2016.88" cy="1110.76" r="3" fill="#1890FF" fill-opacity="0.65"/>
<circle cx="2057.35" cy="1110.76" r="3" fill="#1890FF" fill-opacity="0.65"/>
<circle cx="1986.73" cy="1142.53" r="3" fill="#1890FF" fill-opacity="0.65"/>
<circle cx="2011.73" cy="1123.73" r="3" fill="#1890FF" fill-opacity="0.65"/>
<circle cx="2026.8" cy="1114.33" r="3" fill="#1890FF" fill-opacity="0.65"/>
<circle cx="2016.88" cy="1130.12" r="3" fill="#1890FF" fill-opacity="0.65"/>
<circle cx="2016.88" cy="1116.02" r="3" fill="#1890FF" fill-opacity="0.65"/>
<circle cx="2031.96" cy="1127.49" r="3" fill="#1890FF" fill-opacity="0.65"/>
<circle cx="2006.97" cy="1132.57" r="3" fill="#1890FF" fill-opacity="0.65"/>
<circle cx="2014.5" cy="1115.08" r="3" fill="#1890FF" fill-opacity="0.65"/>
<circle cx="2062.11" cy="1095.53" r="3" fill="#1890FF" fill-opacity="0.65"/>
<circle cx="2031.96" cy="1117.34" r="3" fill="#1890FF" fill-opacity="0.65"/>
<circle cx="2057.35" cy="1114.33" r="3" fill="#1890FF" fill-opacity="0.65"/>
<circle cx="1994.27" cy="1133.88" r="3" fill="#1890FF" fill-opacity="0.65"/>
<circle cx="1996.65" cy="1133.51" r="3" fill="#1890FF" fill-opacity="0.65"/>
<circle cx="2037.12" cy="1130.5" r="3" fill="#1890FF" fill-opacity="0.65"/>
<circle cx="2006.97" cy="1101.36" r="3" fill="#1890FF" fill-opacity="0.65"/>
<circle cx="2026.8" cy="1131.44" r="3" fill="#1890FF" fill-opacity="0.65"/>
<circle cx="2006.97" cy="1131.44" r="3" fill="#1890FF" fill-opacity="0.65"/>
<circle cx="1999.43" cy="1128.81" r="3" fill="#1890FF" fill-opacity="0.65"/>
<circle cx="1996.65" cy="1122.98" r="3" fill="#1890FF" fill-opacity="0.65"/>
<circle cx="1986.73" cy="1114.33" r="3" fill="#1890FF" fill-opacity="0.65"/>
<circle cx="2006.97" cy="1131.44" r="3" fill="#1890FF" fill-opacity="0.65"/>
<circle cx="1966.5" cy="1144.98" r="3" fill="#1890FF" fill-opacity="0.65"/>
<circle cx="2037.12" cy="1106.62" r="3" fill="#1890FF" fill-opacity="0.65"/>
<circle cx="2016.88" cy="1081.81" r="3" fill="#1890FF" fill-opacity="0.65"/>
<circle cx="2047.04" cy="1101.36" r="3" fill="#1890FF" fill-opacity="0.65"/>
<circle cx="2016.88" cy="1119.41" r="3" fill="#1890FF" fill-opacity="0.65"/>
<circle cx="2037.12" cy="1114.33" r="3" fill="#1890FF" fill-opacity="0.65"/>
<circle cx="2037.12" cy="1131.44" r="3" fill="#1890FF" fill-opacity="0.65"/>
<circle cx="2037.12" cy="1122.79" r="3" fill="#1890FF" fill-opacity="0.65"/>
<circle cx="2001.81" cy="1101.36" r="3" fill="#1890FF" fill-opacity="0.65"/>
<circle cx="2026.8" cy="1134.82" r="3" fill="#1890FF" fill-opacity="0.65"/>
<circle cx="2026.8" cy="1116.02" r="3" fill="#1890FF" fill-opacity="0.65"/>
<circle cx="2016.88" cy="1071.66" r="3" fill="#1890FF" fill-opacity="0.65"/>
<circle cx="2006.97" cy="1109.07" r="3" fill="#1890FF" fill-opacity="0.65"/>
<circle cx="1966.5" cy="1107.38" r="3" fill="#1890FF" fill-opacity="0.65"/>
<circle cx="2031.96" cy="1115.46" r="3" fill="#1890FF" fill-opacity="0.65"/>
<circle cx="2037.12" cy="1095.53" r="3" fill="#1890FF" fill-opacity="0.65"/>
<circle cx="2056.96" cy="1116.78" r="3" fill="#1890FF" fill-opacity="0.65"/>
<circle cx="2056.96" cy="1125.42" r="3" fill="#1890FF" fill-opacity="0.65"/>
<circle cx="1996.65" cy="1129.75" r="3" fill="#1890FF" fill-opacity="0.65"/>
<circle cx="2016.88" cy="1038.19" r="3" fill="#1890FF" fill-opacity="0.65"/>
<circle cx="2052.19" cy="1129.56" r="3" fill="#1890FF" fill-opacity="0.65"/>
<circle cx="2037.12" cy="1088.58" r="3" fill="#1890FF" fill-opacity="0.65"/>
<circle cx="1996.65" cy="1082.56" r="3" fill="#1890FF" fill-opacity="0.65"/>
<circle cx="2026.8" cy="1112.64" r="3" fill="#1890FF" fill-opacity="0.65"/>
<circle cx="2026.8" cy="1097.98" r="3" fill="#1890FF" fill-opacity="0.65"/>
<circle cx="2026.8" cy="1118.47" r="3" fill="#1890FF" fill-opacity="0.65"/>
<circle cx="1976.42" cy="1124.48" r="3" fill="#1890FF" fill-opacity="0.65"/>
<circle cx="2006.97" cy="1080.12" r="3" fill="#1890FF" fill-opacity="0.65"/>
<circle cx="2057.35" cy="1114.33" r="3" fill="#1890FF" fill-opacity="0.65"/>
<circle cx="2041.88" cy="1133.51" r="3" fill="#1890FF" fill-opacity="0.65"/>
<circle cx="1986.73" cy="1131.44" r="3" fill="#1890FF" fill-opacity="0.65"/>
<circle cx="2016.88" cy="1133.13" r="3" fill="#1890FF" fill-opacity="0.65"/>
<circle cx="1996.65" cy="1121.1" r="3" fill="#1890FF" fill-opacity="0.65"/>
<circle cx="2052.19" cy="1095.53" r="3" fill="#1890FF" fill-opacity="0.65"/>
<circle cx="2006.97" cy="1118.47" r="3" fill="#1890FF" fill-opacity="0.65"/>
<circle cx="2052.19" cy="1129.56" r="3" fill="#1890FF" fill-opacity="0.65"/>
<circle cx="2006.97" cy="1114.33" r="3" fill="#1890FF" fill-opacity="0.65"/>
<circle cx="2001.81" cy="1119.41" r="3" fill="#1890FF" fill-opacity="0.65"/>
<circle cx="1981.57" cy="1121.1" r="3" fill="#1890FF" fill-opacity="0.65"/>
<circle cx="1956.58" cy="1145.92" r="3" fill="#1890FF" fill-opacity="0.65"/>
<circle cx="2034.34" cy="1126.18" r="3" fill="#1890FF" fill-opacity="0.65"/>
<circle cx="1996.65" cy="1113.39" r="3" fill="#1890FF" fill-opacity="0.65"/>
<circle cx="2057.35" cy="1114.33" r="3" fill="#1890FF" fill-opacity="0.65"/>
<circle cx="2034.34" cy="1107.38" r="3" fill="#1890FF" fill-opacity="0.65"/>
<circle cx="1996.65" cy="1091.96" r="3" fill="#1890FF" fill-opacity="0.65"/>
<circle cx="2047.04" cy="1105.68" r="3" fill="#1890FF" fill-opacity="0.65"/>
<circle cx="2006.97" cy="1118.47" r="3" fill="#1890FF" fill-opacity="0.65"/>
<circle cx="1986.73" cy="1089.52" r="3" fill="#1890FF" fill-opacity="0.65"/>
<circle cx="2062.11" cy="1098.92" r="3" fill="#1890FF" fill-opacity="0.65"/>
<circle cx="2014.11" cy="1129.56" r="3" fill="#1890FF" fill-opacity="0.65"/>
<circle cx="1999.43" cy="1142.53" r="3" fill="#1890FF" fill-opacity="0.65"/>
<circle cx="2052.19" cy="1109.07" r="3" fill="#1890FF" fill-opacity="0.65"/>
<circle cx="2011.73" cy="1107.38" r="3" fill="#1890FF" fill-opacity="0.65"/>
<circle cx="2052.19" cy="1110.57" r="3" fill="#2FC25B" fill-opacity="0.65"/>
<circle cx="2057.35" cy="1098.92" r="3" fill="#2FC25B" fill-opacity="0.65"/>
<circle cx="2129.56" cy="1082.18" r="3" fill="#2FC25B" fill-opacity="0.65"/>
<circle cx="2101.79" cy="1097.41" r="3" fill="#2FC25B" fill-opacity="0.65"/>
<circle cx="2104.57" cy="1085.76" r="3" fill="#2FC25B" fill-opacity="0.65"/>
<circle cx="2081.95" cy="1093.28" r="3" fill="#2FC25B" fill-opacity="0.65"/>
<circle cx="2091.87" cy="1071.47" r="3" fill="#2FC25B" fill-opacity="0.65"/>
<circle cx="2093.85" cy="1086.51" r="3" fill="#2FC25B" fill-opacity="0.65"/>
<circle cx="2056.16" cy="1117.34" r="3" fill="#2FC25B" fill-opacity="0.65"/>
<circle cx="2091.87" cy="1080.49" r="3" fill="#2FC25B" fill-opacity="0.65"/>
<circle cx="2076" cy="1089.89" r="3" fill="#2FC25B" fill-opacity="0.65"/>
<circle cx="2067.27" cy="1076.73" r="3" fill="#2FC25B" fill-opacity="0.65"/>
<circle cx="2123.61" cy="1064.7" r="3" fill="#2FC25B" fill-opacity="0.65"/>
<circle cx="2060.13" cy="1093.65" r="3" fill="#2FC25B" fill-opacity="0.65"/>
<circle cx="2052.19" cy="1100.42" r="3" fill="#2FC25B" fill-opacity="0.65"/>
<circle cx="2091.87" cy="1084.25" r="3" fill="#2FC25B" fill-opacity="0.65"/>
<circle cx="2126.39" cy="1057.56" r="3" fill="#2FC25B" fill-opacity="0.65"/>
<circle cx="2042.28" cy="1102.3" r="3" fill="#2FC25B" fill-opacity="0.65"/>
<circle cx="2048.23" cy="1097.79" r="3" fill="#2FC25B" fill-opacity="0.65"/>
<circle cx="2060.13" cy="1072.41" r="3" fill="#2FC25B" fill-opacity="0.65"/>
<circle cx="2060.13" cy="1085.76" r="3" fill="#2FC25B" fill-opacity="0.65"/>
<circle cx="2077.98" cy="1087.64" r="3" fill="#2FC25B" fill-opacity="0.65"/>
<circle cx="2047.04" cy="1109.44" r="3" fill="#2FC25B" fill-opacity="0.65"/>
<circle cx="2060.13" cy="1071.47" r="3" fill="#2FC25B" fill-opacity="0.65"/>
<circle cx="2050.21" cy="1080.12" r="3" fill="#2FC25B" fill-opacity="0.65"/>
<circle cx="2068.07" cy="1065.45" r="3" fill="#2FC25B" fill-opacity="0.65"/>
<circle cx="2077.19" cy="1078.24" r="3" fill="#2FC25B" fill-opacity="0.65"/>
<circle cx="2077.19" cy="1090.27" r="3" fill="#2FC25B" fill-opacity="0.65"/>
<circle cx="2014.5" cy="1115.08" r="3" fill="#2FC25B" fill-opacity="0.65"/>
<circle cx="2048.23" cy="1119.41" r="3" fill="#2FC25B" fill-opacity="0.65"/>
<circle cx="2089.89" cy="1093.28" r="3" fill="#2FC25B" fill-opacity="0.65"/>
<circle cx="2058.15" cy="1102.3" r="3" fill="#2FC25B" fill-opacity="0.65"/>
<circle cx="2107.74" cy="1097.79" r="3" fill="#2FC25B" fill-opacity="0.65"/>
<circle cx="2112.5" cy="1075.79" r="3" fill="#2FC25B" fill-opacity="0.65"/>
<circle cx="2047.43" cy="1103.99" r="3" fill="#2FC25B" fill-opacity="0.65"/>
<circle cx="2036.32" cy="1122.04" r="3" fill="#2FC25B" fill-opacity="0.65"/>
<circle cx="2083.93" cy="1107.56" r="3" fill="#2FC25B" fill-opacity="0.65"/>
<circle cx="2036.32" cy="1118.66" r="3" fill="#2FC25B" fill-opacity="0.65"/>
<circle cx="2067.27" cy="1104.93" r="3" fill="#2FC25B" fill-opacity="0.65"/>
<circle cx="2092.66" cy="1083.31" r="3" fill="#2FC25B" fill-opacity="0.65"/>
<circle cx="2102.58" cy="1068.84" r="3" fill="#2FC25B" fill-opacity="0.65"/>
<circle cx="2041.88" cy="1074.66" r="3" fill="#2FC25B" fill-opacity="0.65"/>
<circle cx="2047.04" cy="1095.91" r="3" fill="#2FC25B" fill-opacity="0.65"/>
<circle cx="2057.35" cy="1098.35" r="3" fill="#2FC25B" fill-opacity="0.65"/>
<circle cx="2077.19" cy="1078.61" r="3" fill="#2FC25B" fill-opacity="0.65"/>
<circle cx="2087.51" cy="1067.14" r="3" fill="#2FC25B" fill-opacity="0.65"/>
<circle cx="2107.74" cy="1075.79" r="3" fill="#2FC25B" fill-opacity="0.65"/>
<circle cx="2064.89" cy="1056.99" r="3" fill="#2FC25B" fill-opacity="0.65"/>
<circle cx="2044.66" cy="1093.09" r="3" fill="#2FC25B" fill-opacity="0.65"/>
<circle cx="2024.42" cy="1122.79" r="3" fill="#2FC25B" fill-opacity="0.65"/>
<circle cx="2034.34" cy="1091.77" r="3" fill="#2FC25B" fill-opacity="0.65"/>
<circle cx="2052.19" cy="1071.84" r="3" fill="#2FC25B" fill-opacity="0.65"/>
<circle cx="2047.04" cy="1092.34" r="3" fill="#2FC25B" fill-opacity="0.65"/>
<circle cx="2084.73" cy="1070.15" r="3" fill="#2FC25B" fill-opacity="0.65"/>
<circle cx="2012.92" cy="1130.12" r="3" fill="#2FC25B" fill-opacity="0.65"/>
<circle cx="2008.55" cy="1126.74" r="3" fill="#2FC25B" fill-opacity="0.65"/>
<circle cx="2042.28" cy="1118.47" r="3" fill="#2FC25B" fill-opacity="0.65"/>
<circle cx="2092.66" cy="1089.52" r="3" fill="#2FC25B" fill-opacity="0.65"/>
<circle cx="2052.19" cy="1070.72" r="3" fill="#2FC25B" fill-opacity="0.65"/>
<circle cx="2052.19" cy="1098.16" r="3" fill="#2FC25B" fill-opacity="0.65"/>
<circle cx="2064.1" cy="1099.29" r="3" fill="#2FC25B" fill-opacity="0.65"/>
<circle cx="2099.8" cy="1074.48" r="3" fill="#2FC25B" fill-opacity="0.65"/>
<circle cx="2024.42" cy="1105.68" r="3" fill="#2FC25B" fill-opacity="0.65"/>
<circle cx="2043.47" cy="1109.63" r="3" fill="#2FC25B" fill-opacity="0.65"/>
<circle cx="2083.93" cy="1098.54" r="3" fill="#2FC25B" fill-opacity="0.65"/>
<circle cx="2024.42" cy="1112.45" r="3" fill="#2FC25B" fill-opacity="0.65"/>
<circle cx="2067.27" cy="1093.28" r="3" fill="#2FC25B" fill-opacity="0.65"/>
<circle cx="2014.5" cy="1102.3" r="3" fill="#2FC25B" fill-opacity="0.65"/>
<circle cx="2123.61" cy="1042.89" r="3" fill="#2FC25B" fill-opacity="0.65"/>
<circle cx="2058.15" cy="1115.08" r="3" fill="#2FC25B" fill-opacity="0.65"/>
<circle cx="2041.09" cy="1085.19" r="3" fill="#2FC25B" fill-opacity="0.65"/>
<circle cx="2082.35" cy="1085.57" r="3" fill="#2FC25B" fill-opacity="0.65"/>
<circle cx="2026.01" cy="1106.62" r="3" fill="#2FC25B" fill-opacity="0.65"/>
<circle cx="2080.36" cy="1109.82" r="3" fill="#2FC25B" fill-opacity="0.65"/>
<circle cx="2064.1" cy="1105.68" r="3" fill="#2FC25B" fill-opacity="0.65"/>
<circle cx="2054.18" cy="1113.77" r="3" fill="#2FC25B" fill-opacity="0.65"/>
<circle cx="2066.08" cy="1098.54" r="3" fill="#2FC25B" fill-opacity="0.65"/>
<circle cx="2038.31" cy="1127.12" r="3" fill="#2FC25B" fill-opacity="0.65"/>
<circle cx="2085.52" cy="1093.84" r="3" fill="#2FC25B" fill-opacity="0.65"/>
<circle cx="2143.84" cy="1063.01" r="3" fill="#2FC25B" fill-opacity="0.65"/>
<circle cx="2076.4" cy="1059.06" r="3" fill="#2FC25B" fill-opacity="0.65"/>
<circle cx="2058.15" cy="1081.81" r="3" fill="#2FC25B" fill-opacity="0.65"/>
<circle cx="2078.38" cy="1097.22" r="3" fill="#2FC25B" fill-opacity="0.65"/>
<circle cx="2093.46" cy="1106.06" r="3" fill="#2FC25B" fill-opacity="0.65"/>
<circle cx="2058.15" cy="1100.61" r="3" fill="#2FC25B" fill-opacity="0.65"/>
<circle cx="2078.38" cy="1097.6" r="3" fill="#2FC25B" fill-opacity="0.65"/>
<circle cx="2064.1" cy="1097.6" r="3" fill="#2FC25B" fill-opacity="0.65"/>
<circle cx="2064.49" cy="1077.11" r="3" fill="#2FC25B" fill-opacity="0.65"/>
<circle cx="2082.35" cy="1091.96" r="3" fill="#2FC25B" fill-opacity="0.65"/>
<circle cx="2062.11" cy="1096.66" r="3" fill="#2FC25B" fill-opacity="0.65"/>
<circle cx="2056.16" cy="1101.92" r="3" fill="#2FC25B" fill-opacity="0.65"/>
<circle cx="2052.19" cy="1095.91" r="3" fill="#2FC25B" fill-opacity="0.65"/>
<circle cx="2016.88" cy="1101.36" r="3" fill="#2FC25B" fill-opacity="0.65"/>
<circle cx="2064.1" cy="1104.37" r="3" fill="#2FC25B" fill-opacity="0.65"/>
<circle cx="2123.61" cy="1041.58" r="3" fill="#2FC25B" fill-opacity="0.65"/>
<circle cx="2062.11" cy="1105.31" r="3" fill="#2FC25B" fill-opacity="0.65"/>
<circle cx="2033.94" cy="1110.01" r="3" fill="#2FC25B" fill-opacity="0.65"/>
<circle cx="2084.33" cy="1091.58" r="3" fill="#2FC25B" fill-opacity="0.65"/>
<circle cx="2075.21" cy="1075.04" r="3" fill="#2FC25B" fill-opacity="0.65"/>
<circle cx="2057.35" cy="1069.02" r="3" fill="#2FC25B" fill-opacity="0.65"/>
<circle cx="2095.44" cy="1071.47" r="3" fill="#2FC25B" fill-opacity="0.65"/>
<circle cx="2065.29" cy="1096.28" r="3" fill="#2FC25B" fill-opacity="0.65"/>
<circle cx="2026.01" cy="1132.57" r="3" fill="#2FC25B" fill-opacity="0.65"/>
<circle cx="2068.46" cy="1098.54" r="3" fill="#2FC25B" fill-opacity="0.65"/>
<circle cx="2031.96" cy="1129.56" r="3" fill="#2FC25B" fill-opacity="0.65"/>
<circle cx="1985.54" cy="1124.11" r="3" fill="#2FC25B" fill-opacity="0.65"/>
<circle cx="2077.19" cy="1077.48" r="3" fill="#2FC25B" fill-opacity="0.65"/>
<circle cx="2037.12" cy="1097.22" r="3" fill="#2FC25B" fill-opacity="0.65"/>
<circle cx="2067.27" cy="1113.39" r="3" fill="#2FC25B" fill-opacity="0.65"/>
<circle cx="2047.04" cy="1097.98" r="3" fill="#2FC25B" fill-opacity="0.65"/>
<circle cx="2016.88" cy="1111.7" r="3" fill="#2FC25B" fill-opacity="0.65"/>
<circle cx="2102.58" cy="1071.47" r="3" fill="#2FC25B" fill-opacity="0.65"/>
<circle cx="2016.88" cy="1111.7" r="3" fill="#2FC25B" fill-opacity="0.65"/>
<circle cx="2052.19" cy="1067.33" r="3" fill="#2FC25B" fill-opacity="0.65"/>
<circle cx="2057.35" cy="1075.79" r="3" fill="#2FC25B" fill-opacity="0.65"/>
<circle cx="2097.42" cy="1108.32" r="3" fill="#2FC25B" fill-opacity="0.65"/>
<circle cx="2067.27" cy="1091.96" r="3" fill="#2FC25B" fill-opacity="0.65"/>
<circle cx="2077.19" cy="1058.68" r="3" fill="#2FC25B" fill-opacity="0.65"/>
<circle cx="2077.19" cy="1078.42" r="3" fill="#2FC25B" fill-opacity="0.65"/>
<circle cx="2067.27" cy="1124.86" r="3" fill="#2FC25B" fill-opacity="0.65"/>
<circle cx="2067.27" cy="1084.44" r="3" fill="#2FC25B" fill-opacity="0.65"/>
<circle cx="2067.27" cy="1086.13" r="3" fill="#2FC25B" fill-opacity="0.65"/>
<circle cx="2067.27" cy="1098.92" r="3" fill="#2FC25B" fill-opacity="0.65"/>
<circle cx="2067.27" cy="1015.07" r="3" fill="#2FC25B" fill-opacity="0.65"/>
<circle cx="2011.73" cy="1098.16" r="3" fill="#2FC25B" fill-opacity="0.65"/>
<circle cx="2107.74" cy="1076.73" r="3" fill="#2FC25B" fill-opacity="0.65"/>
<circle cx="2147.81" cy="1073.16" r="3" fill="#2FC25B" fill-opacity="0.65"/>
<circle cx="2057.35" cy="1063.01" r="3" fill="#2FC25B" fill-opacity="0.65"/>
<circle cx="2022.04" cy="1072.41" r="3" fill="#2FC25B" fill-opacity="0.65"/>
<circle cx="2117.66" cy="1066.39" r="3" fill="#2FC25B" fill-opacity="0.65"/>
<circle cx="2022.04" cy="1092.9" r="3" fill="#2FC25B" fill-opacity="0.65"/>
<circle cx="2067.27" cy="1087.82" r="3" fill="#2FC25B" fill-opacity="0.65"/>
<circle cx="2074.81" cy="1071.47" r="3" fill="#2FC25B" fill-opacity="0.65"/>
<circle cx="2047.04" cy="1063.01" r="3" fill="#2FC25B" fill-opacity="0.65"/>
<circle cx="2117.66" cy="1095.53" r="3" fill="#2FC25B" fill-opacity="0.65"/>
<circle cx="2097.42" cy="1090.27" r="3" fill="#2FC25B" fill-opacity="0.65"/>
<circle cx="2031.96" cy="1103.99" r="3" fill="#2FC25B" fill-opacity="0.65"/>
<circle cx="2026.8" cy="1075.04" r="3" fill="#2FC25B" fill-opacity="0.65"/>
<circle cx="2057.35" cy="1112.64" r="3" fill="#2FC25B" fill-opacity="0.65"/>
<circle cx="2037.12" cy="1103.99" r="3" fill="#2FC25B" fill-opacity="0.65"/>
<circle cx="2117.66" cy="1029.73" r="3" fill="#2FC25B" fill-opacity="0.65"/>
<circle cx="2067.27" cy="1071.47" r="3" fill="#2FC25B" fill-opacity="0.65"/>
<circle cx="2117.66" cy="1081.81" r="3" fill="#2FC25B" fill-opacity="0.65"/>
<circle cx="2067.27" cy="1069.02" r="3" fill="#2FC25B" fill-opacity="0.65"/>
<circle cx="2092.66" cy="1056.24" r="3" fill="#2FC25B" fill-opacity="0.65"/>
<circle cx="2062.11" cy="1083.12" r="3" fill="#2FC25B" fill-opacity="0.65"/>
<circle cx="2067.27" cy="1098.54" r="3" fill="#2FC25B" fill-opacity="0.65"/>
<circle cx="2077.19" cy="1099.67" r="3" fill="#2FC25B" fill-opacity="0.65"/>
<circle cx="2041.88" cy="1097.22" r="3" fill="#2FC25B" fill-opacity="0.65"/>
<circle cx="2047.04" cy="1075.79" r="3" fill="#2FC25B" fill-opacity="0.65"/>
<circle cx="2047.04" cy="1089.52" r="3" fill="#2FC25B" fill-opacity="0.65"/>
<circle cx="2067.27" cy="1114.33" r="3" fill="#2FC25B" fill-opacity="0.65"/>
<circle cx="2067.27" cy="1081.81" r="3" fill="#2FC25B" fill-opacity="0.65"/>
<circle cx="2087.51" cy="1081.81" r="3" fill="#2FC25B" fill-opacity="0.65"/>
<circle cx="2037.12" cy="1073.16" r="3" fill="#2FC25B" fill-opacity="0.65"/>
<circle cx="2026.8" cy="1104.93" r="3" fill="#2FC25B" fill-opacity="0.65"/>
<circle cx="2057.35" cy="1106.62" r="3" fill="#2FC25B" fill-opacity="0.65"/>
<circle cx="2016.88" cy="1109.07" r="3" fill="#2FC25B" fill-opacity="0.65"/>
<circle cx="2097.42" cy="1041.58" r="3" fill="#2FC25B" fill-opacity="0.65"/>
<circle cx="2082.35" cy="1101.36" r="3" fill="#2FC25B" fill-opacity="0.65"/>
<circle cx="2047.04" cy="1053.61" r="3" fill="#2FC25B" fill-opacity="0.65"/>
<circle cx="2117.66" cy="1075.79" r="3" fill="#2FC25B" fill-opacity="0.65"/>
<circle cx="2072.43" cy="1069.78" r="3" fill="#2FC25B" fill-opacity="0.65"/>
<circle cx="2057.35" cy="1098.92" r="3" fill="#2FC25B" fill-opacity="0.65"/>
<circle cx="2037.12" cy="1110.01" r="3" fill="#2FC25B" fill-opacity="0.65"/>
<circle cx="2127.58" cy="1053.61" r="3" fill="#2FC25B" fill-opacity="0.65"/>
<circle cx="2041.88" cy="1062.07" r="3" fill="#2FC25B" fill-opacity="0.65"/>
<circle cx="2067.27" cy="1080.12" r="3" fill="#2FC25B" fill-opacity="0.65"/>
<circle cx="2067.27" cy="1051.92" r="3" fill="#2FC25B" fill-opacity="0.65"/>
<circle cx="2026.8" cy="1103.99" r="3" fill="#2FC25B" fill-opacity="0.65"/>
<circle cx="2026.8" cy="1078.42" r="3" fill="#2FC25B" fill-opacity="0.65"/>
<circle cx="2077.19" cy="1091.96" r="3" fill="#2FC25B" fill-opacity="0.65"/>
<circle cx="2087.51" cy="1084.44" r="3" fill="#2FC25B" fill-opacity="0.65"/>
<circle cx="2062.11" cy="1095.53" r="3" fill="#2FC25B" fill-opacity="0.65"/>
<circle cx="2102.58" cy="1061.32" r="3" fill="#2FC25B" fill-opacity="0.65"/>
<circle cx="2107.74" cy="1075.79" r="3" fill="#2FC25B" fill-opacity="0.65"/>
<circle cx="2107.74" cy="1072.41" r="3" fill="#2FC25B" fill-opacity="0.65"/>
<circle cx="2067.27" cy="1080.12" r="3" fill="#2FC25B" fill-opacity="0.65"/>
<circle cx="2052.19" cy="1078.8" r="3" fill="#2FC25B" fill-opacity="0.65"/>
<circle cx="2067.27" cy="1082.56" r="3" fill="#2FC25B" fill-opacity="0.65"/>
<circle cx="2041.88" cy="1102.3" r="3" fill="#2FC25B" fill-opacity="0.65"/>
<circle cx="2097.42" cy="1080.12" r="3" fill="#2FC25B" fill-opacity="0.65"/>
<circle cx="2097.42" cy="1075.79" r="3" fill="#2FC25B" fill-opacity="0.65"/>
<circle cx="2107.74" cy="1063.76" r="3" fill="#2FC25B" fill-opacity="0.65"/>
<circle cx="2107.74" cy="1062.07" r="3" fill="#2FC25B" fill-opacity="0.65"/>
<circle cx="2087.51" cy="1066.39" r="3" fill="#2FC25B" fill-opacity="0.65"/>
<circle cx="2062.11" cy="1074.1" r="3" fill="#2FC25B" fill-opacity="0.65"/>
<circle cx="2057.35" cy="1103.99" r="3" fill="#2FC25B" fill-opacity="0.65"/>
<circle cx="2057.35" cy="1095.53" r="3" fill="#2FC25B" fill-opacity="0.65"/>
<circle cx="2107.74" cy="1082.56" r="3" fill="#2FC25B" fill-opacity="0.65"/>
<circle cx="2107.74" cy="1078.42" r="3" fill="#2FC25B" fill-opacity="0.65"/>
<circle cx="2057.35" cy="1071.47" r="3" fill="#2FC25B" fill-opacity="0.65"/>
<circle cx="2038.31" cy="1106.62" r="3" fill="#2FC25B" fill-opacity="0.65"/>
<circle cx="2072.43" cy="1059.62" r="3" fill="#2FC25B" fill-opacity="0.65"/>
<circle cx="2067.27" cy="1057.93" r="3" fill="#2FC25B" fill-opacity="0.65"/>
<circle cx="2057.35" cy="1100.61" r="3" fill="#2FC25B" fill-opacity="0.65"/>
<circle cx="2087.51" cy="1092.9" r="3" fill="#2FC25B" fill-opacity="0.65"/>
<circle cx="2039.5" cy="1058.68" r="3" fill="#2FC25B" fill-opacity="0.65"/>
<circle cx="2107.74" cy="1058.68" r="3" fill="#2FC25B" fill-opacity="0.65"/>
<circle cx="2077.19" cy="1087.82" r="3" fill="#2FC25B" fill-opacity="0.65"/>
<circle cx="2067.27" cy="1118.47" r="3" fill="#2FC25B" fill-opacity="0.65"/>
<circle cx="2097.42" cy="1056.99" r="3" fill="#2FC25B" fill-opacity="0.65"/>
<circle cx="2031.96" cy="1092.9" r="3" fill="#2FC25B" fill-opacity="0.65"/>
<circle cx="2097.42" cy="1076.73" r="3" fill="#2FC25B" fill-opacity="0.65"/>
<circle cx="2077.19" cy="1073.16" r="3" fill="#2FC25B" fill-opacity="0.65"/>
<circle cx="2052.19" cy="1094.97" r="3" fill="#2FC25B" fill-opacity="0.65"/>
<circle cx="2026.8" cy="1108.32" r="3" fill="#2FC25B" fill-opacity="0.65"/>
<circle cx="2087.51" cy="1069.78" r="3" fill="#2FC25B" fill-opacity="0.65"/>
<circle cx="1996.65" cy="1097.98" r="3" fill="#2FC25B" fill-opacity="0.65"/>
<circle cx="2077.19" cy="1067.33" r="3" fill="#2FC25B" fill-opacity="0.65"/>
<circle cx="2026.8" cy="1091.96" r="3" fill="#2FC25B" fill-opacity="0.65"/>
<circle cx="2102.58" cy="1043.27" r="3" fill="#2FC25B" fill-opacity="0.65"/>
<circle cx="2057.35" cy="1062.63" r="3" fill="#2FC25B" fill-opacity="0.65"/>
<circle cx="2057.35" cy="1107.38" r="3" fill="#2FC25B" fill-opacity="0.65"/>
<circle cx="2059.73" cy="1087.82" r="3" fill="#2FC25B" fill-opacity="0.65"/>
<circle cx="2057.35" cy="1080.12" r="3" fill="#2FC25B" fill-opacity="0.65"/>
<circle cx="2072.43" cy="1091.96" r="3" fill="#2FC25B" fill-opacity="0.65"/>
<circle cx="2082.35" cy="1075.04" r="3" fill="#2FC25B" fill-opacity="0.65"/>
<circle cx="2067.27" cy="1089.89" r="3" fill="#2FC25B" fill-opacity="0.65"/>
<circle cx="2087.51" cy="1074.1" r="3" fill="#2FC25B" fill-opacity="0.65"/>
<circle cx="2067.27" cy="1041.2" r="3" fill="#2FC25B" fill-opacity="0.65"/>
<circle cx="2092.66" cy="1088.58" r="3" fill="#2FC25B" fill-opacity="0.65"/>
<circle cx="2072.43" cy="1098.92" r="3" fill="#2FC25B" fill-opacity="0.65"/>
<circle cx="2062.11" cy="1068.65" r="3" fill="#2FC25B" fill-opacity="0.65"/>
<circle cx="2107.74" cy="1056.62" r="3" fill="#2FC25B" fill-opacity="0.65"/>
<circle cx="2052.19" cy="1100.61" r="3" fill="#2FC25B" fill-opacity="0.65"/>
<circle cx="2026.8" cy="1112.64" r="3" fill="#2FC25B" fill-opacity="0.65"/>
<circle cx="2037.12" cy="1088.58" r="3" fill="#2FC25B" fill-opacity="0.65"/>
<circle cx="2026.8" cy="1097.98" r="3" fill="#2FC25B" fill-opacity="0.65"/>
<circle cx="2107.74" cy="1069.78" r="3" fill="#2FC25B" fill-opacity="0.65"/>
<circle cx="2052.19" cy="1083.5" r="3" fill="#2FC25B" fill-opacity="0.65"/>
<circle cx="2062.11" cy="1079.18" r="3" fill="#2FC25B" fill-opacity="0.65"/>
<circle cx="2077.19" cy="1095.53" r="3" fill="#2FC25B" fill-opacity="0.65"/>
<circle cx="2026.8" cy="1094.59" r="3" fill="#2FC25B" fill-opacity="0.65"/>
<circle cx="2107.74" cy="1072.41" r="3" fill="#2FC25B" fill-opacity="0.65"/>
<circle cx="2077.19" cy="1096.28" r="3" fill="#2FC25B" fill-opacity="0.65"/>
<circle cx="2026.8" cy="1090.46" r="3" fill="#2FC25B" fill-opacity="0.65"/>
<circle cx="2087.9" cy="1110.01" r="3" fill="#2FC25B" fill-opacity="0.65"/>
<circle cx="2087.9" cy="1063.01" r="3" fill="#2FC25B" fill-opacity="0.65"/>
<circle cx="2072.43" cy="1066.39" r="3" fill="#2FC25B" fill-opacity="0.65"/>
<circle cx="2037.12" cy="1116.78" r="3" fill="#2FC25B" fill-opacity="0.65"/>
<circle cx="2067.27" cy="1078.42" r="3" fill="#2FC25B" fill-opacity="0.65"/>
<circle cx="2072.43" cy="1085.19" r="3" fill="#2FC25B" fill-opacity="0.65"/>
<circle cx="2117.66" cy="1049.28" r="3" fill="#2FC25B" fill-opacity="0.65"/>
<circle cx="2067.27" cy="1075.79" r="3" fill="#2FC25B" fill-opacity="0.65"/>
<circle cx="2077.19" cy="1077.48" r="3" fill="#2FC25B" fill-opacity="0.65"/>
<circle cx="2077.19" cy="1077.48" r="3" fill="#2FC25B" fill-opacity="0.65"/>
</svg>
</body></html>
